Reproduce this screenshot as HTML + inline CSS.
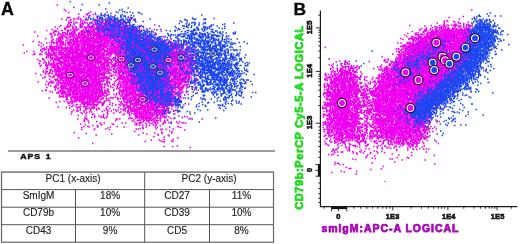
<!DOCTYPE html>
<html><head><meta charset="utf-8"><title>Figure</title><style>
html,body{margin:0;padding:0;background:#fff;width:520px;height:244px;overflow:hidden}
svg{position:absolute;left:0;top:0;display:block}
text{font-family:"Liberation Sans",sans-serif}
</style></head><body>
<svg width="520" height="244" viewBox="0 0 520 244">
<filter id="bl" x="0" y="0" width="1" height="1"><feGaussianBlur stdDeviation="0.6"/></filter><g transform="scale(.5)" fill="none" filter="url(#bl)"><path stroke="#f000f0" stroke-width="3.2" d="M113 10h3m11 9h3m0 3h3m47 2h3m30 0h3m-80 1h3m37 1h3m10 0h3m-36 2h3m14 0h3m-5 1h3m11 0h3m-14 1h3m28 1h3m-42 2h3m24 0h3m53 0h3m-96 1h3m-23 1h3m-1 0h3m36 0h3m13 0h3m29 0h3m31 0h3m-129 1h3m35 0h3m12 0h3m9 0h3m61 0h3m-119 1h3m4 0h3m3 0h3m32 0h3m16 0h3m-94 1h3m30 0h3m46 0h3m62 0h3m-132 1h3m5 0h3m19 0h3m24 0h3m17 0h3m0 0h3m0 0h3m6 0h3m7 0h3m-114 1h3m26 0h3m10 0h3m14 0h3m14 0h3m-70 1h3m20 0h3m-2 0h3m49 0h3m9 0h3m-2 0h3m22 0h3m10 0h3m-86 1h3m4 0h3m7 0h3m8 0h3m-1 0h3m2 0h3m13 0h3m19 0h3m-124 1h3m7 0h3m39 0h3m37 0h3m2 0h3m-76 1h3m5 0h3m30 0h3m6 0h3m19 0h3m2 0h3m0 0h3m-105 1h3m0 0h3m9 0h3m8 0h3m14 0h3m15 0h3m-2 0h3m-2 0h3m12 0h3m-1 0h3m1 0h3m3 0h3m9 0h3m6 0h3m1 0h3m-119 1h3m10 0h3m16 0h3m1 0h3m2 0h3m1 0h3m4 0h3m13 0h3m0 0h3m20 0h3m11 0h3m-102 1h3m14 0h3m7 0h3m8 0h3m2 0h3m4 0h3m1 0h3m3 0h3m1 0h3m1 0h3m14 0h3m-99 1h3m21 0h3m-2 0h3m2 0h3m10 0h3m12 0h3m16 0h3m-2 0h3m14 0h3m17 0h3m-114 1h3m23 0h3m17 0h3m1 0h3m0 0h3m3 0h3m6 0h3m10 0h3m14 0h3m-81 1h3m24 0h3m3 0h3m8 0h3m9 0h3m8 0h3m5 0h3m3 0h3m1 0h3m4 0h3m4 0h3m47 0h3m-191 1h3m11 0h3m25 0h3m32 0h3m2 0h3m15 0h3m7 0h3m11 0h3m7 0h3m6 0h3m15 0h3m-145 1h3m1 0h3m13 0h3m-1 0h3m11 0h3m-2 0h3m4 0h3m6 0h3m0 0h3m-1 0h3m6 0h3m-1 0h3m24 0h3m-1 0h3m17 0h3m-142 1h3m12 0h3m1 0h3m-2 0h3m8 0h3m22 0h3m-1 0h3m-2 0h3m-1 0h3m-1 0h3m14 0h3m-1 0h3m1 0h3m6 0h3m1 0h3m6 0h3m0 0h3m-2 0h3m4 0h3m-2 0h3m11 0h3m4 0h3m8 0h3m-164 1h3m23 0h3m6 0h3m4 0h3m9 0h3m2 0h3m2 0h3m5 0h3m0 0h3m-1 0h3m-2 0h3m7 0h3m1 0h3m3 0h3m1 0h3m-1 0h3m1 0h3m0 0h3m17 0h3m0 0h3m-1 0h3m-1 0h3m1 0h3m5 0h3m2 0h3m-135 1h3m16 0h3m6 0h3m4 0h3m1 0h3m5 0h3m11 0h3m6 0h3m2 0h3m1 0h3m3 0h3m-2 0h3m5 0h3m7 0h3m3 0h3m23 0h3m-143 1h3m14 0h3m29 0h3m4 0h3m3 0h3m0 0h3m2 0h3m0 0h3m4 0h3m-2 0h3m2 0h3m5 0h3m10 0h3m4 0h3m3 0h3m-2 0h3m3 0h3m4 0h3m7 0h3m11 0h3m-175 1h3m12 0h3m19 0h3m16 0h3m9 0h3m0 0h3m4 0h3m2 0h3m5 0h3m0 0h3m0 0h3m3 0h3m4 0h3m-1 0h3m0 0h3m21 0h3m2 0h3m4 0h3m0 0h3m-143 1h3m12 0h3m10 0h3m12 0h3m9 0h3m4 0h3m21 0h3m6 0h3m-1 0h3m17 0h3m7 0h3m5 0h3m11 0h3m-177 1h3m23 0h3m15 0h3m0 0h3m13 0h3m6 0h3m1 0h3m4 0h3m0 0h3m2 0h3m3 0h3m-2 0h3m-1 0h3m5 0h3m1 0h3m-1 0h3m3 0h3m1 0h3m20 0h3m11 0h3m40 0h3m-177 1h3m3 0h3m7 0h3m2 0h3m18 0h3m15 0h3m7 0h3m1 0h3m-2 0h3m1 0h3m5 0h3m5 0h3m0 0h3m2 0h3m0 0h3m2 0h3m-1 0h3m3 0h3m0 0h3m1 0h3m10 0h3m7 0h3m9 0h3m-205 1h3m15 0h3m9 0h3m-2 0h3m9 0h3m2 0h3m3 0h3m3 0h3m7 0h3m-1 0h3m3 0h3m13 0h3m-2 0h3m7 0h3m-2 0h3m0 0h3m-1 0h3m-1 0h3m4 0h3m4 0h3m3 0h3m5 0h3m5 0h3m34 0h3m-174 1h3m23 0h3m26 0h3m7 0h3m3 0h3m0 0h3m-2 0h3m0 0h3m7 0h3m5 0h3m1 0h3m4 0h3m-1 0h3m2 0h3m1 0h3m-1 0h3m15 0h3m-2 0h3m7 0h3m-151 1h3m0 0h3m21 0h3m6 0h3m0 0h3m14 0h3m-1 0h3m-1 0h3m4 0h3m4 0h3m2 0h3m7 0h3m2 0h3m2 0h3m9 0h3m0 0h3m9 0h3m-1 0h3m3 0h3m4 0h3m-1 0h3m-1 0h3m-2 0h3m0 0h3m1 0h3m0 0h3m3 0h3m0 0h3m5 0h3m5 0h3m29 0h3m-256 1h3m44 0h3m26 0h3m2 0h3m7 0h3m-1 0h3m2 0h3m3 0h3m3 0h3m3 0h3m4 0h3m-1 0h3m-2 0h3m5 0h3m0 0h3m11 0h3m0 0h3m-2 0h3m-2 0h3m10 0h3m2 0h3m-2 0h3m6 0h3m2 0h3m0 0h3m9 0h3m2 0h3m-2 0h3m13 0h3m-191 1h3m15 0h3m0 0h3m12 0h3m2 0h3m14 0h3m2 0h3m1 0h3m0 0h3m0 0h3m1 0h3m1 0h3m0 0h3m9 0h3m-1 0h3m9 0h3m-1 0h3m14 0h3m4 0h3m1 0h3m-2 0h3m-1 0h3m13 0h3m7 0h3m0 0h3m-175 1h3m20 0h3m1 0h3m2 0h3m15 0h3m-2 0h3m2 0h3m0 0h3m-1 0h3m6 0h3m6 0h3m0 0h3m0 0h3m2 0h3m0 0h3m5 0h3m-1 0h3m0 0h3m-1 0h3m4 0h3m1 0h3m0 0h3m-2 0h3m-1 0h3m1 0h3m16 0h3m2 0h3m0 0h3m24 0h3m17 0h3m-213 1h3m0 0h3m12 0h3m4 0h3m11 0h3m0 0h3m30 0h3m-2 0h3m3 0h3m10 0h3m3 0h3m12 0h3m0 0h3m1 0h3m1 0h3m7 0h3m1 0h3m8 0h3m13 0h3m9 0h3m17 0h3m-187 1h3m0 0h3m-2 0h3m2 0h3m13 0h3m1 0h3m-2 0h3m0 0h3m5 0h3m5 0h3m6 0h3m3 0h3m4 0h3m1 0h3m-2 0h3m-2 0h3m-1 0h3m0 0h3m-2 0h3m-2 0h3m-1 0h3m2 0h3m-1 0h3m2 0h3m1 0h3m-1 0h3m-2 0h3m0 0h3m11 0h3m-1 0h3m-2 0h3m2 0h3m3 0h3m7 0h3m-2 0h3m3 0h3m-1 0h3m14 0h3m0 0h3m18 0h3m-205 1h3m12 0h3m3 0h3m0 0h3m8 0h3m4 0h3m4 0h3m0 0h3m4 0h3m4 0h3m3 0h3m2 0h3m0 0h3m-2 0h3m-1 0h3m10 0h3m5 0h3m-1 0h3m3 0h3m5 0h3m-2 0h3m-1 0h3m1 0h3m6 0h3m0 0h3m3 0h3m-2 0h3m0 0h3m5 0h3m0 0h3m-1 0h3m2 0h3m-2 0h3m12 0h3m3 0h3m-200 1h3m4 0h3m3 0h3m4 0h3m-2 0h3m10 0h3m-1 0h3m2 0h3m6 0h3m8 0h3m-2 0h3m-1 0h3m5 0h3m1 0h3m-1 0h3m12 0h3m-2 0h3m0 0h3m6 0h3m14 0h3m-2 0h3m5 0h3m3 0h3m7 0h3m20 0h3m-153 1h3m-1 0h3m-1 0h3m17 0h3m6 0h3m-2 0h3m1 0h3m2 0h3m1 0h3m2 0h3m7 0h3m-2 0h3m1 0h3m4 0h3m3 0h3m1 0h3m-2 0h3m-1 0h3m0 0h3m3 0h3m1 0h3m3 0h3m5 0h3m-1 0h3m3 0h3m-1 0h3m11 0h3m-1 0h3m2 0h3m2 0h3m9 0h3m7 0h3m9 0h3m-235 1h3m51 0h3m9 0h3m1 0h3m19 0h3m11 0h3m3 0h3m3 0h3m-2 0h3m5 0h3m3 0h3m0 0h3m-1 0h3m-2 0h3m0 0h3m1 0h3m-1 0h3m-1 0h3m-2 0h3m-1 0h3m1 0h3m-1 0h3m0 0h3m2 0h3m-2 0h3m5 0h3m0 0h3m-1 0h3m3 0h3m14 0h3m-2 0h3m5 0h3m9 0h3m53 0h3m-255 1h3m18 0h3m18 0h3m0 0h3m2 0h3m-1 0h3m-2 0h3m0 0h3m2 0h3m2 0h3m-1 0h3m1 0h3m2 0h3m4 0h3m2 0h3m-1 0h3m2 0h3m2 0h3m-2 0h3m3 0h3m1 0h3m6 0h3m2 0h3m0 0h3m-1 0h3m7 0h3m0 0h3m2 0h3m-2 0h3m0 0h3m0 0h3m-1 0h3m64 0h3m-2 0h3m-215 1h3m0 0h3m-2 0h3m-2 0h3m-2 0h3m3 0h3m-1 0h3m3 0h3m26 0h3m26 0h3m0 0h3m3 0h3m0 0h3m0 0h3m-2 0h3m1 0h3m0 0h3m3 0h3m10 0h3m0 0h3m-1 0h3m4 0h3m-2 0h3m-1 0h3m7 0h3m5 0h3m5 0h3m-2 0h3m28 0h3m13 0h3m71 0h3m-287 1h3m21 0h3m4 0h3m1 0h3m-2 0h3m-1 0h3m5 0h3m-2 0h3m-2 0h3m3 0h3m-1 0h3m5 0h3m-2 0h3m0 0h3m-2 0h3m3 0h3m-2 0h3m1 0h3m0 0h3m0 0h3m7 0h3m3 0h3m1 0h3m-2 0h3m3 0h3m3 0h3m9 0h3m12 0h3m-1 0h3m2 0h3m0 0h3m3 0h3m8 0h3m-190 1h3m16 0h3m0 0h3m7 0h3m13 0h3m-2 0h3m1 0h3m-2 0h3m-2 0h3m-2 0h3m8 0h3m1 0h3m1 0h3m0 0h3m0 0h3m-2 0h3m4 0h3m1 0h3m4 0h3m8 0h3m3 0h3m0 0h3m-1 0h3m9 0h3m3 0h3m12 0h3m-2 0h3m6 0h3m2 0h3m6 0h3m-2 0h3m-1 0h3m3 0h3m21 0h3m-227 1h3m25 0h3m10 0h3m11 0h3m13 0h3m1 0h3m-2 0h3m6 0h3m0 0h3m1 0h3m1 0h3m2 0h3m-1 0h3m3 0h3m-2 0h3m2 0h3m0 0h3m-2 0h3m-2 0h3m15 0h3m3 0h3m9 0h3m2 0h3m-1 0h3m10 0h3m-1 0h3m-1 0h3m-1 0h3m0 0h3m2 0h3m2 0h3m-1 0h3m-1 0h3m2 0h3m-2 0h3m0 0h3m16 0h3m-208 1h3m0 0h3m-2 0h3m0 0h3m2 0h3m24 0h3m-1 0h3m10 0h3m10 0h3m3 0h3m0 0h3m1 0h3m2 0h3m4 0h3m1 0h3m-1 0h3m6 0h3m-2 0h3m3 0h3m2 0h3m-2 0h3m1 0h3m2 0h3m-1 0h3m13 0h3m-1 0h3m35 0h3m-2 0h3m38 0h3m-239 1h3m29 0h3m1 0h3m1 0h3m2 0h3m0 0h3m6 0h3m0 0h3m3 0h3m-2 0h3m-1 0h3m6 0h3m3 0h3m3 0h3m0 0h3m1 0h3m0 0h3m0 0h3m0 0h3m0 0h3m-2 0h3m12 0h3m1 0h3m-1 0h3m-2 0h3m9 0h3m-2 0h3m1 0h3m-2 0h3m6 0h3m-2 0h3m6 0h3m8 0h3m0 0h3m5 0h3m14 0h3m-197 1h3m-1 0h3m-2 0h3m8 0h3m2 0h3m0 0h3m-2 0h3m1 0h3m2 0h3m1 0h3m2 0h3m6 0h3m-1 0h3m3 0h3m9 0h3m0 0h3m5 0h3m-2 0h3m-1 0h3m-1 0h3m-1 0h3m1 0h3m-1 0h3m1 0h3m-1 0h3m-2 0h3m13 0h3m0 0h3m14 0h3m-2 0h3m-1 0h3m-2 0h3m4 0h3m1 0h3m3 0h3m-2 0h3m10 0h3m-2 0h3m18 0h3m38 0h3m-255 1h3m11 0h3m-2 0h3m19 0h3m12 0h3m-1 0h3m5 0h3m0 0h3m3 0h3m2 0h3m0 0h3m-1 0h3m1 0h3m2 0h3m5 0h3m4 0h3m1 0h3m0 0h3m-2 0h3m-1 0h3m5 0h3m0 0h3m-1 0h3m5 0h3m-1 0h3m1 0h3m7 0h3m2 0h3m4 0h3m-1 0h3m3 0h3m3 0h3m2 0h3m14 0h3m0 0h3m29 0h3m-229 1h3m-2 0h3m15 0h3m11 0h3m-2 0h3m2 0h3m8 0h3m0 0h3m3 0h3m-2 0h3m1 0h3m-1 0h3m0 0h3m1 0h3m-2 0h3m-1 0h3m4 0h3m3 0h3m-1 0h3m-2 0h3m1 0h3m5 0h3m14 0h3m2 0h3m-1 0h3m9 0h3m-2 0h3m0 0h3m3 0h3m-1 0h3m2 0h3m5 0h3m0 0h3m0 0h3m-2 0h3m-1 0h3m-1 0h3m-1 0h3m3 0h3m0 0h3m7 0h3m7 0h3m45 0h3m-304 1h3m36 0h3m11 0h3m1 0h3m23 0h3m0 0h3m0 0h3m-2 0h3m0 0h3m0 0h3m-1 0h3m3 0h3m17 0h3m4 0h3m-1 0h3m-2 0h3m7 0h3m0 0h3m-2 0h3m0 0h3m3 0h3m-2 0h3m-2 0h3m2 0h3m3 0h3m12 0h3m-1 0h3m1 0h3m0 0h3m8 0h3m-2 0h3m14 0h3m13 0h3m1 0h3m11 0h3m13 0h3m-264 1h3m35 0h3m2 0h3m2 0h3m6 0h3m0 0h3m1 0h3m-2 0h3m5 0h3m0 0h3m2 0h3m1 0h3m1 0h3m-1 0h3m0 0h3m-2 0h3m-2 0h3m1 0h3m-1 0h3m-2 0h3m-1 0h3m1 0h3m-2 0h3m1 0h3m-2 0h3m-2 0h3m4 0h3m-1 0h3m8 0h3m-2 0h3m3 0h3m-2 0h3m7 0h3m4 0h3m-2 0h3m-2 0h3m1 0h3m-2 0h3m0 0h3m22 0h3m-1 0h3m3 0h3m8 0h3m8 0h3m3 0h3m-1 0h3m9 0h3m9 0h3m3 0h3m12 0h3m-261 1h3m1 0h3m-1 0h3m-2 0h3m4 0h3m4 0h3m17 0h3m4 0h3m0 0h3m9 0h3m2 0h3m-2 0h3m-1 0h3m3 0h3m6 0h3m7 0h3m-1 0h3m3 0h3m1 0h3m0 0h3m3 0h3m8 0h3m1 0h3m10 0h3m2 0h3m2 0h3m-1 0h3m6 0h3m5 0h3m1 0h3m1 0h3m1 0h3m-2 0h3m1 0h3m-1 0h3m0 0h3m-2 0h3m-2 0h3m0 0h3m4 0h3m2 0h3m0 0h3m3 0h3m-1 0h3m12 0h3m-2 0h3m-260 1h3m8 0h3m13 0h3m8 0h3m-1 0h3m0 0h3m6 0h3m5 0h3m3 0h3m4 0h3m5 0h3m3 0h3m8 0h3m6 0h3m-2 0h3m-1 0h3m4 0h3m5 0h3m0 0h3m1 0h3m-1 0h3m0 0h3m2 0h3m-2 0h3m-1 0h3m1 0h3m4 0h3m7 0h3m1 0h3m1 0h3m-2 0h3m6 0h3m-1 0h3m-2 0h3m3 0h3m5 0h3m1 0h3m11 0h3m11 0h3m7 0h3m6 0h3m6 0h3m-2 0h3m2 0h3m16 0h3m-264 1h3m13 0h3m0 0h3m1 0h3m4 0h3m-2 0h3m-2 0h3m-1 0h3m2 0h3m1 0h3m0 0h3m9 0h3m5 0h3m8 0h3m-2 0h3m20 0h3m0 0h3m8 0h3m3 0h3m-1 0h3m3 0h3m-2 0h3m0 0h3m1 0h3m0 0h3m12 0h3m-1 0h3m6 0h3m3 0h3m1 0h3m4 0h3m7 0h3m5 0h3m5 0h3m4 0h3m-1 0h3m1 0h3m-219 1h3m-2 0h3m3 0h3m-1 0h3m12 0h3m0 0h3m-2 0h3m10 0h3m0 0h3m0 0h3m2 0h3m-1 0h3m1 0h3m0 0h3m-1 0h3m0 0h3m2 0h3m1 0h3m4 0h3m3 0h3m-1 0h3m-2 0h3m-1 0h3m1 0h3m-2 0h3m-2 0h3m-1 0h3m4 0h3m-1 0h3m-2 0h3m0 0h3m3 0h3m14 0h3m0 0h3m0 0h3m-1 0h3m1 0h3m20 0h3m-1 0h3m-1 0h3m0 0h3m2 0h3m5 0h3m10 0h3m2 0h3m16 0h3m0 0h3m18 0h3m-267 1h3m9 0h3m3 0h3m3 0h3m7 0h3m6 0h3m-1 0h3m-1 0h3m1 0h3m3 0h3m4 0h3m0 0h3m0 0h3m2 0h3m1 0h3m1 0h3m0 0h3m7 0h3m1 0h3m1 0h3m25 0h3m-1 0h3m6 0h3m0 0h3m8 0h3m3 0h3m-1 0h3m0 0h3m2 0h3m0 0h3m-2 0h3m1 0h3m7 0h3m11 0h3m5 0h3m27 0h3m6 0h3m5 0h3m18 0h3m-340 1h3m28 0h3m6 0h3m29 0h3m0 0h3m1 0h3m2 0h3m3 0h3m0 0h3m3 0h3m-1 0h3m-1 0h3m11 0h3m-1 0h3m3 0h3m0 0h3m-1 0h3m0 0h3m1 0h3m8 0h3m4 0h3m-2 0h3m-2 0h3m1 0h3m-2 0h3m-2 0h3m5 0h3m2 0h3m-1 0h3m7 0h3m1 0h3m-1 0h3m-2 0h3m0 0h3m1 0h3m0 0h3m0 0h3m1 0h3m0 0h3m3 0h3m-1 0h3m-1 0h3m0 0h3m1 0h3m2 0h3m-1 0h3m2 0h3m3 0h3m0 0h3m0 0h3m0 0h3m-1 0h3m0 0h3m0 0h3m7 0h3m7 0h3m7 0h3m5 0h3m2 0h3m0 0h3m10 0h3m-244 1h3m9 0h3m1 0h3m4 0h3m-1 0h3m6 0h3m1 0h3m1 0h3m1 0h3m7 0h3m0 0h3m2 0h3m0 0h3m0 0h3m-1 0h3m0 0h3m-1 0h3m3 0h3m-2 0h3m6 0h3m-1 0h3m-1 0h3m7 0h3m2 0h3m-1 0h3m-1 0h3m12 0h3m16 0h3m-2 0h3m2 0h3m-2 0h3m8 0h3m0 0h3m3 0h3m3 0h3m-2 0h3m7 0h3m0 0h3m5 0h3m8 0h3m-1 0h3m1 0h3m2 0h3m-261 1h3m11 0h3m23 0h3m14 0h3m8 0h3m10 0h3m0 0h3m1 0h3m0 0h3m3 0h3m-1 0h3m3 0h3m0 0h3m-2 0h3m-2 0h3m-2 0h3m7 0h3m5 0h3m0 0h3m1 0h3m0 0h3m10 0h3m-2 0h3m1 0h3m7 0h3m-2 0h3m11 0h3m0 0h3m2 0h3m-1 0h3m-2 0h3m-2 0h3m9 0h3m3 0h3m10 0h3m0 0h3m0 0h3m-1 0h3m1 0h3m1 0h3m0 0h3m12 0h3m2 0h3m-285 1h3m17 0h3m0 0h3m1 0h3m-2 0h3m3 0h3m3 0h3m16 0h3m-1 0h3m5 0h3m-1 0h3m4 0h3m1 0h3m-1 0h3m0 0h3m3 0h3m-2 0h3m-2 0h3m-1 0h3m11 0h3m-1 0h3m4 0h3m2 0h3m5 0h3m8 0h3m5 0h3m4 0h3m0 0h3m4 0h3m0 0h3m-1 0h3m2 0h3m-1 0h3m7 0h3m1 0h3m0 0h3m10 0h3m3 0h3m1 0h3m1 0h3m0 0h3m0 0h3m-1 0h3m2 0h3m9 0h3m8 0h3m13 0h3m4 0h3m-276 1h3m3 0h3m10 0h3m5 0h3m-1 0h3m-2 0h3m8 0h3m7 0h3m1 0h3m4 0h3m11 0h3m6 0h3m0 0h3m3 0h3m0 0h3m17 0h3m18 0h3m33 0h3m0 0h3m-1 0h3m-2 0h3m14 0h3m5 0h3m14 0h3m1 0h3m-1 0h3m6 0h3m2 0h3m10 0h3m0 0h3m8 0h3m-261 1h3m0 0h3m8 0h3m9 0h3m2 0h3m2 0h3m7 0h3m-1 0h3m-1 0h3m0 0h3m3 0h3m-1 0h3m-2 0h3m1 0h3m11 0h3m-1 0h3m1 0h3m1 0h3m1 0h3m0 0h3m8 0h3m-2 0h3m6 0h3m0 0h3m0 0h3m1 0h3m3 0h3m0 0h3m0 0h3m2 0h3m3 0h3m0 0h3m0 0h3m13 0h3m2 0h3m-1 0h3m7 0h3m19 0h3m-1 0h3m0 0h3m2 0h3m2 0h3m0 0h3m-2 0h3m4 0h3m7 0h3m4 0h3m16 0h3m11 0h3m-307 1h3m9 0h3m0 0h3m8 0h3m-2 0h3m-2 0h3m5 0h3m0 0h3m2 0h3m0 0h3m0 0h3m1 0h3m-1 0h3m4 0h3m2 0h3m15 0h3m-2 0h3m1 0h3m-1 0h3m4 0h3m4 0h3m0 0h3m-2 0h3m-1 0h3m1 0h3m-1 0h3m3 0h3m15 0h3m2 0h3m1 0h3m3 0h3m7 0h3m1 0h3m2 0h3m-1 0h3m5 0h3m1 0h3m3 0h3m-2 0h3m2 0h3m0 0h3m6 0h3m-2 0h3m23 0h3m7 0h3m1 0h3m-1 0h3m1 0h3m3 0h3m5 0h3m-282 1h3m19 0h3m-1 0h3m0 0h3m2 0h3m1 0h3m-2 0h3m2 0h3m-1 0h3m0 0h3m-1 0h3m3 0h3m0 0h3m8 0h3m5 0h3m-1 0h3m-1 0h3m-2 0h3m2 0h3m5 0h3m1 0h3m-1 0h3m4 0h3m3 0h3m2 0h3m8 0h3m2 0h3m0 0h3m0 0h3m0 0h3m2 0h3m5 0h3m-1 0h3m11 0h3m1 0h3m-1 0h3m0 0h3m0 0h3m-1 0h3m8 0h3m2 0h3m6 0h3m5 0h3m2 0h3m1 0h3m-1 0h3m3 0h3m9 0h3m-1 0h3m0 0h3m-2 0h3m7 0h3m4 0h3m22 0h3m-297 1h3m2 0h3m1 0h3m1 0h3m0 0h3m8 0h3m-2 0h3m8 0h3m10 0h3m3 0h3m0 0h3m-2 0h3m5 0h3m7 0h3m-1 0h3m1 0h3m0 0h3m-2 0h3m5 0h3m4 0h3m2 0h3m5 0h3m9 0h3m-2 0h3m1 0h3m21 0h3m-2 0h3m3 0h3m7 0h3m14 0h3m7 0h3m1 0h3m-2 0h3m6 0h3m4 0h3m3 0h3m-1 0h3m2 0h3m2 0h3m0 0h3m8 0h3m2 0h3m0 0h3m-1 0h3m0 0h3m5 0h3m9 0h3m9 0h3m-310 1h3m5 0h3m13 0h3m-1 0h3m1 0h3m2 0h3m4 0h3m0 0h3m2 0h3m3 0h3m3 0h3m4 0h3m-1 0h3m4 0h3m2 0h3m-1 0h3m3 0h3m2 0h3m0 0h3m4 0h3m-2 0h3m1 0h3m-1 0h3m-2 0h3m6 0h3m-2 0h3m0 0h3m14 0h3m2 0h3m-2 0h3m1 0h3m4 0h3m5 0h3m3 0h3m5 0h3m-1 0h3m4 0h3m2 0h3m5 0h3m0 0h3m6 0h3m0 0h3m7 0h3m-1 0h3m11 0h3m2 0h3m1 0h3m1 0h3m16 0h3m7 0h3m0 0h3m3 0h3m-299 1h3m2 0h3m6 0h3m10 0h3m5 0h3m4 0h3m3 0h3m0 0h3m4 0h3m7 0h3m2 0h3m0 0h3m0 0h3m0 0h3m3 0h3m2 0h3m0 0h3m0 0h3m-1 0h3m-2 0h3m-2 0h3m1 0h3m5 0h3m-1 0h3m-1 0h3m-2 0h3m2 0h3m-2 0h3m3 0h3m1 0h3m1 0h3m3 0h3m5 0h3m-2 0h3m0 0h3m1 0h3m0 0h3m0 0h3m13 0h3m0 0h3m-1 0h3m9 0h3m-2 0h3m-2 0h3m-1 0h3m0 0h3m8 0h3m2 0h3m1 0h3m7 0h3m3 0h3m2 0h3m-2 0h3m0 0h3m6 0h3m14 0h3m7 0h3m11 0h3m-308 1h3m18 0h3m0 0h3m5 0h3m2 0h3m1 0h3m5 0h3m-2 0h3m2 0h3m-1 0h3m2 0h3m0 0h3m-2 0h3m4 0h3m1 0h3m1 0h3m-2 0h3m3 0h3m0 0h3m-1 0h3m3 0h3m10 0h3m-2 0h3m-1 0h3m-1 0h3m3 0h3m-2 0h3m1 0h3m2 0h3m3 0h3m1 0h3m-1 0h3m1 0h3m7 0h3m9 0h3m-1 0h3m0 0h3m-1 0h3m5 0h3m3 0h3m-1 0h3m0 0h3m-1 0h3m-1 0h3m4 0h3m6 0h3m-2 0h3m8 0h3m2 0h3m0 0h3m5 0h3m1 0h3m12 0h3m11 0h3m9 0h3m0 0h3m6 0h3m-290 1h3m7 0h3m12 0h3m7 0h3m6 0h3m2 0h3m3 0h3m-2 0h3m10 0h3m0 0h3m-1 0h3m2 0h3m1 0h3m6 0h3m2 0h3m-2 0h3m4 0h3m6 0h3m-1 0h3m3 0h3m6 0h3m4 0h3m33 0h3m-1 0h3m17 0h3m0 0h3m9 0h3m-2 0h3m0 0h3m0 0h3m-1 0h3m0 0h3m0 0h3m3 0h3m-2 0h3m11 0h3m0 0h3m0 0h3m8 0h3m3 0h3m7 0h3m-326 1h3m11 0h3m27 0h3m4 0h3m0 0h3m10 0h3m5 0h3m5 0h3m-2 0h3m-1 0h3m2 0h3m1 0h3m-1 0h3m2 0h3m5 0h3m2 0h3m5 0h3m0 0h3m-1 0h3m1 0h3m1 0h3m-1 0h3m18 0h3m5 0h3m0 0h3m2 0h3m-2 0h3m0 0h3m-1 0h3m4 0h3m6 0h3m-1 0h3m9 0h3m1 0h3m3 0h3m-2 0h3m4 0h3m9 0h3m6 0h3m-2 0h3m6 0h3m1 0h3m4 0h3m16 0h3m2 0h3m-1 0h3m-2 0h3m0 0h3m4 0h3m4 0h3m6 0h3m5 0h3m-304 1h3m5 0h3m9 0h3m-1 0h3m7 0h3m3 0h3m9 0h3m-1 0h3m-1 0h3m6 0h3m-1 0h3m0 0h3m6 0h3m-1 0h3m6 0h3m-2 0h3m19 0h3m-2 0h3m0 0h3m-2 0h3m5 0h3m3 0h3m4 0h3m8 0h3m-1 0h3m-1 0h3m7 0h3m4 0h3m-2 0h3m8 0h3m1 0h3m-2 0h3m-2 0h3m1 0h3m0 0h3m5 0h3m0 0h3m7 0h3m-1 0h3m15 0h3m0 0h3m3 0h3m1 0h3m2 0h3m-2 0h3m-1 0h3m16 0h3m2 0h3m1 0h3m-1 0h3m3 0h3m9 0h3m-282 1h3m0 0h3m2 0h3m-1 0h3m3 0h3m-2 0h3m3 0h3m6 0h3m-2 0h3m0 0h3m0 0h3m-1 0h3m0 0h3m6 0h3m-1 0h3m4 0h3m1 0h3m1 0h3m-1 0h3m2 0h3m-1 0h3m0 0h3m-1 0h3m5 0h3m4 0h3m6 0h3m-2 0h3m4 0h3m0 0h3m-2 0h3m3 0h3m1 0h3m-1 0h3m7 0h3m-2 0h3m3 0h3m-1 0h3m-1 0h3m0 0h3m-1 0h3m7 0h3m5 0h3m10 0h3m7 0h3m15 0h3m1 0h3m-1 0h3m7 0h3m7 0h3m1 0h3m2 0h3m-1 0h3m7 0h3m6 0h3m2 0h3m-342 1h3m46 0h3m16 0h3m2 0h3m1 0h3m6 0h3m-1 0h3m-2 0h3m1 0h3m4 0h3m5 0h3m0 0h3m4 0h3m4 0h3m0 0h3m0 0h3m2 0h3m-1 0h3m2 0h3m2 0h3m4 0h3m-1 0h3m11 0h3m-2 0h3m-2 0h3m0 0h3m4 0h3m12 0h3m19 0h3m4 0h3m1 0h3m0 0h3m-2 0h3m1 0h3m-1 0h3m-1 0h3m0 0h3m4 0h3m-1 0h3m11 0h3m20 0h3m-2 0h3m0 0h3m-2 0h3m-1 0h3m-1 0h3m2 0h3m-288 1h3m18 0h3m6 0h3m-1 0h3m3 0h3m-2 0h3m-2 0h3m8 0h3m1 0h3m6 0h3m10 0h3m1 0h3m-2 0h3m0 0h3m0 0h3m0 0h3m3 0h3m4 0h3m-2 0h3m5 0h3m3 0h3m0 0h3m4 0h3m2 0h3m-1 0h3m5 0h3m-1 0h3m4 0h3m14 0h3m-1 0h3m1 0h3m1 0h3m-1 0h3m7 0h3m-2 0h3m0 0h3m10 0h3m-1 0h3m0 0h3m10 0h3m-1 0h3m6 0h3m0 0h3m4 0h3m8 0h3m0 0h3m1 0h3m1 0h3m4 0h3m4 0h3m2 0h3m5 0h3m-1 0h3m-291 1h3m10 0h3m13 0h3m14 0h3m1 0h3m5 0h3m-1 0h3m1 0h3m4 0h3m3 0h3m2 0h3m-2 0h3m-1 0h3m-1 0h3m7 0h3m2 0h3m4 0h3m0 0h3m-2 0h3m0 0h3m8 0h3m13 0h3m3 0h3m-1 0h3m-1 0h3m0 0h3m11 0h3m0 0h3m0 0h3m-1 0h3m3 0h3m3 0h3m5 0h3m7 0h3m1 0h3m2 0h3m2 0h3m0 0h3m-2 0h3m-1 0h3m1 0h3m3 0h3m-1 0h3m-2 0h3m0 0h3m-2 0h3m6 0h3m-2 0h3m0 0h3m4 0h3m1 0h3m-2 0h3m3 0h3m3 0h3m-2 0h3m1 0h3m1 0h3m0 0h3m-2 0h3m-312 1h3m-1 0h3m8 0h3m1 0h3m7 0h3m0 0h3m-2 0h3m1 0h3m-1 0h3m-1 0h3m0 0h3m2 0h3m2 0h3m0 0h3m1 0h3m-1 0h3m2 0h3m9 0h3m-1 0h3m4 0h3m-2 0h3m3 0h3m10 0h3m-1 0h3m1 0h3m3 0h3m9 0h3m0 0h3m14 0h3m0 0h3m-2 0h3m9 0h3m5 0h3m1 0h3m7 0h3m-1 0h3m7 0h3m4 0h3m6 0h3m3 0h3m4 0h3m1 0h3m-2 0h3m15 0h3m5 0h3m18 0h3m1 0h3m11 0h3m3 0h3m8 0h3m4 0h3m-292 1h3m6 0h3m4 0h3m5 0h3m4 0h3m0 0h3m-2 0h3m-2 0h3m-2 0h3m14 0h3m4 0h3m2 0h3m-1 0h3m4 0h3m8 0h3m1 0h3m7 0h3m-1 0h3m0 0h3m0 0h3m-2 0h3m-2 0h3m0 0h3m-1 0h3m15 0h3m1 0h3m-2 0h3m-2 0h3m-2 0h3m7 0h3m5 0h3m1 0h3m5 0h3m2 0h3m10 0h3m12 0h3m5 0h3m1 0h3m3 0h3m-1 0h3m2 0h3m8 0h3m0 0h3m8 0h3m-1 0h3m-1 0h3m-1 0h3m-2 0h3m6 0h3m-2 0h3m-278 1h3m-1 0h3m2 0h3m-2 0h3m5 0h3m7 0h3m0 0h3m2 0h3m1 0h3m0 0h3m-1 0h3m3 0h3m-2 0h3m-2 0h3m2 0h3m0 0h3m0 0h3m0 0h3m0 0h3m0 0h3m0 0h3m1 0h3m2 0h3m2 0h3m0 0h3m-2 0h3m2 0h3m0 0h3m-2 0h3m3 0h3m0 0h3m12 0h3m12 0h3m5 0h3m-1 0h3m2 0h3m0 0h3m4 0h3m1 0h3m0 0h3m-2 0h3m0 0h3m2 0h3m5 0h3m2 0h3m3 0h3m1 0h3m-2 0h3m4 0h3m-1 0h3m13 0h3m2 0h3m2 0h3m1 0h3m3 0h3m0 0h3m-1 0h3m4 0h3m18 0h3m4 0h3m3 0h3m0 0h3m-301 1h3m9 0h3m-1 0h3m9 0h3m3 0h3m-1 0h3m0 0h3m7 0h3m2 0h3m6 0h3m2 0h3m4 0h3m0 0h3m6 0h3m5 0h3m1 0h3m-2 0h3m6 0h3m13 0h3m8 0h3m6 0h3m7 0h3m6 0h3m8 0h3m8 0h3m8 0h3m1 0h3m-1 0h3m4 0h3m-2 0h3m4 0h3m3 0h3m-1 0h3m7 0h3m4 0h3m-1 0h3m6 0h3m0 0h3m0 0h3m3 0h3m1 0h3m-1 0h3m-1 0h3m1 0h3m-2 0h3m-1 0h3m6 0h3m-295 1h3m4 0h3m30 0h3m-2 0h3m-1 0h3m0 0h3m4 0h3m1 0h3m0 0h3m0 0h3m2 0h3m11 0h3m-1 0h3m5 0h3m-1 0h3m11 0h3m2 0h3m-2 0h3m21 0h3m1 0h3m6 0h3m4 0h3m-1 0h3m0 0h3m5 0h3m-1 0h3m4 0h3m0 0h3m-2 0h3m-1 0h3m-1 0h3m0 0h3m2 0h3m-1 0h3m14 0h3m0 0h3m2 0h3m5 0h3m-1 0h3m-1 0h3m6 0h3m2 0h3m-1 0h3m0 0h3m0 0h3m5 0h3m1 0h3m0 0h3m0 0h3m2 0h3m5 0h3m12 0h3m-286 1h3m-1 0h3m5 0h3m-2 0h3m-1 0h3m1 0h3m3 0h3m-1 0h3m2 0h3m8 0h3m7 0h3m0 0h3m6 0h3m-1 0h3m3 0h3m1 0h3m3 0h3m-1 0h3m-1 0h3m1 0h3m7 0h3m3 0h3m19 0h3m4 0h3m1 0h3m-1 0h3m0 0h3m0 0h3m5 0h3m4 0h3m3 0h3m13 0h3m0 0h3m-1 0h3m27 0h3m4 0h3m26 0h3m-2 0h3m0 0h3m-269 1h3m7 0h3m2 0h3m0 0h3m-2 0h3m2 0h3m0 0h3m5 0h3m2 0h3m0 0h3m2 0h3m2 0h3m-2 0h3m0 0h3m-1 0h3m0 0h3m0 0h3m0 0h3m-2 0h3m3 0h3m5 0h3m-1 0h3m13 0h3m0 0h3m2 0h3m10 0h3m-2 0h3m-1 0h3m9 0h3m0 0h3m11 0h3m0 0h3m6 0h3m2 0h3m0 0h3m1 0h3m4 0h3m7 0h3m2 0h3m0 0h3m-1 0h3m-1 0h3m1 0h3m-1 0h3m-1 0h3m3 0h3m-1 0h3m-1 0h3m3 0h3m1 0h3m-2 0h3m6 0h3m-2 0h3m1 0h3m2 0h3m14 0h3m2 0h3m-293 1h3m1 0h3m2 0h3m0 0h3m4 0h3m1 0h3m-1 0h3m-1 0h3m6 0h3m3 0h3m-1 0h3m0 0h3m-2 0h3m-1 0h3m3 0h3m-1 0h3m-2 0h3m3 0h3m1 0h3m-1 0h3m1 0h3m-2 0h3m5 0h3m3 0h3m-1 0h3m0 0h3m10 0h3m2 0h3m-2 0h3m27 0h3m-2 0h3m14 0h3m4 0h3m1 0h3m3 0h3m-2 0h3m5 0h3m3 0h3m17 0h3m5 0h3m-1 0h3m22 0h3m2 0h3m-1 0h3m3 0h3m4 0h3m0 0h3m6 0h3m2 0h3m0 0h3m8 0h3m13 0h3m-326 1h3m13 0h3m4 0h3m7 0h3m-2 0h3m0 0h3m4 0h3m0 0h3m6 0h3m0 0h3m7 0h3m-2 0h3m13 0h3m0 0h3m-1 0h3m1 0h3m3 0h3m3 0h3m-1 0h3m0 0h3m-1 0h3m0 0h3m12 0h3m7 0h3m6 0h3m-1 0h3m3 0h3m1 0h3m3 0h3m-2 0h3m6 0h3m5 0h3m1 0h3m0 0h3m5 0h3m5 0h3m4 0h3m-2 0h3m5 0h3m-1 0h3m4 0h3m-1 0h3m5 0h3m-2 0h3m6 0h3m14 0h3m15 0h3m0 0h3m-278 1h3m-2 0h3m2 0h3m-1 0h3m0 0h3m8 0h3m-1 0h3m3 0h3m1 0h3m6 0h3m0 0h3m1 0h3m-2 0h3m1 0h3m-2 0h3m1 0h3m2 0h3m-1 0h3m-2 0h3m-1 0h3m1 0h3m-2 0h3m3 0h3m1 0h3m0 0h3m6 0h3m0 0h3m3 0h3m-2 0h3m-2 0h3m7 0h3m1 0h3m9 0h3m3 0h3m1 0h3m-1 0h3m3 0h3m-1 0h3m-1 0h3m5 0h3m-2 0h3m3 0h3m-1 0h3m-2 0h3m3 0h3m-2 0h3m-1 0h3m2 0h3m5 0h3m3 0h3m-2 0h3m-2 0h3m-1 0h3m22 0h3m-1 0h3m-1 0h3m-2 0h3m-1 0h3m2 0h3m0 0h3m0 0h3m0 0h3m-2 0h3m-1 0h3m14 0h3m-2 0h3m0 0h3m-307 1h3m7 0h3m-2 0h3m20 0h3m-2 0h3m0 0h3m0 0h3m-1 0h3m10 0h3m8 0h3m-1 0h3m-1 0h3m1 0h3m13 0h3m6 0h3m-2 0h3m1 0h3m0 0h3m1 0h3m-2 0h3m-1 0h3m4 0h3m6 0h3m1 0h3m5 0h3m7 0h3m-2 0h3m2 0h3m3 0h3m0 0h3m2 0h3m0 0h3m7 0h3m-1 0h3m0 0h3m2 0h3m0 0h3m11 0h3m-1 0h3m9 0h3m0 0h3m2 0h3m1 0h3m5 0h3m1 0h3m-1 0h3m0 0h3m7 0h3m8 0h3m-1 0h3m8 0h3m-2 0h3m-2 0h3m1 0h3m8 0h3m11 0h3m-281 1h3m6 0h3m1 0h3m-2 0h3m1 0h3m2 0h3m8 0h3m1 0h3m1 0h3m-2 0h3m0 0h3m-1 0h3m4 0h3m2 0h3m-2 0h3m8 0h3m0 0h3m-2 0h3m2 0h3m7 0h3m0 0h3m-2 0h3m0 0h3m3 0h3m2 0h3m4 0h3m15 0h3m-1 0h3m3 0h3m6 0h3m0 0h3m0 0h3m10 0h3m5 0h3m2 0h3m9 0h3m-2 0h3m7 0h3m5 0h3m3 0h3m8 0h3m7 0h3m4 0h3m7 0h3m1 0h3m-295 1h3m10 0h3m2 0h3m1 0h3m-2 0h3m0 0h3m-1 0h3m-1 0h3m-1 0h3m4 0h3m0 0h3m-2 0h3m11 0h3m1 0h3m1 0h3m6 0h3m18 0h3m-2 0h3m-2 0h3m4 0h3m-1 0h3m-1 0h3m-1 0h3m30 0h3m3 0h3m1 0h3m0 0h3m-1 0h3m8 0h3m-2 0h3m3 0h3m5 0h3m4 0h3m-2 0h3m-1 0h3m-1 0h3m5 0h3m2 0h3m1 0h3m23 0h3m-1 0h3m-2 0h3m3 0h3m4 0h3m2 0h3m-1 0h3m0 0h3m-1 0h3m6 0h3m-288 1h3m35 0h3m9 0h3m3 0h3m1 0h3m-2 0h3m-2 0h3m0 0h3m-1 0h3m-1 0h3m-2 0h3m2 0h3m1 0h3m2 0h3m2 0h3m-2 0h3m3 0h3m-1 0h3m-2 0h3m0 0h3m3 0h3m11 0h3m-1 0h3m3 0h3m1 0h3m15 0h3m19 0h3m10 0h3m20 0h3m2 0h3m2 0h3m9 0h3m9 0h3m3 0h3m12 0h3m-2 0h3m-1 0h3m7 0h3m-1 0h3m-2 0h3m-2 0h3m5 0h3m3 0h3m-1 0h3m-1 0h3m1 0h3m-1 0h3m-308 1h3m14 0h3m7 0h3m10 0h3m-2 0h3m0 0h3m4 0h3m-1 0h3m-2 0h3m0 0h3m11 0h3m2 0h3m2 0h3m6 0h3m0 0h3m8 0h3m1 0h3m-2 0h3m3 0h3m-1 0h3m-1 0h3m13 0h3m4 0h3m7 0h3m1 0h3m3 0h3m-2 0h3m1 0h3m1 0h3m3 0h3m1 0h3m3 0h3m-1 0h3m0 0h3m-1 0h3m2 0h3m1 0h3m6 0h3m-2 0h3m-1 0h3m1 0h3m-1 0h3m0 0h3m9 0h3m7 0h3m0 0h3m4 0h3m6 0h3m2 0h3m1 0h3m0 0h3m3 0h3m0 0h3m2 0h3m-1 0h3m4 0h3m4 0h3m-300 1h3m26 0h3m9 0h3m14 0h3m16 0h3m1 0h3m0 0h3m2 0h3m5 0h3m2 0h3m5 0h3m-2 0h3m-2 0h3m3 0h3m-1 0h3m-1 0h3m-1 0h3m7 0h3m8 0h3m-2 0h3m6 0h3m12 0h3m-1 0h3m-2 0h3m-1 0h3m0 0h3m9 0h3m1 0h3m1 0h3m-1 0h3m0 0h3m0 0h3m8 0h3m1 0h3m6 0h3m1 0h3m17 0h3m2 0h3m-1 0h3m1 0h3m11 0h3m-1 0h3m0 0h3m0 0h3m1 0h3m2 0h3m4 0h3m-270 1h3m-1 0h3m5 0h3m-2 0h3m3 0h3m-1 0h3m3 0h3m4 0h3m0 0h3m0 0h3m-1 0h3m-1 0h3m0 0h3m0 0h3m3 0h3m0 0h3m-1 0h3m-1 0h3m-2 0h3m2 0h3m-2 0h3m10 0h3m2 0h3m0 0h3m0 0h3m10 0h3m3 0h3m0 0h3m7 0h3m-1 0h3m1 0h3m-1 0h3m6 0h3m0 0h3m5 0h3m5 0h3m1 0h3m-1 0h3m4 0h3m-2 0h3m2 0h3m14 0h3m3 0h3m4 0h3m-1 0h3m-2 0h3m-1 0h3m7 0h3m2 0h3m2 0h3m2 0h3m0 0h3m-1 0h3m7 0h3m-296 1h3m2 0h3m2 0h3m6 0h3m0 0h3m1 0h3m-2 0h3m0 0h3m-1 0h3m-1 0h3m-2 0h3m0 0h3m8 0h3m3 0h3m0 0h3m0 0h3m-1 0h3m-2 0h3m2 0h3m7 0h3m5 0h3m-1 0h3m0 0h3m9 0h3m1 0h3m-1 0h3m0 0h3m0 0h3m4 0h3m0 0h3m5 0h3m21 0h3m-2 0h3m0 0h3m1 0h3m16 0h3m7 0h3m4 0h3m23 0h3m1 0h3m12 0h3m6 0h3m12 0h3m3 0h3m5 0h3m11 0h3m5 0h3m-319 1h3m22 0h3m11 0h3m9 0h3m-2 0h3m2 0h3m0 0h3m3 0h3m12 0h3m-2 0h3m7 0h3m-1 0h3m7 0h3m-1 0h3m14 0h3m1 0h3m0 0h3m6 0h3m10 0h3m-1 0h3m-2 0h3m16 0h3m-1 0h3m0 0h3m2 0h3m1 0h3m3 0h3m0 0h3m-2 0h3m1 0h3m0 0h3m2 0h3m2 0h3m0 0h3m-2 0h3m3 0h3m7 0h3m2 0h3m3 0h3m-1 0h3m0 0h3m-2 0h3m-1 0h3m9 0h3m0 0h3m6 0h3m1 0h3m3 0h3m-1 0h3m7 0h3m4 0h3m-2 0h3m2 0h3m-315 1h3m10 0h3m3 0h3m-1 0h3m-1 0h3m9 0h3m2 0h3m-2 0h3m-1 0h3m2 0h3m1 0h3m4 0h3m-1 0h3m3 0h3m1 0h3m-2 0h3m-2 0h3m-1 0h3m-1 0h3m5 0h3m2 0h3m2 0h3m-1 0h3m-2 0h3m-2 0h3m-2 0h3m-2 0h3m0 0h3m-1 0h3m3 0h3m2 0h3m23 0h3m3 0h3m-2 0h3m9 0h3m-1 0h3m-2 0h3m8 0h3m1 0h3m-2 0h3m0 0h3m0 0h3m-1 0h3m8 0h3m4 0h3m5 0h3m6 0h3m-1 0h3m1 0h3m-2 0h3m8 0h3m4 0h3m-2 0h3m7 0h3m-1 0h3m4 0h3m-2 0h3m1 0h3m-2 0h3m3 0h3m-1 0h3m-1 0h3m5 0h3m4 0h3m-1 0h3m4 0h3m-284 1h3m11 0h3m5 0h3m-1 0h3m0 0h3m-1 0h3m2 0h3m4 0h3m7 0h3m-2 0h3m0 0h3m5 0h3m-2 0h3m21 0h3m3 0h3m2 0h3m4 0h3m0 0h3m7 0h3m8 0h3m11 0h3m3 0h3m8 0h3m-1 0h3m2 0h3m-2 0h3m1 0h3m1 0h3m0 0h3m5 0h3m6 0h3m-1 0h3m-1 0h3m0 0h3m3 0h3m0 0h3m0 0h3m13 0h3m-1 0h3m2 0h3m8 0h3m2 0h3m2 0h3m5 0h3m5 0h3m-295 1h3m2 0h3m1 0h3m-1 0h3m-1 0h3m2 0h3m-1 0h3m0 0h3m11 0h3m2 0h3m20 0h3m3 0h3m9 0h3m0 0h3m1 0h3m-2 0h3m0 0h3m-1 0h3m-1 0h3m-1 0h3m7 0h3m0 0h3m-1 0h3m-1 0h3m13 0h3m2 0h3m-2 0h3m4 0h3m1 0h3m0 0h3m9 0h3m2 0h3m-1 0h3m9 0h3m0 0h3m-2 0h3m0 0h3m-1 0h3m3 0h3m0 0h3m1 0h3m-1 0h3m9 0h3m7 0h3m-1 0h3m0 0h3m3 0h3m1 0h3m14 0h3m11 0h3m6 0h3m8 0h3m-308 1h3m7 0h3m-2 0h3m-2 0h3m9 0h3m-2 0h3m5 0h3m-2 0h3m3 0h3m5 0h3m0 0h3m2 0h3m-1 0h3m3 0h3m-1 0h3m2 0h3m3 0h3m1 0h3m5 0h3m-1 0h3m1 0h3m2 0h3m-1 0h3m0 0h3m1 0h3m18 0h3m2 0h3m14 0h3m4 0h3m14 0h3m2 0h3m2 0h3m-2 0h3m2 0h3m15 0h3m0 0h3m11 0h3m25 0h3m-1 0h3m4 0h3m7 0h3m10 0h3m0 0h3m4 0h3m-276 1h3m14 0h3m1 0h3m-1 0h3m-2 0h3m-2 0h3m2 0h3m5 0h3m-2 0h3m2 0h3m-2 0h3m-2 0h3m-2 0h3m1 0h3m1 0h3m1 0h3m-1 0h3m0 0h3m3 0h3m6 0h3m-2 0h3m8 0h3m2 0h3m3 0h3m1 0h3m-1 0h3m8 0h3m-1 0h3m1 0h3m5 0h3m5 0h3m0 0h3m-1 0h3m14 0h3m5 0h3m6 0h3m0 0h3m10 0h3m3 0h3m3 0h3m3 0h3m-1 0h3m0 0h3m-1 0h3m0 0h3m7 0h3m4 0h3m-2 0h3m0 0h3m4 0h3m-2 0h3m-1 0h3m-1 0h3m2 0h3m0 0h3m4 0h3m0 0h3m0 0h3m4 0h3m-314 1h3m9 0h3m14 0h3m-1 0h3m3 0h3m4 0h3m-1 0h3m5 0h3m3 0h3m2 0h3m9 0h3m-2 0h3m7 0h3m1 0h3m-1 0h3m2 0h3m-1 0h3m8 0h3m11 0h3m4 0h3m2 0h3m3 0h3m1 0h3m0 0h3m2 0h3m6 0h3m3 0h3m0 0h3m3 0h3m4 0h3m2 0h3m-1 0h3m7 0h3m1 0h3m4 0h3m10 0h3m1 0h3m-1 0h3m-2 0h3m6 0h3m1 0h3m0 0h3m-1 0h3m2 0h3m1 0h3m-2 0h3m19 0h3m10 0h3m10 0h3m1 0h3m8 0h3m-314 1h3m4 0h3m4 0h3m3 0h3m17 0h3m-2 0h3m-2 0h3m-1 0h3m-1 0h3m4 0h3m1 0h3m-1 0h3m-2 0h3m3 0h3m8 0h3m-1 0h3m4 0h3m5 0h3m2 0h3m-1 0h3m0 0h3m-2 0h3m0 0h3m-1 0h3m0 0h3m19 0h3m8 0h3m0 0h3m-1 0h3m12 0h3m-1 0h3m28 0h3m0 0h3m7 0h3m1 0h3m13 0h3m1 0h3m5 0h3m27 0h3m4 0h3m-2 0h3m1 0h3m20 0h3m-302 1h3m-2 0h3m6 0h3m8 0h3m1 0h3m2 0h3m4 0h3m1 0h3m-2 0h3m0 0h3m4 0h3m11 0h3m4 0h3m2 0h3m0 0h3m3 0h3m2 0h3m-1 0h3m3 0h3m9 0h3m2 0h3m3 0h3m16 0h3m0 0h3m-1 0h3m8 0h3m0 0h3m2 0h3m-1 0h3m5 0h3m-2 0h3m2 0h3m-2 0h3m1 0h3m11 0h3m-2 0h3m5 0h3m5 0h3m2 0h3m2 0h3m7 0h3m-1 0h3m4 0h3m-2 0h3m3 0h3m3 0h3m-2 0h3m6 0h3m11 0h3m-284 1h3m2 0h3m2 0h3m-2 0h3m0 0h3m3 0h3m2 0h3m0 0h3m6 0h3m6 0h3m-1 0h3m1 0h3m2 0h3m-1 0h3m1 0h3m2 0h3m2 0h3m12 0h3m5 0h3m1 0h3m0 0h3m22 0h3m-1 0h3m0 0h3m18 0h3m-2 0h3m1 0h3m3 0h3m3 0h3m-1 0h3m13 0h3m0 0h3m11 0h3m9 0h3m9 0h3m-2 0h3m3 0h3m0 0h3m-1 0h3m1 0h3m13 0h3m-2 0h3m1 0h3m-286 1h3m-1 0h3m13 0h3m3 0h3m0 0h3m-2 0h3m2 0h3m-2 0h3m1 0h3m1 0h3m4 0h3m3 0h3m0 0h3m-1 0h3m8 0h3m0 0h3m0 0h3m4 0h3m1 0h3m2 0h3m0 0h3m-2 0h3m0 0h3m15 0h3m1 0h3m9 0h3m4 0h3m2 0h3m7 0h3m-2 0h3m0 0h3m-1 0h3m-2 0h3m-1 0h3m10 0h3m0 0h3m-1 0h3m-1 0h3m6 0h3m-2 0h3m-1 0h3m2 0h3m1 0h3m1 0h3m7 0h3m0 0h3m0 0h3m-2 0h3m9 0h3m0 0h3m3 0h3m0 0h3m1 0h3m8 0h3m1 0h3m-1 0h3m-1 0h3m9 0h3m-2 0h3m13 0h3m-305 1h3m18 0h3m-2 0h3m1 0h3m-1 0h3m-1 0h3m2 0h3m0 0h3m4 0h3m1 0h3m-1 0h3m11 0h3m10 0h3m1 0h3m0 0h3m-2 0h3m-1 0h3m-2 0h3m-1 0h3m8 0h3m-1 0h3m0 0h3m-1 0h3m1 0h3m10 0h3m5 0h3m15 0h3m1 0h3m2 0h3m4 0h3m3 0h3m8 0h3m1 0h3m-1 0h3m8 0h3m-2 0h3m0 0h3m5 0h3m-1 0h3m3 0h3m-2 0h3m5 0h3m2 0h3m2 0h3m6 0h3m3 0h3m1 0h3m5 0h3m10 0h3m3 0h3m-283 1h3m-1 0h3m12 0h3m5 0h3m1 0h3m2 0h3m2 0h3m-2 0h3m2 0h3m0 0h3m-1 0h3m-1 0h3m0 0h3m1 0h3m1 0h3m-2 0h3m0 0h3m-2 0h3m4 0h3m5 0h3m2 0h3m0 0h3m1 0h3m2 0h3m4 0h3m6 0h3m9 0h3m9 0h3m-2 0h3m1 0h3m13 0h3m1 0h3m0 0h3m2 0h3m1 0h3m2 0h3m8 0h3m-2 0h3m6 0h3m0 0h3m16 0h3m1 0h3m-1 0h3m2 0h3m13 0h3m2 0h3m23 0h3m-283 1h3m2 0h3m-1 0h3m0 0h3m0 0h3m-2 0h3m6 0h3m-2 0h3m1 0h3m-2 0h3m1 0h3m6 0h3m12 0h3m6 0h3m2 0h3m2 0h3m16 0h3m-1 0h3m1 0h3m-2 0h3m0 0h3m0 0h3m1 0h3m4 0h3m10 0h3m3 0h3m0 0h3m9 0h3m26 0h3m1 0h3m0 0h3m4 0h3m-1 0h3m0 0h3m1 0h3m-1 0h3m-1 0h3m0 0h3m-2 0h3m4 0h3m0 0h3m2 0h3m4 0h3m4 0h3m-2 0h3m0 0h3m0 0h3m8 0h3m-2 0h3m3 0h3m13 0h3m-289 1h3m10 0h3m2 0h3m-1 0h3m-2 0h3m1 0h3m5 0h3m2 0h3m2 0h3m5 0h3m-1 0h3m1 0h3m1 0h3m-2 0h3m1 0h3m7 0h3m0 0h3m-2 0h3m0 0h3m-1 0h3m2 0h3m4 0h3m1 0h3m6 0h3m7 0h3m14 0h3m-1 0h3m9 0h3m8 0h3m3 0h3m17 0h3m4 0h3m0 0h3m11 0h3m3 0h3m-1 0h3m-1 0h3m-1 0h3m3 0h3m9 0h3m5 0h3m2 0h3m1 0h3m-1 0h3m2 0h3m4 0h3m2 0h3m0 0h3m9 0h3m-310 1h3m2 0h3m15 0h3m2 0h3m17 0h3m9 0h3m0 0h3m-1 0h3m1 0h3m4 0h3m7 0h3m0 0h3m5 0h3m1 0h3m3 0h3m2 0h3m-1 0h3m12 0h3m-2 0h3m18 0h3m9 0h3m1 0h3m3 0h3m1 0h3m4 0h3m-2 0h3m1 0h3m-2 0h3m-1 0h3m6 0h3m6 0h3m0 0h3m-2 0h3m1 0h3m-1 0h3m-2 0h3m13 0h3m7 0h3m4 0h3m-1 0h3m17 0h3m-2 0h3m4 0h3m2 0h3m-284 1h3m8 0h3m6 0h3m-2 0h3m-2 0h3m1 0h3m7 0h3m-1 0h3m4 0h3m3 0h3m0 0h3m3 0h3m3 0h3m2 0h3m0 0h3m2 0h3m-1 0h3m2 0h3m-1 0h3m-1 0h3m2 0h3m1 0h3m-2 0h3m1 0h3m12 0h3m10 0h3m11 0h3m0 0h3m-2 0h3m-1 0h3m2 0h3m1 0h3m3 0h3m-2 0h3m3 0h3m15 0h3m3 0h3m1 0h3m2 0h3m6 0h3m-1 0h3m3 0h3m-2 0h3m9 0h3m-2 0h3m2 0h3m3 0h3m0 0h3m-2 0h3m2 0h3m38 0h3m-303 1h3m4 0h3m8 0h3m3 0h3m0 0h3m-1 0h3m-2 0h3m2 0h3m2 0h3m2 0h3m1 0h3m3 0h3m3 0h3m1 0h3m5 0h3m9 0h3m4 0h3m0 0h3m0 0h3m7 0h3m1 0h3m-2 0h3m-1 0h3m16 0h3m0 0h3m-2 0h3m6 0h3m2 0h3m2 0h3m2 0h3m-1 0h3m4 0h3m0 0h3m0 0h3m10 0h3m-1 0h3m9 0h3m-1 0h3m1 0h3m7 0h3m-2 0h3m-1 0h3m9 0h3m0 0h3m14 0h3m-1 0h3m4 0h3m-1 0h3m4 0h3m-1 0h3m2 0h3m0 0h3m1 0h3m9 0h3m-308 1h3m22 0h3m11 0h3m0 0h3m0 0h3m-2 0h3m0 0h3m0 0h3m-2 0h3m1 0h3m0 0h3m2 0h3m0 0h3m0 0h3m2 0h3m5 0h3m6 0h3m-1 0h3m6 0h3m0 0h3m4 0h3m7 0h3m3 0h3m12 0h3m1 0h3m6 0h3m9 0h3m6 0h3m6 0h3m13 0h3m-1 0h3m-2 0h3m-1 0h3m4 0h3m10 0h3m-1 0h3m3 0h3m1 0h3m11 0h3m8 0h3m14 0h3m-1 0h3m3 0h3m2 0h3m1 0h3m-299 1h3m5 0h3m15 0h3m3 0h3m-1 0h3m-2 0h3m19 0h3m-1 0h3m5 0h3m0 0h3m0 0h3m-2 0h3m-1 0h3m-2 0h3m-2 0h3m0 0h3m0 0h3m-2 0h3m8 0h3m-2 0h3m-1 0h3m4 0h3m8 0h3m6 0h3m-1 0h3m8 0h3m6 0h3m6 0h3m-2 0h3m0 0h3m4 0h3m10 0h3m4 0h3m-1 0h3m-1 0h3m1 0h3m-2 0h3m-2 0h3m4 0h3m1 0h3m2 0h3m-2 0h3m1 0h3m7 0h3m0 0h3m6 0h3m-1 0h3m-2 0h3m-1 0h3m0 0h3m-2 0h3m0 0h3m0 0h3m5 0h3m1 0h3m-1 0h3m-2 0h3m-2 0h3m-2 0h3m-1 0h3m4 0h3m-305 1h3m24 0h3m2 0h3m-2 0h3m24 0h3m3 0h3m-2 0h3m2 0h3m-2 0h3m-1 0h3m2 0h3m-2 0h3m-2 0h3m17 0h3m0 0h3m1 0h3m-1 0h3m1 0h3m6 0h3m-1 0h3m3 0h3m1 0h3m4 0h3m-2 0h3m3 0h3m14 0h3m4 0h3m0 0h3m4 0h3m1 0h3m-1 0h3m11 0h3m6 0h3m22 0h3m-1 0h3m1 0h3m6 0h3m20 0h3m0 0h3m2 0h3m6 0h3m10 0h3m-289 1h3m2 0h3m12 0h3m-2 0h3m1 0h3m1 0h3m-1 0h3m4 0h3m8 0h3m-2 0h3m9 0h3m-1 0h3m2 0h3m-1 0h3m4 0h3m1 0h3m-2 0h3m-2 0h3m1 0h3m-1 0h3m1 0h3m1 0h3m0 0h3m1 0h3m-2 0h3m-2 0h3m0 0h3m1 0h3m1 0h3m24 0h3m14 0h3m1 0h3m0 0h3m0 0h3m7 0h3m10 0h3m0 0h3m0 0h3m-2 0h3m-2 0h3m-1 0h3m3 0h3m8 0h3m0 0h3m6 0h3m0 0h3m-2 0h3m10 0h3m10 0h3m0 0h3m0 0h3m4 0h3m0 0h3m1 0h3m4 0h3m25 0h3m-300 1h3m0 0h3m0 0h3m0 0h3m0 0h3m16 0h3m9 0h3m8 0h3m6 0h3m3 0h3m-1 0h3m1 0h3m12 0h3m0 0h3m-2 0h3m27 0h3m-2 0h3m5 0h3m3 0h3m2 0h3m5 0h3m-1 0h3m2 0h3m-1 0h3m2 0h3m2 0h3m3 0h3m6 0h3m1 0h3m2 0h3m0 0h3m1 0h3m0 0h3m1 0h3m1 0h3m2 0h3m-2 0h3m-1 0h3m4 0h3m1 0h3m0 0h3m-1 0h3m0 0h3m1 0h3m0 0h3m1 0h3m6 0h3m6 0h3m4 0h3m-311 1h3m26 0h3m0 0h3m-1 0h3m0 0h3m-2 0h3m0 0h3m0 0h3m-1 0h3m1 0h3m-1 0h3m0 0h3m-2 0h3m-2 0h3m-1 0h3m-2 0h3m-1 0h3m2 0h3m-1 0h3m0 0h3m-2 0h3m1 0h3m12 0h3m2 0h3m8 0h3m0 0h3m6 0h3m4 0h3m15 0h3m1 0h3m9 0h3m-2 0h3m13 0h3m6 0h3m4 0h3m-1 0h3m-1 0h3m-2 0h3m0 0h3m0 0h3m4 0h3m7 0h3m14 0h3m4 0h3m5 0h3m2 0h3m16 0h3m0 0h3m0 0h3m-1 0h3m7 0h3m-262 1h3m-1 0h3m-2 0h3m0 0h3m19 0h3m-1 0h3m2 0h3m9 0h3m-1 0h3m-2 0h3m3 0h3m-1 0h3m-1 0h3m-1 0h3m1 0h3m0 0h3m3 0h3m0 0h3m-1 0h3m4 0h3m-2 0h3m13 0h3m14 0h3m0 0h3m14 0h3m2 0h3m-1 0h3m-1 0h3m-1 0h3m12 0h3m-1 0h3m1 0h3m0 0h3m8 0h3m1 0h3m0 0h3m-1 0h3m-1 0h3m-1 0h3m0 0h3m-2 0h3m-1 0h3m-1 0h3m8 0h3m2 0h3m-2 0h3m2 0h3m7 0h3m18 0h3m9 0h3m-296 1h3m5 0h3m-1 0h3m4 0h3m13 0h3m-2 0h3m-2 0h3m-2 0h3m-2 0h3m1 0h3m-2 0h3m0 0h3m7 0h3m1 0h3m3 0h3m-2 0h3m0 0h3m1 0h3m1 0h3m4 0h3m1 0h3m0 0h3m-2 0h3m26 0h3m1 0h3m7 0h3m3 0h3m5 0h3m2 0h3m-1 0h3m-2 0h3m-2 0h3m3 0h3m3 0h3m-1 0h3m0 0h3m-1 0h3m-1 0h3m2 0h3m-2 0h3m3 0h3m5 0h3m-2 0h3m0 0h3m19 0h3m6 0h3m-2 0h3m12 0h3m-1 0h3m-1 0h3m2 0h3m12 0h3m-1 0h3m-277 1h3m13 0h3m-2 0h3m1 0h3m12 0h3m3 0h3m0 0h3m0 0h3m-1 0h3m3 0h3m0 0h3m4 0h3m4 0h3m1 0h3m0 0h3m12 0h3m-2 0h3m9 0h3m1 0h3m23 0h3m2 0h3m17 0h3m7 0h3m9 0h3m1 0h3m0 0h3m11 0h3m2 0h3m3 0h3m17 0h3m1 0h3m2 0h3m5 0h3m2 0h3m-1 0h3m5 0h3m-2 0h3m4 0h3m-290 1h3m13 0h3m-2 0h3m14 0h3m0 0h3m0 0h3m16 0h3m3 0h3m2 0h3m4 0h3m4 0h3m0 0h3m3 0h3m7 0h3m7 0h3m34 0h3m4 0h3m2 0h3m2 0h3m1 0h3m-1 0h3m-2 0h3m0 0h3m-2 0h3m5 0h3m0 0h3m-2 0h3m2 0h3m5 0h3m-1 0h3m4 0h3m2 0h3m-2 0h3m0 0h3m-2 0h3m1 0h3m-1 0h3m-2 0h3m0 0h3m3 0h3m-1 0h3m1 0h3m1 0h3m8 0h3m0 0h3m12 0h3m1 0h3m2 0h3m2 0h3m-295 1h3m12 0h3m11 0h3m2 0h3m0 0h3m0 0h3m2 0h3m-1 0h3m5 0h3m0 0h3m2 0h3m-1 0h3m0 0h3m2 0h3m4 0h3m-1 0h3m8 0h3m4 0h3m0 0h3m2 0h3m-2 0h3m6 0h3m0 0h3m0 0h3m0 0h3m18 0h3m0 0h3m1 0h3m-2 0h3m-1 0h3m-1 0h3m2 0h3m4 0h3m7 0h3m2 0h3m5 0h3m1 0h3m-2 0h3m6 0h3m-1 0h3m4 0h3m0 0h3m12 0h3m1 0h3m15 0h3m9 0h3m4 0h3m3 0h3m3 0h3m-296 1h3m33 0h3m-2 0h3m5 0h3m0 0h3m4 0h3m-1 0h3m3 0h3m6 0h3m0 0h3m2 0h3m11 0h3m-2 0h3m-1 0h3m1 0h3m0 0h3m5 0h3m0 0h3m-1 0h3m-1 0h3m6 0h3m12 0h3m9 0h3m5 0h3m1 0h3m10 0h3m-2 0h3m1 0h3m1 0h3m24 0h3m16 0h3m3 0h3m3 0h3m0 0h3m-1 0h3m8 0h3m-1 0h3m1 0h3m-1 0h3m-2 0h3m5 0h3m1 0h3m0 0h3m8 0h3m-271 1h3m7 0h3m-2 0h3m0 0h3m-2 0h3m-2 0h3m1 0h3m-2 0h3m-1 0h3m-2 0h3m0 0h3m0 0h3m5 0h3m1 0h3m2 0h3m0 0h3m12 0h3m2 0h3m3 0h3m4 0h3m-1 0h3m-1 0h3m0 0h3m0 0h3m0 0h3m4 0h3m15 0h3m14 0h3m0 0h3m7 0h3m1 0h3m8 0h3m3 0h3m1 0h3m0 0h3m0 0h3m-2 0h3m-1 0h3m-2 0h3m1 0h3m2 0h3m30 0h3m9 0h3m3 0h3m0 0h3m10 0h3m-281 1h3m7 0h3m11 0h3m6 0h3m7 0h3m0 0h3m0 0h3m0 0h3m2 0h3m2 0h3m2 0h3m0 0h3m-1 0h3m-2 0h3m-2 0h3m3 0h3m-2 0h3m-1 0h3m0 0h3m2 0h3m-2 0h3m-1 0h3m19 0h3m17 0h3m0 0h3m0 0h3m-1 0h3m0 0h3m4 0h3m2 0h3m-2 0h3m0 0h3m-1 0h3m2 0h3m6 0h3m2 0h3m1 0h3m2 0h3m12 0h3m-2 0h3m1 0h3m-1 0h3m0 0h3m5 0h3m6 0h3m0 0h3m-2 0h3m1 0h3m-2 0h3m-2 0h3m5 0h3m2 0h3m0 0h3m3 0h3m-2 0h3m1 0h3m0 0h3m2 0h3m7 0h3m-2 0h3m-1 0h3m-283 1h3m5 0h3m-1 0h3m8 0h3m-1 0h3m-2 0h3m-1 0h3m-1 0h3m3 0h3m1 0h3m1 0h3m-1 0h3m-1 0h3m1 0h3m1 0h3m-1 0h3m4 0h3m-2 0h3m5 0h3m1 0h3m0 0h3m0 0h3m-1 0h3m0 0h3m12 0h3m5 0h3m10 0h3m5 0h3m3 0h3m2 0h3m-1 0h3m7 0h3m2 0h3m0 0h3m1 0h3m0 0h3m10 0h3m4 0h3m1 0h3m2 0h3m0 0h3m12 0h3m-1 0h3m14 0h3m-2 0h3m5 0h3m3 0h3m0 0h3m1 0h3m23 0h3m-284 1h3m13 0h3m1 0h3m0 0h3m1 0h3m7 0h3m5 0h3m-2 0h3m0 0h3m-2 0h3m7 0h3m8 0h3m-1 0h3m2 0h3m3 0h3m5 0h3m5 0h3m15 0h3m15 0h3m6 0h3m-1 0h3m19 0h3m1 0h3m-2 0h3m3 0h3m0 0h3m2 0h3m-1 0h3m9 0h3m0 0h3m-1 0h3m1 0h3m2 0h3m3 0h3m11 0h3m1 0h3m2 0h3m6 0h3m7 0h3m-270 1h3m1 0h3m3 0h3m1 0h3m-2 0h3m3 0h3m5 0h3m1 0h3m4 0h3m11 0h3m-1 0h3m0 0h3m0 0h3m6 0h3m-1 0h3m9 0h3m3 0h3m3 0h3m22 0h3m12 0h3m0 0h3m1 0h3m6 0h3m2 0h3m0 0h3m2 0h3m0 0h3m2 0h3m9 0h3m8 0h3m1 0h3m1 0h3m7 0h3m0 0h3m1 0h3m0 0h3m3 0h3m1 0h3m7 0h3m2 0h3m-2 0h3m0 0h3m-1 0h3m7 0h3m-278 1h3m-2 0h3m12 0h3m5 0h3m-2 0h3m5 0h3m6 0h3m-2 0h3m1 0h3m-2 0h3m1 0h3m-2 0h3m-1 0h3m3 0h3m2 0h3m4 0h3m-2 0h3m-2 0h3m-1 0h3m-2 0h3m3 0h3m1 0h3m13 0h3m4 0h3m23 0h3m8 0h3m2 0h3m-1 0h3m2 0h3m2 0h3m3 0h3m3 0h3m0 0h3m-2 0h3m1 0h3m1 0h3m-1 0h3m1 0h3m4 0h3m-2 0h3m5 0h3m-2 0h3m4 0h3m-1 0h3m1 0h3m4 0h3m1 0h3m9 0h3m13 0h3m1 0h3m-2 0h3m1 0h3m-285 1h3m20 0h3m12 0h3m-2 0h3m1 0h3m0 0h3m17 0h3m-2 0h3m6 0h3m0 0h3m3 0h3m2 0h3m0 0h3m-1 0h3m2 0h3m1 0h3m-1 0h3m-2 0h3m-1 0h3m-1 0h3m23 0h3m5 0h3m5 0h3m-1 0h3m1 0h3m1 0h3m2 0h3m1 0h3m8 0h3m-1 0h3m3 0h3m10 0h3m2 0h3m1 0h3m-1 0h3m12 0h3m11 0h3m2 0h3m-2 0h3m8 0h3m12 0h3m1 0h3m-300 1h3m22 0h3m3 0h3m16 0h3m6 0h3m1 0h3m0 0h3m0 0h3m4 0h3m-1 0h3m-2 0h3m0 0h3m1 0h3m-2 0h3m1 0h3m6 0h3m-2 0h3m9 0h3m3 0h3m-1 0h3m15 0h3m0 0h3m21 0h3m-2 0h3m2 0h3m-1 0h3m9 0h3m-2 0h3m3 0h3m2 0h3m-1 0h3m1 0h3m0 0h3m0 0h3m8 0h3m5 0h3m4 0h3m13 0h3m-2 0h3m-2 0h3m4 0h3m-1 0h3m-2 0h3m3 0h3m0 0h3m5 0h3m0 0h3m-2 0h3m0 0h3m18 0h3m-290 1h3m3 0h3m14 0h3m5 0h3m-2 0h3m1 0h3m8 0h3m9 0h3m7 0h3m2 0h3m-2 0h3m7 0h3m-2 0h3m1 0h3m-1 0h3m4 0h3m13 0h3m28 0h3m8 0h3m-1 0h3m5 0h3m3 0h3m5 0h3m2 0h3m-1 0h3m5 0h3m1 0h3m-2 0h3m0 0h3m8 0h3m-2 0h3m6 0h3m8 0h3m8 0h3m5 0h3m1 0h3m2 0h3m-2 0h3m2 0h3m0 0h3m7 0h3m-1 0h3m-283 1h3m-1 0h3m5 0h3m-1 0h3m0 0h3m0 0h3m0 0h3m0 0h3m4 0h3m-1 0h3m0 0h3m1 0h3m-2 0h3m0 0h3m1 0h3m-2 0h3m4 0h3m-1 0h3m3 0h3m-1 0h3m-1 0h3m12 0h3m-2 0h3m0 0h3m-1 0h3m-1 0h3m3 0h3m25 0h3m14 0h3m5 0h3m-1 0h3m1 0h3m7 0h3m-1 0h3m2 0h3m-1 0h3m1 0h3m5 0h3m-2 0h3m6 0h3m0 0h3m-1 0h3m0 0h3m0 0h3m4 0h3m9 0h3m4 0h3m10 0h3m-2 0h3m-257 1h3m20 0h3m4 0h3m1 0h3m-1 0h3m0 0h3m5 0h3m-1 0h3m-1 0h3m8 0h3m3 0h3m4 0h3m-1 0h3m-2 0h3m1 0h3m0 0h3m-1 0h3m9 0h3m0 0h3m-2 0h3m16 0h3m18 0h3m7 0h3m12 0h3m3 0h3m6 0h3m5 0h3m-1 0h3m0 0h3m-1 0h3m1 0h3m0 0h3m8 0h3m2 0h3m-1 0h3m-1 0h3m0 0h3m7 0h3m2 0h3m9 0h3m4 0h3m28 0h3m-270 1h3m2 0h3m4 0h3m2 0h3m6 0h3m1 0h3m4 0h3m3 0h3m0 0h3m2 0h3m4 0h3m11 0h3m7 0h3m1 0h3m2 0h3m20 0h3m5 0h3m5 0h3m3 0h3m1 0h3m-2 0h3m7 0h3m-1 0h3m6 0h3m3 0h3m13 0h3m6 0h3m-2 0h3m3 0h3m1 0h3m2 0h3m3 0h3m1 0h3m-2 0h3m4 0h3m2 0h3m-2 0h3m3 0h3m12 0h3m-289 1h3m34 0h3m-1 0h3m6 0h3m-1 0h3m0 0h3m-2 0h3m4 0h3m-1 0h3m-2 0h3m0 0h3m1 0h3m-1 0h3m-2 0h3m2 0h3m5 0h3m1 0h3m0 0h3m0 0h3m1 0h3m2 0h3m-1 0h3m-1 0h3m0 0h3m3 0h3m12 0h3m7 0h3m21 0h3m7 0h3m0 0h3m3 0h3m1 0h3m2 0h3m-2 0h3m8 0h3m2 0h3m14 0h3m0 0h3m0 0h3m4 0h3m8 0h3m4 0h3m4 0h3m9 0h3m0 0h3m-2 0h3m-282 1h3m14 0h3m0 0h3m4 0h3m8 0h3m4 0h3m6 0h3m15 0h3m0 0h3m3 0h3m4 0h3m-2 0h3m1 0h3m17 0h3m2 0h3m-2 0h3m10 0h3m4 0h3m-1 0h3m8 0h3m7 0h3m0 0h3m23 0h3m12 0h3m-1 0h3m-1 0h3m-2 0h3m5 0h3m-1 0h3m10 0h3m-1 0h3m3 0h3m-1 0h3m1 0h3m1 0h3m9 0h3m5 0h3m-2 0h3m-262 1h3m9 0h3m0 0h3m5 0h3m1 0h3m0 0h3m-2 0h3m3 0h3m2 0h3m3 0h3m10 0h3m0 0h3m3 0h3m-2 0h3m1 0h3m3 0h3m0 0h3m1 0h3m0 0h3m24 0h3m22 0h3m8 0h3m-1 0h3m-2 0h3m4 0h3m1 0h3m9 0h3m0 0h3m3 0h3m-2 0h3m-2 0h3m3 0h3m-2 0h3m2 0h3m3 0h3m6 0h3m15 0h3m0 0h3m4 0h3m-1 0h3m4 0h3m-267 1h3m24 0h3m12 0h3m10 0h3m3 0h3m-2 0h3m-1 0h3m-1 0h3m1 0h3m8 0h3m16 0h3m17 0h3m10 0h3m4 0h3m2 0h3m2 0h3m0 0h3m8 0h3m5 0h3m14 0h3m3 0h3m0 0h3m2 0h3m3 0h3m-2 0h3m6 0h3m-2 0h3m-1 0h3m-2 0h3m-2 0h3m3 0h3m3 0h3m1 0h3m6 0h3m2 0h3m15 0h3m-252 1h3m-1 0h3m-1 0h3m0 0h3m-1 0h3m12 0h3m-1 0h3m3 0h3m0 0h3m3 0h3m-2 0h3m0 0h3m-2 0h3m-1 0h3m-1 0h3m-1 0h3m-2 0h3m1 0h3m0 0h3m-2 0h3m0 0h3m1 0h3m1 0h3m3 0h3m11 0h3m26 0h3m3 0h3m6 0h3m-1 0h3m2 0h3m1 0h3m0 0h3m1 0h3m0 0h3m0 0h3m9 0h3m2 0h3m3 0h3m4 0h3m8 0h3m2 0h3m1 0h3m0 0h3m3 0h3m9 0h3m25 0h3m-278 1h3m-1 0h3m0 0h3m5 0h3m-2 0h3m0 0h3m-2 0h3m-2 0h3m11 0h3m1 0h3m4 0h3m4 0h3m-2 0h3m2 0h3m2 0h3m0 0h3m4 0h3m0 0h3m4 0h3m6 0h3m-2 0h3m0 0h3m3 0h3m9 0h3m24 0h3m5 0h3m3 0h3m3 0h3m-1 0h3m5 0h3m-1 0h3m0 0h3m-2 0h3m-2 0h3m10 0h3m0 0h3m-1 0h3m6 0h3m1 0h3m8 0h3m-2 0h3m8 0h3m-2 0h3m1 0h3m1 0h3m0 0h3m3 0h3m2 0h3m-1 0h3m0 0h3m4 0h3m8 0h3m-295 1h3m29 0h3m11 0h3m1 0h3m0 0h3m0 0h3m0 0h3m0 0h3m5 0h3m1 0h3m4 0h3m-1 0h3m-2 0h3m10 0h3m-2 0h3m3 0h3m5 0h3m1 0h3m13 0h3m6 0h3m2 0h3m-1 0h3m2 0h3m2 0h3m-1 0h3m2 0h3m-1 0h3m0 0h3m0 0h3m1 0h3m0 0h3m-1 0h3m17 0h3m2 0h3m4 0h3m-1 0h3m5 0h3m-1 0h3m2 0h3m-2 0h3m-1 0h3m2 0h3m4 0h3m9 0h3m1 0h3m1 0h3m-245 1h3m3 0h3m0 0h3m-1 0h3m-1 0h3m2 0h3m2 0h3m10 0h3m0 0h3m9 0h3m0 0h3m3 0h3m4 0h3m-1 0h3m3 0h3m-2 0h3m1 0h3m5 0h3m42 0h3m-2 0h3m0 0h3m0 0h3m20 0h3m3 0h3m0 0h3m-2 0h3m21 0h3m5 0h3m6 0h3m0 0h3m1 0h3m1 0h3m-234 1h3m8 0h3m2 0h3m2 0h3m-1 0h3m8 0h3m8 0h3m-1 0h3m3 0h3m9 0h3m0 0h3m3 0h3m5 0h3m2 0h3m2 0h3m27 0h3m1 0h3m19 0h3m0 0h3m3 0h3m23 0h3m2 0h3m3 0h3m0 0h3m0 0h3m11 0h3m-1 0h3m1 0h3m1 0h3m-2 0h3m10 0h3m4 0h3m3 0h3m0 0h3m5 0h3m8 0h3m-272 1h3m4 0h3m-1 0h3m3 0h3m-1 0h3m-2 0h3m1 0h3m2 0h3m5 0h3m1 0h3m-2 0h3m1 0h3m2 0h3m6 0h3m3 0h3m-1 0h3m-1 0h3m1 0h3m0 0h3m-2 0h3m2 0h3m16 0h3m46 0h3m-2 0h3m1 0h3m3 0h3m1 0h3m-1 0h3m-1 0h3m2 0h3m1 0h3m1 0h3m3 0h3m5 0h3m4 0h3m2 0h3m3 0h3m3 0h3m5 0h3m-1 0h3m11 0h3m-236 1h3m8 0h3m0 0h3m-2 0h3m-1 0h3m2 0h3m-1 0h3m-1 0h3m-2 0h3m4 0h3m0 0h3m0 0h3m0 0h3m0 0h3m2 0h3m-1 0h3m3 0h3m-2 0h3m1 0h3m0 0h3m-1 0h3m-1 0h3m1 0h3m0 0h3m10 0h3m8 0h3m16 0h3m1 0h3m-1 0h3m4 0h3m-2 0h3m-2 0h3m0 0h3m2 0h3m5 0h3m6 0h3m2 0h3m-2 0h3m-1 0h3m0 0h3m1 0h3m-1 0h3m1 0h3m-2 0h3m4 0h3m7 0h3m0 0h3m-1 0h3m7 0h3m7 0h3m-2 0h3m7 0h3m-272 1h3m15 0h3m8 0h3m14 0h3m-1 0h3m8 0h3m0 0h3m10 0h3m3 0h3m10 0h3m0 0h3m-2 0h3m0 0h3m1 0h3m-1 0h3m7 0h3m26 0h3m-1 0h3m5 0h3m4 0h3m-2 0h3m9 0h3m1 0h3m3 0h3m0 0h3m9 0h3m5 0h3m-1 0h3m6 0h3m6 0h3m0 0h3m1 0h3m6 0h3m3 0h3m5 0h3m9 0h3m30 0h3m-308 1h3m30 0h3m13 0h3m3 0h3m-2 0h3m0 0h3m5 0h3m6 0h3m0 0h3m1 0h3m2 0h3m11 0h3m-1 0h3m5 0h3m-2 0h3m6 0h3m11 0h3m13 0h3m4 0h3m12 0h3m0 0h3m7 0h3m1 0h3m-1 0h3m-1 0h3m-1 0h3m-1 0h3m7 0h3m-1 0h3m1 0h3m3 0h3m10 0h3m31 0h3m-278 1h3m31 0h3m-2 0h3m3 0h3m0 0h3m5 0h3m-1 0h3m2 0h3m0 0h3m4 0h3m1 0h3m-1 0h3m-2 0h3m1 0h3m-2 0h3m1 0h3m-2 0h3m2 0h3m0 0h3m-1 0h3m0 0h3m-2 0h3m-2 0h3m-2 0h3m13 0h3m4 0h3m28 0h3m-2 0h3m1 0h3m4 0h3m-1 0h3m1 0h3m9 0h3m1 0h3m1 0h3m1 0h3m7 0h3m2 0h3m-1 0h3m6 0h3m3 0h3m4 0h3m10 0h3m7 0h3m-1 0h3m7 0h3m-259 1h3m14 0h3m4 0h3m-1 0h3m-1 0h3m4 0h3m3 0h3m4 0h3m1 0h3m-2 0h3m4 0h3m12 0h3m9 0h3m2 0h3m3 0h3m0 0h3m0 0h3m8 0h3m-1 0h3m27 0h3m0 0h3m6 0h3m0 0h3m11 0h3m5 0h3m-1 0h3m-1 0h3m0 0h3m7 0h3m8 0h3m7 0h3m14 0h3m-1 0h3m1 0h3m9 0h3m1 0h3m11 0h3m-274 1h3m14 0h3m6 0h3m1 0h3m11 0h3m5 0h3m13 0h3m1 0h3m2 0h3m-1 0h3m-1 0h3m2 0h3m-2 0h3m0 0h3m2 0h3m9 0h3m24 0h3m2 0h3m18 0h3m-1 0h3m-1 0h3m-1 0h3m8 0h3m-2 0h3m13 0h3m0 0h3m1 0h3m16 0h3m4 0h3m-2 0h3m-1 0h3m-2 0h3m0 0h3m-2 0h3m8 0h3m-2 0h3m11 0h3m-253 1h3m7 0h3m-1 0h3m6 0h3m6 0h3m3 0h3m0 0h3m4 0h3m1 0h3m1 0h3m0 0h3m9 0h3m5 0h3m7 0h3m-1 0h3m1 0h3m7 0h3m18 0h3m3 0h3m-1 0h3m3 0h3m3 0h3m2 0h3m-1 0h3m11 0h3m6 0h3m-1 0h3m1 0h3m0 0h3m4 0h3m4 0h3m4 0h3m0 0h3m0 0h3m1 0h3m2 0h3m-2 0h3m2 0h3m2 0h3m0 0h3m13 0h3m5 0h3m-262 1h3m7 0h3m0 0h3m2 0h3m5 0h3m-2 0h3m5 0h3m-1 0h3m1 0h3m1 0h3m-1 0h3m1 0h3m1 0h3m-1 0h3m2 0h3m-1 0h3m0 0h3m3 0h3m-1 0h3m3 0h3m0 0h3m-1 0h3m3 0h3m2 0h3m33 0h3m13 0h3m13 0h3m2 0h3m-1 0h3m-1 0h3m-2 0h3m-1 0h3m0 0h3m-2 0h3m4 0h3m3 0h3m-2 0h3m7 0h3m3 0h3m1 0h3m1 0h3m-1 0h3m-2 0h3m4 0h3m14 0h3m-245 1h3m6 0h3m-1 0h3m5 0h3m1 0h3m5 0h3m7 0h3m-1 0h3m4 0h3m-1 0h3m-1 0h3m1 0h3m6 0h3m1 0h3m0 0h3m2 0h3m-2 0h3m-1 0h3m1 0h3m1 0h3m1 0h3m-1 0h3m17 0h3m2 0h3m19 0h3m5 0h3m-1 0h3m5 0h3m0 0h3m-2 0h3m3 0h3m1 0h3m2 0h3m4 0h3m-1 0h3m1 0h3m1 0h3m4 0h3m2 0h3m23 0h3m1 0h3m-229 1h3m5 0h3m-2 0h3m3 0h3m-1 0h3m1 0h3m-2 0h3m1 0h3m2 0h3m-1 0h3m-2 0h3m-1 0h3m5 0h3m4 0h3m-2 0h3m3 0h3m12 0h3m0 0h3m34 0h3m3 0h3m0 0h3m3 0h3m2 0h3m0 0h3m-2 0h3m31 0h3m-1 0h3m1 0h3m-2 0h3m3 0h3m2 0h3m7 0h3m6 0h3m-218 1h3m6 0h3m0 0h3m-1 0h3m-1 0h3m-1 0h3m2 0h3m0 0h3m-1 0h3m1 0h3m-1 0h3m9 0h3m-1 0h3m-1 0h3m1 0h3m4 0h3m4 0h3m-2 0h3m22 0h3m7 0h3m9 0h3m11 0h3m0 0h3m3 0h3m-2 0h3m7 0h3m0 0h3m7 0h3m2 0h3m-1 0h3m0 0h3m0 0h3m9 0h3m4 0h3m2 0h3m4 0h3m0 0h3m2 0h3m1 0h3m0 0h3m-1 0h3m-1 0h3m24 0h3m-244 1h3m-2 0h3m8 0h3m4 0h3m7 0h3m-2 0h3m2 0h3m3 0h3m2 0h3m2 0h3m8 0h3m-2 0h3m-1 0h3m1 0h3m-1 0h3m5 0h3m15 0h3m10 0h3m8 0h3m-1 0h3m-1 0h3m0 0h3m0 0h3m2 0h3m0 0h3m2 0h3m1 0h3m7 0h3m-1 0h3m1 0h3m4 0h3m2 0h3m-2 0h3m2 0h3m17 0h3m16 0h3m-240 1h3m4 0h3m11 0h3m11 0h3m4 0h3m2 0h3m0 0h3m5 0h3m-1 0h3m-1 0h3m0 0h3m0 0h3m1 0h3m-2 0h3m3 0h3m4 0h3m37 0h3m3 0h3m-1 0h3m15 0h3m-2 0h3m7 0h3m8 0h3m-2 0h3m6 0h3m-1 0h3m3 0h3m0 0h3m2 0h3m2 0h3m2 0h3m0 0h3m-1 0h3m0 0h3m1 0h3m12 0h3m-227 1h3m-1 0h3m1 0h3m3 0h3m5 0h3m4 0h3m1 0h3m-1 0h3m0 0h3m0 0h3m0 0h3m1 0h3m5 0h3m7 0h3m3 0h3m4 0h3m0 0h3m26 0h3m-1 0h3m-1 0h3m1 0h3m16 0h3m-1 0h3m1 0h3m-1 0h3m-1 0h3m-1 0h3m0 0h3m-2 0h3m-2 0h3m-2 0h3m2 0h3m5 0h3m2 0h3m12 0h3m0 0h3m5 0h3m3 0h3m4 0h3m15 0h3m-241 1h3m4 0h3m0 0h3m-2 0h3m9 0h3m1 0h3m-1 0h3m-1 0h3m-2 0h3m7 0h3m4 0h3m2 0h3m1 0h3m-1 0h3m4 0h3m-2 0h3m0 0h3m3 0h3m-1 0h3m48 0h3m0 0h3m8 0h3m-2 0h3m0 0h3m14 0h3m4 0h3m-2 0h3m6 0h3m-1 0h3m0 0h3m22 0h3m13 0h3m3 0h3m-241 1h3m-2 0h3m3 0h3m5 0h3m10 0h3m2 0h3m-2 0h3m2 0h3m0 0h3m4 0h3m8 0h3m-1 0h3m4 0h3m2 0h3m0 0h3m-2 0h3m30 0h3m14 0h3m-2 0h3m11 0h3m-1 0h3m-1 0h3m-2 0h3m13 0h3m2 0h3m-2 0h3m-2 0h3m4 0h3m1 0h3m-2 0h3m8 0h3m-1 0h3m3 0h3m1 0h3m-1 0h3m-1 0h3m0 0h3m4 0h3m-1 0h3m-1 0h3m-214 1h3m-2 0h3m6 0h3m0 0h3m-2 0h3m1 0h3m10 0h3m-1 0h3m0 0h3m-2 0h3m2 0h3m7 0h3m4 0h3m1 0h3m-1 0h3m5 0h3m12 0h3m11 0h3m9 0h3m1 0h3m0 0h3m3 0h3m0 0h3m5 0h3m-2 0h3m24 0h3m3 0h3m-1 0h3m-2 0h3m3 0h3m1 0h3m0 0h3m1 0h3m-1 0h3m1 0h3m-1 0h3m2 0h3m7 0h3m11 0h3m-266 1h3m32 0h3m5 0h3m2 0h3m5 0h3m4 0h3m-1 0h3m6 0h3m-2 0h3m0 0h3m-2 0h3m0 0h3m-2 0h3m3 0h3m1 0h3m18 0h3m8 0h3m0 0h3m16 0h3m-1 0h3m2 0h3m3 0h3m-1 0h3m1 0h3m1 0h3m1 0h3m4 0h3m4 0h3m0 0h3m1 0h3m-2 0h3m13 0h3m2 0h3m-2 0h3m1 0h3m1 0h3m-1 0h3m7 0h3m27 0h3m-236 1h3m16 0h3m3 0h3m-2 0h3m5 0h3m-1 0h3m2 0h3m7 0h3m10 0h3m6 0h3m8 0h3m16 0h3m1 0h3m10 0h3m14 0h3m3 0h3m0 0h3m7 0h3m15 0h3m13 0h3m7 0h3m0 0h3m2 0h3m2 0h3m7 0h3m-211 1h3m-2 0h3m2 0h3m-1 0h3m1 0h3m-2 0h3m3 0h3m4 0h3m-2 0h3m1 0h3m0 0h3m-2 0h3m1 0h3m-2 0h3m-1 0h3m1 0h3m4 0h3m-1 0h3m44 0h3m0 0h3m19 0h3m6 0h3m-1 0h3m3 0h3m3 0h3m-2 0h3m0 0h3m-1 0h3m1 0h3m8 0h3m-2 0h3m5 0h3m3 0h3m2 0h3m-1 0h3m0 0h3m11 0h3m-229 1h3m0 0h3m4 0h3m8 0h3m3 0h3m2 0h3m14 0h3m1 0h3m4 0h3m1 0h3m14 0h3m19 0h3m8 0h3m0 0h3m4 0h3m1 0h3m2 0h3m-2 0h3m1 0h3m10 0h3m0 0h3m0 0h3m-1 0h3m0 0h3m-1 0h3m0 0h3m0 0h3m5 0h3m-1 0h3m-2 0h3m13 0h3m-2 0h3m0 0h3m-2 0h3m-2 0h3m6 0h3m1 0h3m-1 0h3m1 0h3m-205 1h3m0 0h3m-2 0h3m6 0h3m0 0h3m-2 0h3m3 0h3m-2 0h3m-2 0h3m-1 0h3m-1 0h3m5 0h3m-2 0h3m62 0h3m-1 0h3m3 0h3m1 0h3m3 0h3m1 0h3m-1 0h3m2 0h3m-2 0h3m2 0h3m-1 0h3m11 0h3m3 0h3m2 0h3m13 0h3m0 0h3m-1 0h3m0 0h3m0 0h3m-204 1h3m5 0h3m4 0h3m1 0h3m-2 0h3m1 0h3m10 0h3m2 0h3m6 0h3m19 0h3m0 0h3m44 0h3m7 0h3m1 0h3m-1 0h3m6 0h3m7 0h3m-2 0h3m1 0h3m0 0h3m12 0h3m0 0h3m-2 0h3m-2 0h3m1 0h3m2 0h3m-2 0h3m13 0h3m-216 1h3m1 0h3m-2 0h3m-2 0h3m1 0h3m-2 0h3m23 0h3m4 0h3m11 0h3m5 0h3m0 0h3m33 0h3m4 0h3m3 0h3m4 0h3m1 0h3m4 0h3m-1 0h3m-1 0h3m3 0h3m2 0h3m3 0h3m-1 0h3m0 0h3m1 0h3m5 0h3m-1 0h3m1 0h3m-1 0h3m2 0h3m-213 1h3m6 0h3m3 0h3m16 0h3m2 0h3m-1 0h3m0 0h3m1 0h3m3 0h3m-2 0h3m2 0h3m-1 0h3m0 0h3m0 0h3m0 0h3m-2 0h3m-1 0h3m2 0h3m37 0h3m21 0h3m5 0h3m1 0h3m12 0h3m3 0h3m-1 0h3m4 0h3m2 0h3m14 0h3m0 0h3m2 0h3m-1 0h3m0 0h3m0 0h3m0 0h3m0 0h3m-211 1h3m2 0h3m1 0h3m12 0h3m-1 0h3m-1 0h3m-2 0h3m4 0h3m0 0h3m6 0h3m8 0h3m-1 0h3m38 0h3m5 0h3m-1 0h3m2 0h3m17 0h3m8 0h3m6 0h3m1 0h3m7 0h3m-1 0h3m1 0h3m1 0h3m-2 0h3m0 0h3m23 0h3m-242 1h3m22 0h3m4 0h3m19 0h3m3 0h3m-2 0h3m0 0h3m2 0h3m1 0h3m6 0h3m0 0h3m8 0h3m9 0h3m18 0h3m9 0h3m-1 0h3m1 0h3m1 0h3m5 0h3m2 0h3m-1 0h3m2 0h3m4 0h3m2 0h3m1 0h3m-1 0h3m0 0h3m3 0h3m6 0h3m1 0h3m8 0h3m-199 1h3m2 0h3m23 0h3m-2 0h3m12 0h3m-2 0h3m8 0h3m3 0h3m-2 0h3m-1 0h3m59 0h3m3 0h3m8 0h3m7 0h3m8 0h3m4 0h3m6 0h3m3 0h3m-1 0h3m-1 0h3m2 0h3m2 0h3m8 0h3m-220 1h3m24 0h3m1 0h3m2 0h3m-2 0h3m0 0h3m2 0h3m1 0h3m19 0h3m15 0h3m32 0h3m6 0h3m0 0h3m0 0h3m13 0h3m-2 0h3m5 0h3m0 0h3m4 0h3m3 0h3m1 0h3m14 0h3m0 0h3m-199 1h3m23 0h3m4 0h3m-2 0h3m5 0h3m16 0h3m34 0h3m0 0h3m5 0h3m5 0h3m-2 0h3m-2 0h3m0 0h3m0 0h3m5 0h3m1 0h3m-2 0h3m6 0h3m0 0h3m-1 0h3m0 0h3m-1 0h3m1 0h3m-2 0h3m-1 0h3m1 0h3m4 0h3m-1 0h3m0 0h3m1 0h3m-1 0h3m-2 0h3m-1 0h3m7 0h3m0 0h3m28 0h3m-226 1h3m3 0h3m3 0h3m10 0h3m3 0h3m0 0h3m0 0h3m0 0h3m-2 0h3m21 0h3m16 0h3m6 0h3m12 0h3m1 0h3m4 0h3m2 0h3m-1 0h3m-1 0h3m19 0h3m-1 0h3m8 0h3m1 0h3m3 0h3m7 0h3m7 0h3m-198 1h3m13 0h3m3 0h3m-1 0h3m3 0h3m19 0h3m-1 0h3m22 0h3m14 0h3m20 0h3m0 0h3m-2 0h3m6 0h3m2 0h3m10 0h3m4 0h3m14 0h3m1 0h3m1 0h3m3 0h3m-1 0h3m13 0h3m6 0h3m-232 1h3m6 0h3m31 0h3m7 0h3m10 0h3m17 0h3m13 0h3m3 0h3m11 0h3m4 0h3m1 0h3m1 0h3m3 0h3m0 0h3m-2 0h3m0 0h3m4 0h3m-2 0h3m2 0h3m0 0h3m-1 0h3m6 0h3m-2 0h3m4 0h3m0 0h3m-1 0h3m5 0h3m-1 0h3m3 0h3m9 0h3m-185 1h3m10 0h3m3 0h3m50 0h3m-2 0h3m6 0h3m10 0h3m9 0h3m6 0h3m0 0h3m13 0h3m1 0h3m0 0h3m5 0h3m3 0h3m-190 1h3m-2 0h3m14 0h3m4 0h3m0 0h3m41 0h3m39 0h3m7 0h3m11 0h3m0 0h3m4 0h3m4 0h3m-1 0h3m0 0h3m22 0h3m1 0h3m-219 1h3m33 0h3m3 0h3m6 0h3m1 0h3m10 0h3m1 0h3m57 0h3m3 0h3m-1 0h3m1 0h3m23 0h3m-1 0h3m7 0h3m4 0h3m2 0h3m-1 0h3m0 0h3m10 0h3m2 0h3m-2 0h3m14 0h3m-222 1h3m20 0h3m13 0h3m4 0h3m2 0h3m0 0h3m48 0h3m12 0h3m5 0h3m9 0h3m1 0h3m1 0h3m6 0h3m-2 0h3m0 0h3m0 0h3m2 0h3m2 0h3m3 0h3m-1 0h3m0 0h3m0 0h3m-1 0h3m0 0h3m-189 1h3m31 0h3m13 0h3m5 0h3m12 0h3m43 0h3m-1 0h3m-2 0h3m1 0h3m-2 0h3m6 0h3m1 0h3m-1 0h3m-1 0h3m3 0h3m6 0h3m1 0h3m29 0h3m-177 1h3m12 0h3m5 0h3m1 0h3m3 0h3m23 0h3m28 0h3m3 0h3m4 0h3m3 0h3m5 0h3m2 0h3m-1 0h3m3 0h3m11 0h3m5 0h3m13 0h3m4 0h3m-184 1h3m14 0h3m6 0h3m-1 0h3m13 0h3m40 0h3m17 0h3m15 0h3m1 0h3m0 0h3m6 0h3m-1 0h3m2 0h3m1 0h3m0 0h3m2 0h3m10 0h3m-1 0h3m11 0h3m-175 1h3m38 0h3m12 0h3m16 0h3m1 0h3m9 0h3m-2 0h3m2 0h3m1 0h3m-1 0h3m0 0h3m2 0h3m4 0h3m-2 0h3m1 0h3m0 0h3m3 0h3m5 0h3m10 0h3m-2 0h3m-181 1h3m10 0h3m9 0h3m18 0h3m19 0h3m13 0h3m2 0h3m8 0h3m7 0h3m5 0h3m1 0h3m15 0h3m5 0h3m1 0h3m0 0h3m0 0h3m0 0h3m1 0h3m-1 0h3m-2 0h3m1 0h3m0 0h3m0 0h3m-1 0h3m22 0h3m-188 1h3m10 0h3m25 0h3m35 0h3m7 0h3m5 0h3m2 0h3m6 0h3m6 0h3m-2 0h3m1 0h3m1 0h3m5 0h3m-1 0h3m22 0h3m0 0h3m13 0h3m-200 1h3m0 0h3m63 0h3m30 0h3m3 0h3m7 0h3m-1 0h3m-2 0h3m7 0h3m-2 0h3m-1 0h3m1 0h3m6 0h3m8 0h3m3 0h3m-1 0h3m3 0h3m2 0h3m-1 0h3m11 0h3m-205 1h3m57 0h3m8 0h3m15 0h3m14 0h3m3 0h3m5 0h3m0 0h3m0 0h3m5 0h3m15 0h3m10 0h3m-1 0h3m-2 0h3m0 0h3m5 0h3m1 0h3m-187 1h3m22 0h3m8 0h3m1 0h3m55 0h3m36 0h3m4 0h3m0 0h3m0 0h3m4 0h3m-2 0h3m16 0h3m-2 0h3m16 0h3m-181 1h3m8 0h3m63 0h3m13 0h3m1 0h3m8 0h3m0 0h3m0 0h3m1 0h3m0 0h3m6 0h3m4 0h3m6 0h3m5 0h3m0 0h3m-108 1h3m10 0h3m44 0h3m1 0h3m1 0h3m2 0h3m4 0h3m1 0h3m3 0h3m1 0h3m1 0h3m-1 0h3m5 0h3m0 0h3m-1 0h3m0 0h3m0 0h3m2 0h3m-177 1h3m89 0h3m4 0h3m7 0h3m-1 0h3m2 0h3m1 0h3m0 0h3m1 0h3m8 0h3m1 0h3m3 0h3m-173 1h3m26 0h3m13 0h3m25 0h3m30 0h3m16 0h3m0 0h3m-2 0h3m0 0h3m2 0h3m11 0h3m2 0h3m-2 0h3m2 0h3m6 0h3m2 0h3m26 0h3m-1 0h3m-168 1h3m20 0h3m36 0h3m10 0h3m19 0h3m-2 0h3m2 0h3m0 0h3m2 0h3m2 0h3m21 0h3m1 0h3m-59 1h3m3 0h3m5 0h3m23 0h3m1 0h3m-163 1h3m111 0h3m7 0h3m-1 0h3m2 0h3m2 0h3m7 0h3m-1 0h3m0 0h3m2 0h3m-1 0h3m-1 0h3m2 0h3m2 0h3m-157 1h3m14 0h3m5 0h3m6 0h3m5 0h3m42 0h3m21 0h3m0 0h3m7 0h3m58 0h3m-159 1h3m69 0h3m4 0h3m0 0h3m3 0h3m-1 0h3m2 0h3m5 0h3m19 0h3m0 0h3m37 0h3m-183 1h3m86 0h3m4 0h3m5 0h3m-1 0h3m-1 0h3m12 0h3m5 0h3m2 0h3m9 0h3m34 0h3m-208 1h3m11 0h3m16 0h3m1 0h3m4 0h3m57 0h3m-1 0h3m3 0h3m0 0h3m9 0h3m0 0h3m1 0h3m6 0h3m6 0h3m7 0h3m-125 1h3m48 0h3m1 0h3m5 0h3m0 0h3m1 0h3m1 0h3m6 0h3m1 0h3m11 0h3m-1 0h3m0 0h3m11 0h3m-162 1h3m0 0h3m86 0h3m5 0h3m14 0h3m-1 0h3m1 0h3m-2 0h3m5 0h3m14 0h3m19 0h3m3 0h3m31 0h3m-229 1h3m74 0h3m-1 0h3m2 0h3m42 0h3m0 0h3m9 0h3m-1 0h3m3 0h3m-2 0h3m10 0h3m60 0h3m17 0h3m-234 1h3m111 0h3m3 0h3m-1 0h3m7 0h3m-2 0h3m-141 1h3m96 0h3m7 0h3m-1 0h3m-1 0h3m11 0h3m2 0h3m-2 0h3m7 0h3m20 0h3m-161 1h3m52 0h3m40 0h3m-2 0h3m3 0h3m3 0h3m-2 0h3m1 0h3m3 0h3m2 0h3m9 0h3m-1 0h3m9 0h3m-68 1h3m28 0h3m-2 0h3m9 0h3m-2 0h3m1 0h3m5 0h3m5 0h3m-164 1h3m22 0h3m90 0h3m18 0h3m-1 0h3m1 0h3m26 1h3m8 0h3m3 0h3m-185 1h3m98 0h3m0 0h3m-1 0h3m12 0h3m9 0h3m14 0h3m0 0h3m4 0h3m24 0h3m-167 1h3m5 0h3m33 0h3m4 0h3m37 0h3m4 0h3m4 0h3m2 0h3m2 0h3m24 0h3m22 0h3m1 0h3m-102 1h3m-2 0h3m15 0h3m8 0h3m6 0h3m42 0h3m-198 1h3m37 0h3m20 0h3m52 0h3m43 0h3m-2 0h3m-159 1h3m54 0h3m40 0h3m5 0h3m30 0h3m-111 1h3m67 0h3m3 0h3m3 0h3m5 0h3m10 0h3m-124 1h3m7 0h3m101 0h3m10 0h3m-121 1h3m123 0h3m-156 1h3m5 0h3m56 0h3m118 0h3m-180 1h3m14 0h3m22 0h3m25 0h3m34 0h3m4 0h3m15 0h3m26 0h3m15 0h3m-197 1h3m148 0h3m44 0h3m-149 1h3m67 0h3m-8 1h3m-94 1h3m19 0h3m58 0h3m1 0h3m33 0h3m9 0h3m19 0h3m-186 1h3m22 0h3m27 0h3m100 0h3m8 0h3m34 1h3m-33 2h3m-73 1h3m72 0h3m-24 1h3m-178 1h3m135 1h3m20 0h3m31 0h3m-174 1h3m149 0h3m-104 1h3m67 0h3m19 1h3m-126 1h3m82 0h3m36 0h3m17 0h3m-1 2h3m-34 1h3m18 1h3m-174 2h3m195 0h3m-30 3h3m15 0h3m-47 1h3m13 0h3m0 2h3m19 0h3m-56 1h3m32 0h3m17 0h3m-20 1h3m-146 3h3m166 5h3m-29 1h3m14 0h3m32 2h3"/><path stroke="#1c46f0" stroke-width="3.2" d="M139 3h3m75 3h3m-57 3h3m31 1h3m-54 5h3m106 1h3m-48 2h3m30 1h3m-86 1h3m75 0h3m3 3h3m-16 1h3m14 0h3m8 0h3m-27 1h3m15 0h3m19 0h3m-14 1h3m11 0h3m-80 1h3m16 0h3m-14 1h3m70 0h3m-95 1h3m50 0h3m-46 1h3m5 0h3m4 0h3m184 0h3m-227 1h3m21 0h3m8 0h3m13 0h3m8 0h3m18 0h3m-69 1h3m22 0h3m23 0h3m-1 0h3m15 0h3m-61 1h3m5 0h3m-43 1h3m14 0h3m2 0h3m22 0h3m1 0h3m10 0h3m12 0h3m-58 1h3m0 0h3m9 0h3m0 0h3m7 0h3m11 0h3m5 0h3m-55 1h3m15 0h3m15 0h3m24 0h3m-1 0h3m118 0h3m-207 1h3m27 0h3m6 0h3m-1 0h3m4 0h3m-1 0h3m194 0h3m-255 1h3m7 0h3m12 0h3m30 0h3m9 0h3m6 0h3m4 0h3m35 0h3m83 0h3m2 0h3m16 0h3m-232 1h3m20 0h3m4 0h3m1 0h3m2 0h3m3 0h3m12 0h3m7 0h3m5 0h3m5 0h3m99 0h3m17 0h3m15 0h3m1 0h3m-244 1h3m15 0h3m-2 0h3m0 0h3m10 0h3m7 0h3m3 0h3m4 0h3m-1 0h3m3 0h3m4 0h3m24 0h3m98 0h3m-180 1h3m0 0h3m23 0h3m1 0h3m0 0h3m4 0h3m-2 0h3m5 0h3m7 0h3m10 0h3m102 0h3m-166 1h3m-2 0h3m6 0h3m12 0h3m1 0h3m4 0h3m-2 0h3m9 0h3m97 0h3m-164 1h3m3 0h3m5 0h3m2 0h3m4 0h3m7 0h3m-1 0h3m10 0h3m5 0h3m25 0h3m-94 1h3m13 0h3m1 0h3m11 0h3m-1 0h3m37 0h3m89 0h3m-185 1h3m33 0h3m7 0h3m1 0h3m4 0h3m3 0h3m-1 0h3m0 0h3m-1 0h3m0 0h3m0 0h3m114 0h3m9 0h3m-1 0h3m19 0h3m-221 1h3m0 0h3m5 0h3m12 0h3m-1 0h3m10 0h3m23 0h3m121 0h3m4 0h3m5 0h3m7 0h3m56 0h3m-259 1h3m3 0h3m9 0h3m3 0h3m3 0h3m1 0h3m4 0h3m103 0h3m29 0h3m17 0h3m-218 1h3m2 0h3m22 0h3m0 0h3m3 0h3m-1 0h3m4 0h3m0 0h3m123 0h3m3 0h3m25 0h3m40 0h3m-304 1h3m25 0h3m33 0h3m-2 0h3m4 0h3m-2 0h3m-1 0h3m1 0h3m8 0h3m18 0h3m6 0h3m107 0h3m8 0h3m53 0h3m-247 1h3m5 0h3m6 0h3m11 0h3m-2 0h3m1 0h3m0 0h3m2 0h3m3 0h3m5 0h3m3 0h3m109 0h3m9 0h3m5 0h3m-2 0h3m21 0h3m1 0h3m-232 1h3m11 0h3m-1 0h3m7 0h3m-2 0h3m6 0h3m-2 0h3m-1 0h3m10 0h3m14 0h3m-84 1h3m24 0h3m5 0h3m2 0h3m-1 0h3m0 0h3m18 0h3m0 0h3m6 0h3m-2 0h3m-1 0h3m10 0h3m36 0h3m44 0h3m0 0h3m2 0h3m-2 0h3m6 0h3m48 0h3m-234 1h3m14 0h3m-1 0h3m-1 0h3m1 0h3m5 0h3m-1 0h3m8 0h3m1 0h3m-1 0h3m17 0h3m2 0h3m1 0h3m-1 0h3m61 0h3m54 0h3m10 0h3m-1 0h3m24 0h3m-292 1h3m43 0h3m13 0h3m7 0h3m-2 0h3m1 0h3m-2 0h3m-1 0h3m-2 0h3m5 0h3m-2 0h3m12 0h3m1 0h3m100 0h3m19 0h3m11 0h3m0 0h3m4 0h3m-225 1h3m-2 0h3m13 0h3m-2 0h3m2 0h3m1 0h3m-2 0h3m7 0h3m-1 0h3m3 0h3m5 0h3m7 0h3m3 0h3m0 0h3m6 0h3m95 0h3m3 0h3m9 0h3m10 0h3m4 0h3m-224 1h3m33 0h3m0 0h3m4 0h3m2 0h3m-2 0h3m-2 0h3m3 0h3m8 0h3m6 0h3m77 0h3m38 0h3m42 0h3m-246 1h3m7 0h3m29 0h3m9 0h3m-1 0h3m1 0h3m41 0h3m55 0h3m7 0h3m26 0h3m9 0h3m7 0h3m23 0h3m2 0h3m-242 1h3m2 0h3m1 0h3m6 0h3m-1 0h3m3 0h3m-2 0h3m13 0h3m2 0h3m-2 0h3m1 0h3m7 0h3m-2 0h3m16 0h3m92 0h3m12 0h3m3 0h3m-2 0h3m1 0h3m-220 1h3m8 0h3m10 0h3m0 0h3m14 0h3m5 0h3m0 0h3m1 0h3m2 0h3m1 0h3m0 0h3m1 0h3m46 0h3m35 0h3m42 0h3m15 0h3m0 0h3m-215 1h3m-1 0h3m0 0h3m2 0h3m2 0h3m3 0h3m1 0h3m-1 0h3m1 0h3m-2 0h3m4 0h3m5 0h3m6 0h3m1 0h3m37 0h3m39 0h3m29 0h3m0 0h3m1 0h3m0 0h3m-205 1h3m2 0h3m12 0h3m30 0h3m1 0h3m6 0h3m-1 0h3m0 0h3m9 0h3m6 0h3m42 0h3m14 0h3m22 0h3m0 0h3m7 0h3m-1 0h3m17 0h3m-239 1h3m28 0h3m3 0h3m13 0h3m12 0h3m-2 0h3m20 0h3m0 0h3m0 0h3m2 0h3m4 0h3m3 0h3m1 0h3m7 0h3m34 0h3m7 0h3m30 0h3m0 0h3m17 0h3m-2 0h3m21 0h3m-1 0h3m-260 1h3m18 0h3m8 0h3m3 0h3m3 0h3m7 0h3m-2 0h3m-1 0h3m3 0h3m6 0h3m-1 0h3m-1 0h3m-1 0h3m1 0h3m2 0h3m-1 0h3m2 0h3m2 0h3m3 0h3m14 0h3m62 0h3m4 0h3m8 0h3m0 0h3m37 0h3m-219 1h3m3 0h3m2 0h3m2 0h3m-2 0h3m11 0h3m2 0h3m3 0h3m9 0h3m4 0h3m18 0h3m3 0h3m3 0h3m1 0h3m74 0h3m-2 0h3m35 0h3m0 0h3m12 0h3m2 0h3m22 0h3m-257 1h3m14 0h3m12 0h3m0 0h3m-2 0h3m-2 0h3m-1 0h3m0 0h3m7 0h3m-1 0h3m-1 0h3m3 0h3m-1 0h3m91 0h3m-2 0h3m6 0h3m4 0h3m5 0h3m12 0h3m11 0h3m4 0h3m-211 1h3m-2 0h3m1 0h3m-2 0h3m-2 0h3m0 0h3m0 0h3m11 0h3m-1 0h3m-1 0h3m-2 0h3m-2 0h3m2 0h3m18 0h3m-2 0h3m4 0h3m89 0h3m26 0h3m21 0h3m10 0h3m11 0h3m-246 1h3m22 0h3m3 0h3m6 0h3m6 0h3m16 0h3m5 0h3m33 0h3m31 0h3m13 0h3m6 0h3m3 0h3m0 0h3m3 0h3m29 0h3m26 0h3m-247 1h3m3 0h3m-2 0h3m4 0h3m8 0h3m1 0h3m1 0h3m4 0h3m-1 0h3m2 0h3m-1 0h3m4 0h3m0 0h3m-2 0h3m14 0h3m56 0h3m1 0h3m2 0h3m7 0h3m-1 0h3m2 0h3m-2 0h3m0 0h3m8 0h3m-2 0h3m-2 0h3m-2 0h3m10 0h3m45 0h3m-262 1h3m0 0h3m0 0h3m21 0h3m5 0h3m-1 0h3m-1 0h3m-2 0h3m-1 0h3m1 0h3m2 0h3m1 0h3m12 0h3m-2 0h3m18 0h3m3 0h3m0 0h3m21 0h3m3 0h3m11 0h3m0 0h3m15 0h3m5 0h3m4 0h3m4 0h3m8 0h3m3 0h3m9 0h3m13 0h3m-225 1h3m4 0h3m6 0h3m3 0h3m3 0h3m2 0h3m1 0h3m-1 0h3m-1 0h3m6 0h3m1 0h3m2 0h3m5 0h3m7 0h3m44 0h3m1 0h3m32 0h3m0 0h3m8 0h3m6 0h3m-2 0h3m-1 0h3m9 0h3m-1 0h3m1 0h3m-214 1h3m0 0h3m0 0h3m0 0h3m2 0h3m2 0h3m1 0h3m18 0h3m0 0h3m-2 0h3m0 0h3m-2 0h3m0 0h3m-2 0h3m-1 0h3m1 0h3m0 0h3m2 0h3m5 0h3m7 0h3m28 0h3m1 0h3m14 0h3m8 0h3m2 0h3m6 0h3m11 0h3m4 0h3m9 0h3m12 0h3m-2 0h3m-2 0h3m0 0h3m7 0h3m-249 1h3m18 0h3m11 0h3m2 0h3m-2 0h3m2 0h3m-1 0h3m0 0h3m4 0h3m0 0h3m12 0h3m0 0h3m-1 0h3m3 0h3m1 0h3m-1 0h3m0 0h3m3 0h3m49 0h3m9 0h3m8 0h3m-1 0h3m-1 0h3m12 0h3m11 0h3m13 0h3m7 0h3m-2 0h3m-1 0h3m11 0h3m1 0h3m-228 1h3m15 0h3m9 0h3m6 0h3m5 0h3m5 0h3m4 0h3m1 0h3m22 0h3m14 0h3m19 0h3m3 0h3m8 0h3m16 0h3m0 0h3m2 0h3m5 0h3m0 0h3m2 0h3m8 0h3m-1 0h3m-198 1h3m4 0h3m3 0h3m1 0h3m-2 0h3m5 0h3m-1 0h3m3 0h3m-2 0h3m0 0h3m-1 0h3m-2 0h3m11 0h3m7 0h3m-1 0h3m7 0h3m-1 0h3m-2 0h3m42 0h3m15 0h3m3 0h3m7 0h3m0 0h3m8 0h3m7 0h3m18 0h3m5 0h3m-230 1h3m0 0h3m2 0h3m-1 0h3m6 0h3m2 0h3m-1 0h3m-2 0h3m0 0h3m0 0h3m-2 0h3m-2 0h3m2 0h3m3 0h3m-2 0h3m7 0h3m0 0h3m-2 0h3m4 0h3m4 0h3m0 0h3m-1 0h3m26 0h3m14 0h3m21 0h3m1 0h3m2 0h3m-2 0h3m14 0h3m-1 0h3m-1 0h3m9 0h3m1 0h3m-202 1h3m22 0h3m5 0h3m13 0h3m0 0h3m1 0h3m0 0h3m-1 0h3m7 0h3m3 0h3m6 0h3m3 0h3m36 0h3m14 0h3m7 0h3m-2 0h3m-2 0h3m14 0h3m8 0h3m3 0h3m5 0h3m-1 0h3m-209 1h3m21 0h3m7 0h3m4 0h3m-2 0h3m-2 0h3m2 0h3m-2 0h3m2 0h3m-1 0h3m12 0h3m2 0h3m10 0h3m2 0h3m1 0h3m-2 0h3m18 0h3m12 0h3m15 0h3m-2 0h3m1 0h3m2 0h3m1 0h3m2 0h3m6 0h3m6 0h3m1 0h3m6 0h3m17 0h3m7 0h3m-210 1h3m0 0h3m1 0h3m-2 0h3m1 0h3m-2 0h3m0 0h3m1 0h3m-2 0h3m0 0h3m5 0h3m5 0h3m-2 0h3m4 0h3m-1 0h3m0 0h3m-2 0h3m4 0h3m1 0h3m2 0h3m4 0h3m52 0h3m-1 0h3m-1 0h3m2 0h3m0 0h3m1 0h3m24 0h3m4 0h3m5 0h3m4 0h3m10 0h3m14 0h3m-248 1h3m8 0h3m9 0h3m-2 0h3m-2 0h3m3 0h3m-2 0h3m0 0h3m5 0h3m0 0h3m0 0h3m10 0h3m-1 0h3m0 0h3m-1 0h3m11 0h3m-1 0h3m-1 0h3m1 0h3m12 0h3m57 0h3m6 0h3m3 0h3m14 0h3m2 0h3m1 0h3m6 0h3m1 0h3m-1 0h3m8 0h3m-220 1h3m4 0h3m7 0h3m1 0h3m6 0h3m0 0h3m4 0h3m4 0h3m-1 0h3m2 0h3m-2 0h3m1 0h3m10 0h3m9 0h3m1 0h3m23 0h3m5 0h3m12 0h3m-2 0h3m7 0h3m0 0h3m0 0h3m3 0h3m2 0h3m6 0h3m22 0h3m-211 1h3m-1 0h3m9 0h3m-2 0h3m5 0h3m-1 0h3m-1 0h3m-2 0h3m1 0h3m0 0h3m-1 0h3m0 0h3m-1 0h3m1 0h3m-1 0h3m-1 0h3m0 0h3m1 0h3m6 0h3m9 0h3m-1 0h3m4 0h3m21 0h3m6 0h3m10 0h3m5 0h3m2 0h3m9 0h3m0 0h3m6 0h3m19 0h3m3 0h3m-1 0h3m-208 1h3m21 0h3m-2 0h3m-1 0h3m3 0h3m-2 0h3m-2 0h3m-2 0h3m-1 0h3m5 0h3m-1 0h3m0 0h3m1 0h3m-2 0h3m0 0h3m-2 0h3m1 0h3m7 0h3m-1 0h3m5 0h3m3 0h3m1 0h3m-1 0h3m1 0h3m13 0h3m0 0h3m-2 0h3m8 0h3m7 0h3m2 0h3m4 0h3m14 0h3m0 0h3m2 0h3m-1 0h3m-1 0h3m-2 0h3m0 0h3m6 0h3m1 0h3m9 0h3m8 0h3m-220 1h3m-2 0h3m1 0h3m1 0h3m7 0h3m-2 0h3m0 0h3m-1 0h3m-2 0h3m1 0h3m2 0h3m-1 0h3m4 0h3m1 0h3m2 0h3m-1 0h3m6 0h3m1 0h3m-1 0h3m-2 0h3m11 0h3m6 0h3m23 0h3m8 0h3m-1 0h3m-1 0h3m3 0h3m2 0h3m6 0h3m3 0h3m7 0h3m5 0h3m3 0h3m1 0h3m10 0h3m7 0h3m7 0h3m-226 1h3m6 0h3m1 0h3m-2 0h3m1 0h3m-2 0h3m1 0h3m1 0h3m8 0h3m7 0h3m1 0h3m-2 0h3m10 0h3m0 0h3m-1 0h3m-1 0h3m-2 0h3m1 0h3m4 0h3m-1 0h3m0 0h3m0 0h3m8 0h3m28 0h3m15 0h3m10 0h3m4 0h3m2 0h3m-2 0h3m33 0h3m3 0h3m29 0h3m-253 1h3m6 0h3m4 0h3m-1 0h3m1 0h3m0 0h3m2 0h3m-1 0h3m-1 0h3m0 0h3m-1 0h3m-2 0h3m8 0h3m0 0h3m-1 0h3m1 0h3m-2 0h3m1 0h3m0 0h3m4 0h3m-2 0h3m-2 0h3m1 0h3m-1 0h3m3 0h3m7 0h3m12 0h3m18 0h3m-1 0h3m1 0h3m4 0h3m-1 0h3m2 0h3m22 0h3m3 0h3m11 0h3m0 0h3m19 0h3m12 0h3m-233 1h3m0 0h3m6 0h3m10 0h3m-1 0h3m-1 0h3m1 0h3m1 0h3m-1 0h3m-1 0h3m-1 0h3m1 0h3m2 0h3m2 0h3m-2 0h3m-1 0h3m4 0h3m-2 0h3m2 0h3m0 0h3m-2 0h3m34 0h3m2 0h3m3 0h3m0 0h3m5 0h3m4 0h3m-1 0h3m-1 0h3m-2 0h3m-1 0h3m5 0h3m3 0h3m-2 0h3m0 0h3m4 0h3m2 0h3m0 0h3m3 0h3m-2 0h3m0 0h3m6 0h3m-2 0h3m-206 1h3m-1 0h3m1 0h3m0 0h3m0 0h3m3 0h3m-1 0h3m-1 0h3m-1 0h3m7 0h3m-2 0h3m0 0h3m-2 0h3m8 0h3m0 0h3m-2 0h3m0 0h3m3 0h3m-1 0h3m-1 0h3m-1 0h3m-2 0h3m2 0h3m-1 0h3m0 0h3m0 0h3m2 0h3m2 0h3m-1 0h3m3 0h3m-2 0h3m25 0h3m11 0h3m6 0h3m6 0h3m1 0h3m-1 0h3m12 0h3m3 0h3m13 0h3m4 0h3m3 0h3m-1 0h3m-1 0h3m21 0h3m-249 1h3m1 0h3m3 0h3m2 0h3m-1 0h3m-2 0h3m-2 0h3m0 0h3m1 0h3m-2 0h3m-2 0h3m-2 0h3m6 0h3m-1 0h3m0 0h3m-1 0h3m0 0h3m-2 0h3m3 0h3m2 0h3m2 0h3m-1 0h3m1 0h3m-2 0h3m-2 0h3m9 0h3m11 0h3m-2 0h3m6 0h3m2 0h3m2 0h3m18 0h3m1 0h3m4 0h3m-2 0h3m3 0h3m0 0h3m29 0h3m-196 1h3m-2 0h3m0 0h3m2 0h3m1 0h3m-2 0h3m0 0h3m-2 0h3m0 0h3m1 0h3m1 0h3m0 0h3m3 0h3m0 0h3m-1 0h3m-1 0h3m-2 0h3m2 0h3m-2 0h3m-2 0h3m0 0h3m-2 0h3m-2 0h3m1 0h3m5 0h3m1 0h3m0 0h3m1 0h3m-2 0h3m0 0h3m5 0h3m9 0h3m1 0h3m3 0h3m5 0h3m7 0h3m0 0h3m9 0h3m2 0h3m6 0h3m2 0h3m3 0h3m13 0h3m-2 0h3m21 0h3m-1 0h3m-243 1h3m15 0h3m0 0h3m3 0h3m8 0h3m-2 0h3m2 0h3m0 0h3m-2 0h3m3 0h3m-1 0h3m-2 0h3m-2 0h3m0 0h3m1 0h3m10 0h3m0 0h3m1 0h3m1 0h3m-2 0h3m0 0h3m1 0h3m1 0h3m-2 0h3m0 0h3m-1 0h3m6 0h3m8 0h3m7 0h3m0 0h3m20 0h3m6 0h3m17 0h3m11 0h3m1 0h3m8 0h3m0 0h3m-2 0h3m-252 1h3m46 0h3m-1 0h3m-1 0h3m-1 0h3m-2 0h3m0 0h3m5 0h3m7 0h3m-2 0h3m-1 0h3m-1 0h3m-2 0h3m1 0h3m1 0h3m4 0h3m-2 0h3m-2 0h3m-1 0h3m-1 0h3m0 0h3m2 0h3m1 0h3m2 0h3m0 0h3m5 0h3m0 0h3m27 0h3m-1 0h3m10 0h3m2 0h3m0 0h3m9 0h3m5 0h3m-2 0h3m7 0h3m11 0h3m5 0h3m10 0h3m-2 0h3m-213 1h3m5 0h3m0 0h3m-2 0h3m-1 0h3m1 0h3m-2 0h3m-2 0h3m1 0h3m1 0h3m-1 0h3m0 0h3m1 0h3m1 0h3m-1 0h3m2 0h3m0 0h3m-1 0h3m3 0h3m0 0h3m3 0h3m0 0h3m5 0h3m0 0h3m1 0h3m2 0h3m14 0h3m2 0h3m24 0h3m0 0h3m5 0h3m14 0h3m2 0h3m-1 0h3m2 0h3m-2 0h3m1 0h3m-1 0h3m3 0h3m7 0h3m-1 0h3m1 0h3m-212 1h3m3 0h3m0 0h3m1 0h3m3 0h3m1 0h3m0 0h3m-2 0h3m2 0h3m-2 0h3m1 0h3m-2 0h3m4 0h3m2 0h3m-1 0h3m-1 0h3m-2 0h3m1 0h3m0 0h3m-2 0h3m0 0h3m0 0h3m0 0h3m0 0h3m-1 0h3m-2 0h3m4 0h3m-2 0h3m-2 0h3m-1 0h3m1 0h3m3 0h3m-1 0h3m-1 0h3m0 0h3m0 0h3m1 0h3m15 0h3m-2 0h3m-1 0h3m9 0h3m6 0h3m-1 0h3m2 0h3m2 0h3m2 0h3m8 0h3m-1 0h3m8 0h3m1 0h3m-2 0h3m12 0h3m16 0h3m-217 1h3m0 0h3m0 0h3m1 0h3m0 0h3m1 0h3m0 0h3m0 0h3m-1 0h3m1 0h3m1 0h3m1 0h3m6 0h3m0 0h3m-1 0h3m-1 0h3m5 0h3m19 0h3m11 0h3m20 0h3m0 0h3m7 0h3m1 0h3m-1 0h3m-1 0h3m2 0h3m-1 0h3m15 0h3m-195 1h3m7 0h3m0 0h3m-1 0h3m-2 0h3m-2 0h3m1 0h3m1 0h3m-2 0h3m-2 0h3m-1 0h3m5 0h3m-2 0h3m-2 0h3m-2 0h3m0 0h3m7 0h3m-1 0h3m-2 0h3m-1 0h3m3 0h3m-2 0h3m6 0h3m-1 0h3m5 0h3m0 0h3m1 0h3m0 0h3m-1 0h3m-2 0h3m16 0h3m14 0h3m7 0h3m20 0h3m0 0h3m6 0h3m-1 0h3m1 0h3m22 0h3m7 0h3m2 0h3m-224 1h3m0 0h3m2 0h3m0 0h3m1 0h3m4 0h3m3 0h3m0 0h3m1 0h3m-1 0h3m-2 0h3m-2 0h3m-1 0h3m-2 0h3m-2 0h3m-1 0h3m3 0h3m1 0h3m-1 0h3m1 0h3m1 0h3m-2 0h3m-2 0h3m-2 0h3m-1 0h3m0 0h3m-1 0h3m1 0h3m7 0h3m-2 0h3m8 0h3m3 0h3m4 0h3m6 0h3m9 0h3m1 0h3m17 0h3m1 0h3m0 0h3m7 0h3m3 0h3m-1 0h3m2 0h3m5 0h3m-1 0h3m0 0h3m-206 1h3m1 0h3m6 0h3m0 0h3m-2 0h3m0 0h3m-2 0h3m-2 0h3m0 0h3m1 0h3m0 0h3m-2 0h3m0 0h3m0 0h3m-2 0h3m0 0h3m1 0h3m-2 0h3m-2 0h3m6 0h3m-1 0h3m-2 0h3m1 0h3m3 0h3m-1 0h3m-2 0h3m-1 0h3m-1 0h3m1 0h3m-2 0h3m1 0h3m-2 0h3m4 0h3m5 0h3m15 0h3m7 0h3m-1 0h3m26 0h3m14 0h3m-1 0h3m0 0h3m1 0h3m9 0h3m-194 1h3m2 0h3m-2 0h3m-1 0h3m2 0h3m1 0h3m-1 0h3m-1 0h3m3 0h3m-1 0h3m6 0h3m-2 0h3m-1 0h3m0 0h3m-2 0h3m-2 0h3m-2 0h3m9 0h3m0 0h3m-1 0h3m-1 0h3m13 0h3m-1 0h3m-1 0h3m-1 0h3m4 0h3m37 0h3m15 0h3m-2 0h3m-2 0h3m0 0h3m4 0h3m-2 0h3m-1 0h3m3 0h3m0 0h3m3 0h3m-2 0h3m2 0h3m12 0h3m-199 1h3m6 0h3m1 0h3m-2 0h3m-2 0h3m3 0h3m-2 0h3m4 0h3m-1 0h3m2 0h3m0 0h3m-1 0h3m-2 0h3m-2 0h3m-1 0h3m-2 0h3m-1 0h3m-2 0h3m1 0h3m5 0h3m1 0h3m-2 0h3m-2 0h3m1 0h3m-1 0h3m8 0h3m7 0h3m14 0h3m-2 0h3m1 0h3m4 0h3m-1 0h3m3 0h3m3 0h3m5 0h3m4 0h3m-1 0h3m5 0h3m6 0h3m4 0h3m1 0h3m-1 0h3m6 0h3m-1 0h3m9 0h3m-230 1h3m3 0h3m8 0h3m-2 0h3m0 0h3m0 0h3m-2 0h3m-1 0h3m2 0h3m-2 0h3m0 0h3m-2 0h3m-2 0h3m0 0h3m0 0h3m-2 0h3m0 0h3m3 0h3m0 0h3m3 0h3m2 0h3m-2 0h3m3 0h3m-2 0h3m8 0h3m0 0h3m29 0h3m9 0h3m18 0h3m-2 0h3m4 0h3m1 0h3m0 0h3m-2 0h3m6 0h3m0 0h3m13 0h3m-1 0h3m1 0h3m14 0h3m5 0h3m0 0h3m5 0h3m-232 1h3m-2 0h3m-1 0h3m3 0h3m2 0h3m-1 0h3m2 0h3m2 0h3m6 0h3m-2 0h3m6 0h3m2 0h3m-1 0h3m2 0h3m2 0h3m-2 0h3m1 0h3m0 0h3m-2 0h3m-1 0h3m4 0h3m-1 0h3m0 0h3m-2 0h3m1 0h3m28 0h3m9 0h3m3 0h3m18 0h3m-2 0h3m0 0h3m1 0h3m-2 0h3m-1 0h3m6 0h3m0 0h3m11 0h3m5 0h3m9 0h3m3 0h3m-238 1h3m24 0h3m0 0h3m-2 0h3m-2 0h3m-1 0h3m2 0h3m0 0h3m3 0h3m-1 0h3m-2 0h3m-1 0h3m-1 0h3m-1 0h3m-1 0h3m-2 0h3m2 0h3m-1 0h3m1 0h3m1 0h3m0 0h3m-2 0h3m-1 0h3m-1 0h3m1 0h3m4 0h3m3 0h3m-2 0h3m35 0h3m5 0h3m4 0h3m1 0h3m8 0h3m18 0h3m-1 0h3m-2 0h3m6 0h3m0 0h3m3 0h3m-213 1h3m13 0h3m1 0h3m-2 0h3m-2 0h3m0 0h3m3 0h3m2 0h3m0 0h3m-2 0h3m2 0h3m0 0h3m-2 0h3m11 0h3m3 0h3m-1 0h3m-1 0h3m-1 0h3m1 0h3m-2 0h3m2 0h3m-1 0h3m23 0h3m2 0h3m5 0h3m11 0h3m1 0h3m0 0h3m-1 0h3m31 0h3m6 0h3m-2 0h3m14 0h3m-197 1h3m-2 0h3m-2 0h3m9 0h3m9 0h3m6 0h3m-1 0h3m3 0h3m-2 0h3m1 0h3m-2 0h3m0 0h3m-1 0h3m1 0h3m-1 0h3m-2 0h3m-1 0h3m-1 0h3m-1 0h3m-1 0h3m1 0h3m-2 0h3m4 0h3m21 0h3m-2 0h3m6 0h3m5 0h3m-2 0h3m17 0h3m1 0h3m0 0h3m12 0h3m3 0h3m4 0h3m13 0h3m2 0h3m-225 1h3m12 0h3m0 0h3m10 0h3m-2 0h3m2 0h3m4 0h3m3 0h3m-1 0h3m-2 0h3m-2 0h3m2 0h3m-1 0h3m1 0h3m-2 0h3m0 0h3m0 0h3m3 0h3m-2 0h3m4 0h3m0 0h3m-2 0h3m3 0h3m0 0h3m-2 0h3m-2 0h3m8 0h3m20 0h3m1 0h3m5 0h3m2 0h3m5 0h3m-2 0h3m1 0h3m2 0h3m6 0h3m6 0h3m1 0h3m10 0h3m6 0h3m4 0h3m-2 0h3m-219 1h3m8 0h3m5 0h3m2 0h3m0 0h3m-2 0h3m-2 0h3m2 0h3m-2 0h3m-2 0h3m-1 0h3m-2 0h3m0 0h3m4 0h3m-2 0h3m-1 0h3m1 0h3m-2 0h3m2 0h3m0 0h3m0 0h3m-1 0h3m6 0h3m4 0h3m1 0h3m1 0h3m5 0h3m1 0h3m41 0h3m9 0h3m3 0h3m-2 0h3m-2 0h3m18 0h3m5 0h3m-2 0h3m8 0h3m2 0h3m20 0h3m-232 1h3m-2 0h3m6 0h3m3 0h3m10 0h3m-2 0h3m-1 0h3m1 0h3m5 0h3m0 0h3m-2 0h3m-2 0h3m-1 0h3m-1 0h3m6 0h3m-2 0h3m-1 0h3m1 0h3m6 0h3m7 0h3m1 0h3m7 0h3m2 0h3m13 0h3m17 0h3m0 0h3m4 0h3m-1 0h3m7 0h3m0 0h3m9 0h3m3 0h3m4 0h3m17 0h3m8 0h3m-224 1h3m8 0h3m5 0h3m-2 0h3m3 0h3m1 0h3m2 0h3m0 0h3m-2 0h3m-2 0h3m-2 0h3m5 0h3m-1 0h3m-2 0h3m2 0h3m-2 0h3m5 0h3m-1 0h3m0 0h3m-2 0h3m-2 0h3m-2 0h3m3 0h3m22 0h3m9 0h3m-2 0h3m1 0h3m16 0h3m19 0h3m2 0h3m3 0h3m0 0h3m-1 0h3m12 0h3m12 0h3m-206 1h3m0 0h3m-1 0h3m-1 0h3m-2 0h3m3 0h3m-2 0h3m-1 0h3m-1 0h3m1 0h3m-1 0h3m1 0h3m0 0h3m1 0h3m0 0h3m-2 0h3m-1 0h3m2 0h3m2 0h3m0 0h3m0 0h3m-2 0h3m-2 0h3m-1 0h3m-2 0h3m-2 0h3m5 0h3m3 0h3m-2 0h3m16 0h3m8 0h3m8 0h3m4 0h3m17 0h3m2 0h3m-1 0h3m-2 0h3m16 0h3m-2 0h3m-2 0h3m0 0h3m9 0h3m7 0h3m4 0h3m7 0h3m-222 1h3m3 0h3m-2 0h3m0 0h3m-2 0h3m6 0h3m-1 0h3m4 0h3m-1 0h3m-1 0h3m-1 0h3m6 0h3m6 0h3m2 0h3m-2 0h3m0 0h3m3 0h3m-1 0h3m4 0h3m41 0h3m-1 0h3m-1 0h3m-1 0h3m0 0h3m2 0h3m-1 0h3m-2 0h3m7 0h3m20 0h3m5 0h3m0 0h3m0 0h3m3 0h3m4 0h3m15 0h3m14 0h3m-246 1h3m7 0h3m0 0h3m2 0h3m0 0h3m0 0h3m4 0h3m0 0h3m-2 0h3m0 0h3m-1 0h3m0 0h3m1 0h3m-2 0h3m-2 0h3m-2 0h3m4 0h3m-1 0h3m3 0h3m6 0h3m-1 0h3m0 0h3m2 0h3m0 0h3m27 0h3m14 0h3m1 0h3m7 0h3m2 0h3m3 0h3m10 0h3m5 0h3m4 0h3m-2 0h3m10 0h3m-1 0h3m-2 0h3m8 0h3m6 0h3m-222 1h3m0 0h3m3 0h3m-1 0h3m3 0h3m0 0h3m-2 0h3m-2 0h3m-1 0h3m-2 0h3m6 0h3m1 0h3m3 0h3m4 0h3m2 0h3m-2 0h3m-2 0h3m2 0h3m-2 0h3m1 0h3m5 0h3m7 0h3m31 0h3m26 0h3m-2 0h3m5 0h3m10 0h3m10 0h3m2 0h3m16 0h3m13 0h3m-232 1h3m3 0h3m3 0h3m0 0h3m9 0h3m-1 0h3m4 0h3m-1 0h3m2 0h3m-2 0h3m1 0h3m-2 0h3m3 0h3m-2 0h3m-1 0h3m0 0h3m4 0h3m-1 0h3m-1 0h3m2 0h3m1 0h3m15 0h3m-1 0h3m7 0h3m5 0h3m21 0h3m-1 0h3m3 0h3m-1 0h3m5 0h3m8 0h3m1 0h3m23 0h3m11 0h3m0 0h3m-211 1h3m10 0h3m-2 0h3m-2 0h3m2 0h3m-1 0h3m-2 0h3m2 0h3m2 0h3m3 0h3m0 0h3m3 0h3m1 0h3m-1 0h3m-1 0h3m1 0h3m0 0h3m0 0h3m-1 0h3m2 0h3m4 0h3m0 0h3m13 0h3m14 0h3m20 0h3m-1 0h3m1 0h3m4 0h3m3 0h3m-1 0h3m0 0h3m-2 0h3m11 0h3m11 0h3m-2 0h3m6 0h3m3 0h3m-223 1h3m2 0h3m-1 0h3m-2 0h3m2 0h3m-2 0h3m-2 0h3m1 0h3m-1 0h3m0 0h3m2 0h3m-1 0h3m6 0h3m-2 0h3m-2 0h3m-2 0h3m3 0h3m-1 0h3m0 0h3m-2 0h3m-2 0h3m1 0h3m1 0h3m-1 0h3m-2 0h3m-1 0h3m1 0h3m2 0h3m-2 0h3m31 0h3m9 0h3m8 0h3m0 0h3m9 0h3m4 0h3m2 0h3m1 0h3m-1 0h3m-2 0h3m3 0h3m6 0h3m3 0h3m-2 0h3m-2 0h3m21 0h3m4 0h3m15 0h3m-233 1h3m2 0h3m-2 0h3m-1 0h3m1 0h3m3 0h3m2 0h3m0 0h3m0 0h3m3 0h3m-2 0h3m-1 0h3m7 0h3m1 0h3m3 0h3m1 0h3m4 0h3m4 0h3m-2 0h3m4 0h3m32 0h3m-2 0h3m1 0h3m6 0h3m4 0h3m-2 0h3m-1 0h3m28 0h3m-1 0h3m7 0h3m2 0h3m7 0h3m4 0h3m-1 0h3m-241 1h3m21 0h3m11 0h3m0 0h3m-1 0h3m0 0h3m-2 0h3m2 0h3m4 0h3m-1 0h3m-2 0h3m-1 0h3m3 0h3m1 0h3m3 0h3m0 0h3m4 0h3m-2 0h3m-2 0h3m1 0h3m0 0h3m23 0h3m26 0h3m3 0h3m0 0h3m1 0h3m4 0h3m13 0h3m9 0h3m-2 0h3m18 0h3m1 0h3m17 0h3m0 0h3m-233 1h3m3 0h3m-1 0h3m0 0h3m3 0h3m1 0h3m1 0h3m-1 0h3m-1 0h3m-1 0h3m2 0h3m3 0h3m7 0h3m-1 0h3m7 0h3m-1 0h3m5 0h3m1 0h3m-2 0h3m0 0h3m2 0h3m0 0h3m51 0h3m5 0h3m-1 0h3m-1 0h3m-2 0h3m0 0h3m1 0h3m4 0h3m2 0h3m0 0h3m0 0h3m-2 0h3m10 0h3m1 0h3m10 0h3m-218 1h3m2 0h3m2 0h3m-1 0h3m-1 0h3m-1 0h3m-2 0h3m-1 0h3m-1 0h3m-2 0h3m-1 0h3m2 0h3m-1 0h3m2 0h3m-1 0h3m5 0h3m-2 0h3m2 0h3m-1 0h3m4 0h3m0 0h3m0 0h3m1 0h3m3 0h3m34 0h3m13 0h3m15 0h3m6 0h3m-2 0h3m9 0h3m16 0h3m5 0h3m-1 0h3m10 0h3m8 0h3m3 0h3m-227 1h3m1 0h3m7 0h3m8 0h3m2 0h3m3 0h3m1 0h3m1 0h3m1 0h3m3 0h3m4 0h3m-1 0h3m-1 0h3m-1 0h3m3 0h3m36 0h3m3 0h3m5 0h3m-2 0h3m-1 0h3m8 0h3m0 0h3m8 0h3m0 0h3m-1 0h3m9 0h3m4 0h3m9 0h3m2 0h3m-2 0h3m14 0h3m0 0h3m8 0h3m-223 1h3m3 0h3m1 0h3m1 0h3m-1 0h3m0 0h3m0 0h3m3 0h3m6 0h3m-1 0h3m-1 0h3m0 0h3m-1 0h3m2 0h3m1 0h3m0 0h3m25 0h3m10 0h3m7 0h3m1 0h3m9 0h3m0 0h3m0 0h3m18 0h3m8 0h3m10 0h3m-1 0h3m5 0h3m6 0h3m6 0h3m13 0h3m-237 1h3m5 0h3m-1 0h3m2 0h3m0 0h3m5 0h3m0 0h3m8 0h3m1 0h3m-1 0h3m-2 0h3m0 0h3m-1 0h3m4 0h3m1 0h3m9 0h3m5 0h3m-1 0h3m21 0h3m5 0h3m7 0h3m6 0h3m-2 0h3m-2 0h3m-2 0h3m-1 0h3m6 0h3m0 0h3m0 0h3m5 0h3m0 0h3m0 0h3m1 0h3m1 0h3m6 0h3m5 0h3m13 0h3m-211 1h3m0 0h3m5 0h3m-1 0h3m-2 0h3m-1 0h3m1 0h3m-1 0h3m3 0h3m0 0h3m1 0h3m-2 0h3m-2 0h3m0 0h3m-1 0h3m-1 0h3m-2 0h3m2 0h3m-2 0h3m1 0h3m-2 0h3m4 0h3m-1 0h3m-1 0h3m2 0h3m8 0h3m23 0h3m8 0h3m17 0h3m3 0h3m2 0h3m1 0h3m1 0h3m7 0h3m1 0h3m-2 0h3m3 0h3m4 0h3m0 0h3m10 0h3m1 0h3m17 0h3m-220 1h3m7 0h3m-2 0h3m3 0h3m0 0h3m1 0h3m0 0h3m0 0h3m1 0h3m-1 0h3m4 0h3m3 0h3m2 0h3m2 0h3m-1 0h3m0 0h3m-1 0h3m0 0h3m39 0h3m29 0h3m8 0h3m0 0h3m-2 0h3m-1 0h3m-2 0h3m7 0h3m-1 0h3m1 0h3m8 0h3m6 0h3m2 0h3m19 0h3m-231 1h3m-2 0h3m5 0h3m-1 0h3m0 0h3m4 0h3m-1 0h3m0 0h3m5 0h3m1 0h3m3 0h3m1 0h3m-2 0h3m6 0h3m8 0h3m6 0h3m19 0h3m5 0h3m14 0h3m-2 0h3m3 0h3m4 0h3m3 0h3m6 0h3m10 0h3m4 0h3m11 0h3m-2 0h3m0 0h3m22 0h3m17 0h3m-235 1h3m-1 0h3m0 0h3m2 0h3m-2 0h3m-2 0h3m1 0h3m2 0h3m1 0h3m0 0h3m-1 0h3m0 0h3m2 0h3m-1 0h3m3 0h3m-2 0h3m-1 0h3m-2 0h3m-2 0h3m1 0h3m-1 0h3m1 0h3m5 0h3m57 0h3m-2 0h3m3 0h3m12 0h3m3 0h3m-2 0h3m2 0h3m-1 0h3m-2 0h3m0 0h3m3 0h3m-2 0h3m14 0h3m-1 0h3m13 0h3m22 0h3m-240 1h3m-1 0h3m5 0h3m-1 0h3m3 0h3m-1 0h3m0 0h3m-1 0h3m-2 0h3m2 0h3m0 0h3m-1 0h3m0 0h3m-1 0h3m1 0h3m-1 0h3m-1 0h3m-1 0h3m-1 0h3m-2 0h3m-2 0h3m7 0h3m8 0h3m-1 0h3m31 0h3m3 0h3m1 0h3m4 0h3m1 0h3m4 0h3m1 0h3m-1 0h3m0 0h3m3 0h3m7 0h3m2 0h3m2 0h3m2 0h3m2 0h3m-1 0h3m0 0h3m17 0h3m2 0h3m11 0h3m-242 1h3m5 0h3m7 0h3m-1 0h3m6 0h3m-1 0h3m-2 0h3m-1 0h3m2 0h3m-2 0h3m7 0h3m0 0h3m3 0h3m7 0h3m10 0h3m0 0h3m40 0h3m16 0h3m3 0h3m-1 0h3m0 0h3m3 0h3m11 0h3m2 0h3m-1 0h3m-1 0h3m2 0h3m8 0h3m-2 0h3m0 0h3m-1 0h3m0 0h3m-203 1h3m-1 0h3m-1 0h3m1 0h3m-2 0h3m-2 0h3m-2 0h3m8 0h3m0 0h3m2 0h3m-1 0h3m-1 0h3m4 0h3m1 0h3m1 0h3m1 0h3m-1 0h3m-2 0h3m-2 0h3m-1 0h3m-1 0h3m3 0h3m23 0h3m4 0h3m14 0h3m-2 0h3m11 0h3m8 0h3m-1 0h3m4 0h3m2 0h3m3 0h3m1 0h3m6 0h3m5 0h3m0 0h3m3 0h3m-2 0h3m3 0h3m1 0h3m4 0h3m18 0h3m-246 1h3m0 0h3m-1 0h3m0 0h3m3 0h3m5 0h3m-2 0h3m0 0h3m-2 0h3m-1 0h3m6 0h3m-1 0h3m-2 0h3m1 0h3m-2 0h3m1 0h3m1 0h3m-2 0h3m5 0h3m-2 0h3m2 0h3m3 0h3m3 0h3m4 0h3m1 0h3m12 0h3m24 0h3m12 0h3m4 0h3m2 0h3m0 0h3m4 0h3m0 0h3m14 0h3m5 0h3m4 0h3m-2 0h3m7 0h3m-1 0h3m-212 1h3m12 0h3m-2 0h3m2 0h3m4 0h3m1 0h3m0 0h3m-1 0h3m-1 0h3m-1 0h3m3 0h3m-1 0h3m-2 0h3m3 0h3m2 0h3m-1 0h3m-2 0h3m-2 0h3m49 0h3m2 0h3m5 0h3m8 0h3m7 0h3m7 0h3m-2 0h3m2 0h3m3 0h3m3 0h3m2 0h3m-2 0h3m8 0h3m12 0h3m4 0h3m-2 0h3m6 0h3m2 0h3m-239 1h3m1 0h3m-1 0h3m-1 0h3m5 0h3m-2 0h3m0 0h3m-1 0h3m-2 0h3m1 0h3m-2 0h3m0 0h3m7 0h3m0 0h3m3 0h3m0 0h3m0 0h3m4 0h3m6 0h3m7 0h3m30 0h3m14 0h3m5 0h3m-1 0h3m-1 0h3m-1 0h3m2 0h3m2 0h3m0 0h3m-1 0h3m3 0h3m-1 0h3m6 0h3m2 0h3m6 0h3m0 0h3m6 0h3m3 0h3m20 0h3m-241 1h3m11 0h3m1 0h3m0 0h3m2 0h3m-2 0h3m0 0h3m1 0h3m0 0h3m-1 0h3m-1 0h3m5 0h3m-1 0h3m-1 0h3m-1 0h3m-1 0h3m0 0h3m-1 0h3m-2 0h3m1 0h3m4 0h3m30 0h3m20 0h3m9 0h3m3 0h3m-1 0h3m-1 0h3m-1 0h3m-2 0h3m12 0h3m2 0h3m22 0h3m-1 0h3m2 0h3m-203 1h3m-2 0h3m4 0h3m1 0h3m-1 0h3m5 0h3m-1 0h3m2 0h3m1 0h3m-2 0h3m0 0h3m-2 0h3m-1 0h3m1 0h3m0 0h3m-2 0h3m1 0h3m0 0h3m2 0h3m4 0h3m2 0h3m3 0h3m49 0h3m15 0h3m1 0h3m-2 0h3m-1 0h3m3 0h3m15 0h3m-2 0h3m-1 0h3m1 0h3m7 0h3m10 0h3m-208 1h3m1 0h3m-2 0h3m0 0h3m4 0h3m8 0h3m2 0h3m4 0h3m-1 0h3m0 0h3m-1 0h3m-2 0h3m-1 0h3m2 0h3m40 0h3m17 0h3m7 0h3m0 0h3m11 0h3m-2 0h3m-1 0h3m2 0h3m-1 0h3m-1 0h3m5 0h3m0 0h3m3 0h3m-2 0h3m2 0h3m0 0h3m1 0h3m3 0h3m2 0h3m9 0h3m-214 1h3m-2 0h3m4 0h3m3 0h3m-1 0h3m0 0h3m-1 0h3m3 0h3m-1 0h3m-2 0h3m-2 0h3m-2 0h3m3 0h3m2 0h3m-2 0h3m-1 0h3m3 0h3m-2 0h3m4 0h3m-1 0h3m39 0h3m6 0h3m8 0h3m1 0h3m18 0h3m9 0h3m0 0h3m2 0h3m2 0h3m-2 0h3m3 0h3m10 0h3m3 0h3m23 0h3m-242 1h3m10 0h3m2 0h3m4 0h3m0 0h3m0 0h3m1 0h3m-2 0h3m0 0h3m-1 0h3m1 0h3m-2 0h3m-1 0h3m-1 0h3m-1 0h3m1 0h3m-1 0h3m3 0h3m3 0h3m-2 0h3m-1 0h3m-1 0h3m1 0h3m-2 0h3m30 0h3m18 0h3m7 0h3m2 0h3m4 0h3m15 0h3m3 0h3m1 0h3m2 0h3m-2 0h3m0 0h3m-2 0h3m2 0h3m-1 0h3m-2 0h3m0 0h3m0 0h3m1 0h3m7 0h3m0 0h3m0 0h3m-214 1h3m0 0h3m0 0h3m-1 0h3m5 0h3m1 0h3m-1 0h3m11 0h3m-1 0h3m0 0h3m2 0h3m2 0h3m0 0h3m38 0h3m1 0h3m15 0h3m2 0h3m0 0h3m3 0h3m2 0h3m3 0h3m-2 0h3m4 0h3m-2 0h3m-2 0h3m2 0h3m1 0h3m1 0h3m13 0h3m15 0h3m-204 1h3m1 0h3m-1 0h3m4 0h3m-2 0h3m-1 0h3m1 0h3m0 0h3m-1 0h3m-2 0h3m-1 0h3m-1 0h3m1 0h3m3 0h3m2 0h3m0 0h3m3 0h3m3 0h3m0 0h3m63 0h3m5 0h3m1 0h3m5 0h3m-2 0h3m4 0h3m11 0h3m0 0h3m1 0h3m11 0h3m-1 0h3m32 0h3m-265 1h3m26 0h3m-2 0h3m-2 0h3m-2 0h3m1 0h3m3 0h3m1 0h3m-2 0h3m-2 0h3m7 0h3m-2 0h3m2 0h3m-2 0h3m-1 0h3m0 0h3m1 0h3m-2 0h3m0 0h3m1 0h3m-2 0h3m-2 0h3m2 0h3m5 0h3m54 0h3m17 0h3m7 0h3m-1 0h3m-1 0h3m-1 0h3m-1 0h3m6 0h3m-1 0h3m0 0h3m-1 0h3m2 0h3m-1 0h3m-2 0h3m-2 0h3m0 0h3m-1 0h3m-1 0h3m17 0h3m11 0h3m-234 1h3m3 0h3m0 0h3m-1 0h3m-2 0h3m7 0h3m-1 0h3m-2 0h3m1 0h3m8 0h3m-2 0h3m0 0h3m-2 0h3m4 0h3m0 0h3m1 0h3m-2 0h3m2 0h3m7 0h3m0 0h3m34 0h3m9 0h3m6 0h3m8 0h3m0 0h3m0 0h3m-1 0h3m-1 0h3m16 0h3m0 0h3m12 0h3m9 0h3m6 0h3m-208 1h3m17 0h3m0 0h3m-1 0h3m-1 0h3m2 0h3m2 0h3m2 0h3m-2 0h3m3 0h3m1 0h3m-2 0h3m22 0h3m15 0h3m20 0h3m4 0h3m3 0h3m16 0h3m0 0h3m4 0h3m11 0h3m7 0h3m5 0h3m1 0h3m0 0h3m4 0h3m-2 0h3m3 0h3m6 0h3m-236 1h3m-1 0h3m0 0h3m3 0h3m0 0h3m5 0h3m-2 0h3m0 0h3m-1 0h3m-2 0h3m-1 0h3m-1 0h3m-1 0h3m-2 0h3m0 0h3m0 0h3m0 0h3m2 0h3m-2 0h3m6 0h3m4 0h3m0 0h3m43 0h3m5 0h3m-1 0h3m20 0h3m5 0h3m0 0h3m-1 0h3m19 0h3m0 0h3m4 0h3m6 0h3m1 0h3m9 0h3m14 0h3m-227 1h3m-2 0h3m-1 0h3m-2 0h3m-1 0h3m1 0h3m1 0h3m11 0h3m2 0h3m-2 0h3m-1 0h3m-2 0h3m-2 0h3m1 0h3m-2 0h3m0 0h3m-2 0h3m-2 0h3m1 0h3m-2 0h3m0 0h3m-2 0h3m65 0h3m2 0h3m0 0h3m1 0h3m5 0h3m3 0h3m0 0h3m-2 0h3m-2 0h3m-1 0h3m7 0h3m0 0h3m-2 0h3m0 0h3m-1 0h3m2 0h3m0 0h3m-1 0h3m-194 1h3m2 0h3m0 0h3m1 0h3m-2 0h3m0 0h3m-1 0h3m0 0h3m-1 0h3m-2 0h3m-2 0h3m0 0h3m4 0h3m10 0h3m2 0h3m0 0h3m-1 0h3m3 0h3m0 0h3m3 0h3m29 0h3m24 0h3m12 0h3m0 0h3m3 0h3m10 0h3m0 0h3m6 0h3m4 0h3m-1 0h3m-1 0h3m2 0h3m-2 0h3m1 0h3m-226 1h3m19 0h3m1 0h3m1 0h3m3 0h3m-2 0h3m-1 0h3m-2 0h3m1 0h3m-2 0h3m7 0h3m-1 0h3m0 0h3m3 0h3m3 0h3m0 0h3m9 0h3m1 0h3m3 0h3m8 0h3m17 0h3m3 0h3m4 0h3m8 0h3m0 0h3m2 0h3m1 0h3m-2 0h3m5 0h3m-2 0h3m-2 0h3m4 0h3m6 0h3m1 0h3m12 0h3m2 0h3m11 0h3m10 0h3m-200 1h3m3 0h3m2 0h3m4 0h3m6 0h3m-2 0h3m0 0h3m-1 0h3m5 0h3m34 0h3m28 0h3m2 0h3m1 0h3m2 0h3m8 0h3m6 0h3m-2 0h3m6 0h3m4 0h3m14 0h3m1 0h3m4 0h3m2 0h3m-226 1h3m13 0h3m0 0h3m-2 0h3m-2 0h3m-1 0h3m1 0h3m0 0h3m-1 0h3m-2 0h3m0 0h3m-2 0h3m-1 0h3m-1 0h3m-1 0h3m-2 0h3m0 0h3m0 0h3m-1 0h3m-2 0h3m-1 0h3m4 0h3m2 0h3m3 0h3m33 0h3m5 0h3m2 0h3m37 0h3m-1 0h3m2 0h3m24 0h3m-1 0h3m0 0h3m-1 0h3m14 0h3m-211 1h3m1 0h3m0 0h3m0 0h3m3 0h3m-2 0h3m1 0h3m-1 0h3m1 0h3m0 0h3m-1 0h3m1 0h3m4 0h3m2 0h3m-1 0h3m-2 0h3m44 0h3m10 0h3m2 0h3m5 0h3m22 0h3m3 0h3m0 0h3m0 0h3m-2 0h3m-1 0h3m-1 0h3m1 0h3m14 0h3m9 0h3m2 0h3m12 0h3m13 0h3m-251 1h3m12 0h3m0 0h3m5 0h3m-2 0h3m2 0h3m13 0h3m4 0h3m0 0h3m-2 0h3m1 0h3m0 0h3m0 0h3m-2 0h3m1 0h3m-1 0h3m52 0h3m7 0h3m0 0h3m4 0h3m5 0h3m-1 0h3m1 0h3m-1 0h3m1 0h3m2 0h3m6 0h3m2 0h3m-1 0h3m1 0h3m1 0h3m4 0h3m-205 1h3m5 0h3m14 0h3m-2 0h3m-2 0h3m-1 0h3m2 0h3m1 0h3m2 0h3m0 0h3m0 0h3m-2 0h3m1 0h3m65 0h3m3 0h3m0 0h3m17 0h3m3 0h3m0 0h3m0 0h3m-1 0h3m0 0h3m0 0h3m9 0h3m-2 0h3m7 0h3m-1 0h3m1 0h3m7 0h3m-1 0h3m-219 1h3m7 0h3m0 0h3m0 0h3m0 0h3m0 0h3m8 0h3m-2 0h3m2 0h3m0 0h3m5 0h3m1 0h3m1 0h3m6 0h3m0 0h3m23 0h3m71 0h3m-1 0h3m-2 0h3m22 0h3m2 0h3m-1 0h3m8 0h3m1 0h3m-208 1h3m0 0h3m0 0h3m3 0h3m2 0h3m0 0h3m-2 0h3m6 0h3m0 0h3m-1 0h3m-1 0h3m0 0h3m-1 0h3m4 0h3m-2 0h3m-1 0h3m3 0h3m51 0h3m8 0h3m0 0h3m5 0h3m2 0h3m14 0h3m19 0h3m21 0h3m-213 1h3m11 0h3m-1 0h3m-1 0h3m-2 0h3m-2 0h3m0 0h3m0 0h3m3 0h3m1 0h3m-2 0h3m2 0h3m-1 0h3m-2 0h3m0 0h3m1 0h3m-2 0h3m0 0h3m2 0h3m7 0h3m8 0h3m47 0h3m2 0h3m17 0h3m-2 0h3m1 0h3m0 0h3m0 0h3m-2 0h3m-1 0h3m-2 0h3m-2 0h3m-2 0h3m1 0h3m5 0h3m13 0h3m1 0h3m1 0h3m-213 1h3m4 0h3m0 0h3m-2 0h3m-2 0h3m2 0h3m1 0h3m3 0h3m-2 0h3m3 0h3m0 0h3m-1 0h3m-1 0h3m-2 0h3m-1 0h3m1 0h3m-1 0h3m12 0h3m35 0h3m25 0h3m0 0h3m2 0h3m0 0h3m-2 0h3m8 0h3m-1 0h3m6 0h3m11 0h3m3 0h3m-179 1h3m6 0h3m1 0h3m-2 0h3m4 0h3m0 0h3m-2 0h3m1 0h3m-2 0h3m-2 0h3m9 0h3m-2 0h3m-1 0h3m2 0h3m7 0h3m74 0h3m-2 0h3m8 0h3m8 0h3m0 0h3m3 0h3m-1 0h3m16 0h3m-203 1h3m7 0h3m0 0h3m0 0h3m-1 0h3m1 0h3m0 0h3m4 0h3m1 0h3m-1 0h3m-2 0h3m-1 0h3m2 0h3m0 0h3m3 0h3m-2 0h3m7 0h3m1 0h3m48 0h3m-1 0h3m-2 0h3m6 0h3m9 0h3m10 0h3m-2 0h3m-1 0h3m10 0h3m18 0h3m0 0h3m4 0h3m-204 1h3m0 0h3m3 0h3m0 0h3m2 0h3m0 0h3m2 0h3m-1 0h3m-1 0h3m-1 0h3m-2 0h3m1 0h3m-1 0h3m-1 0h3m2 0h3m0 0h3m-2 0h3m-1 0h3m7 0h3m41 0h3m31 0h3m2 0h3m8 0h3m3 0h3m-2 0h3m4 0h3m0 0h3m9 0h3m5 0h3m1 0h3m12 0h3m-221 1h3m5 0h3m4 0h3m7 0h3m1 0h3m-2 0h3m2 0h3m-1 0h3m0 0h3m-1 0h3m0 0h3m1 0h3m-1 0h3m-1 0h3m11 0h3m30 0h3m45 0h3m1 0h3m-1 0h3m1 0h3m0 0h3m0 0h3m-1 0h3m1 0h3m5 0h3m3 0h3m-2 0h3m-1 0h3m-1 0h3m8 0h3m3 0h3m13 0h3m-211 1h3m0 0h3m-2 0h3m2 0h3m-2 0h3m0 0h3m5 0h3m0 0h3m0 0h3m-2 0h3m-1 0h3m1 0h3m-2 0h3m2 0h3m1 0h3m57 0h3m4 0h3m2 0h3m6 0h3m-2 0h3m5 0h3m5 0h3m4 0h3m1 0h3m-2 0h3m-2 0h3m0 0h3m-2 0h3m-2 0h3m3 0h3m0 0h3m10 0h3m16 0h3m3 0h3m4 0h3m0 0h3m-220 1h3m3 0h3m0 0h3m1 0h3m0 0h3m-1 0h3m-2 0h3m-2 0h3m0 0h3m2 0h3m-1 0h3m0 0h3m0 0h3m-2 0h3m0 0h3m-2 0h3m-1 0h3m-2 0h3m1 0h3m0 0h3m-2 0h3m4 0h3m46 0h3m19 0h3m17 0h3m4 0h3m0 0h3m-2 0h3m-1 0h3m6 0h3m-1 0h3m-2 0h3m10 0h3m-208 1h3m11 0h3m12 0h3m-1 0h3m3 0h3m-2 0h3m0 0h3m-1 0h3m1 0h3m3 0h3m7 0h3m13 0h3m43 0h3m0 0h3m-2 0h3m14 0h3m26 0h3m10 0h3m-1 0h3m10 0h3m20 0h3m-219 1h3m8 0h3m1 0h3m0 0h3m1 0h3m6 0h3m-1 0h3m3 0h3m1 0h3m-1 0h3m0 0h3m2 0h3m1 0h3m-2 0h3m48 0h3m7 0h3m10 0h3m4 0h3m0 0h3m4 0h3m-2 0h3m16 0h3m3 0h3m3 0h3m13 0h3m2 0h3m24 0h3m-236 1h3m2 0h3m-1 0h3m0 0h3m1 0h3m3 0h3m4 0h3m-2 0h3m2 0h3m-1 0h3m6 0h3m3 0h3m0 0h3m5 0h3m4 0h3m34 0h3m0 0h3m1 0h3m-2 0h3m-2 0h3m4 0h3m6 0h3m-2 0h3m10 0h3m5 0h3m4 0h3m-1 0h3m-1 0h3m10 0h3m-2 0h3m3 0h3m-1 0h3m35 0h3m-222 1h3m0 0h3m-1 0h3m0 0h3m-1 0h3m9 0h3m2 0h3m1 0h3m0 0h3m0 0h3m-1 0h3m-1 0h3m1 0h3m-1 0h3m-2 0h3m5 0h3m-1 0h3m-1 0h3m48 0h3m10 0h3m6 0h3m6 0h3m1 0h3m-1 0h3m4 0h3m8 0h3m7 0h3m2 0h3m3 0h3m-2 0h3m5 0h3m8 0h3m0 0h3m-222 1h3m-1 0h3m20 0h3m-1 0h3m-1 0h3m-1 0h3m-1 0h3m0 0h3m-2 0h3m-2 0h3m1 0h3m3 0h3m-1 0h3m-1 0h3m2 0h3m1 0h3m0 0h3m0 0h3m51 0h3m0 0h3m4 0h3m19 0h3m21 0h3m-176 1h3m1 0h3m0 0h3m4 0h3m-1 0h3m3 0h3m1 0h3m1 0h3m-1 0h3m-2 0h3m-2 0h3m8 0h3m1 0h3m0 0h3m0 0h3m7 0h3m46 0h3m13 0h3m13 0h3m7 0h3m9 0h3m10 0h3m0 0h3m-1 0h3m7 0h3m6 0h3m9 0h3m1 0h3m0 0h3m-216 1h3m3 0h3m5 0h3m5 0h3m2 0h3m-2 0h3m-1 0h3m4 0h3m2 0h3m2 0h3m-1 0h3m1 0h3m0 0h3m12 0h3m49 0h3m17 0h3m-2 0h3m0 0h3m3 0h3m0 0h3m9 0h3m18 0h3m0 0h3m7 0h3m-204 1h3m0 0h3m7 0h3m-1 0h3m-1 0h3m-2 0h3m-1 0h3m1 0h3m2 0h3m-1 0h3m-2 0h3m0 0h3m-2 0h3m21 0h3m56 0h3m5 0h3m4 0h3m-2 0h3m1 0h3m-1 0h3m12 0h3m2 0h3m-1 0h3m1 0h3m-1 0h3m10 0h3m40 0h3m-226 1h3m-1 0h3m0 0h3m7 0h3m-1 0h3m-1 0h3m-1 0h3m1 0h3m-2 0h3m-2 0h3m6 0h3m-2 0h3m-2 0h3m0 0h3m12 0h3m49 0h3m4 0h3m9 0h3m4 0h3m-2 0h3m9 0h3m-2 0h3m6 0h3m1 0h3m-1 0h3m0 0h3m4 0h3m2 0h3m19 0h3m-212 1h3m7 0h3m-1 0h3m1 0h3m5 0h3m-2 0h3m-1 0h3m1 0h3m19 0h3m-1 0h3m-1 0h3m4 0h3m61 0h3m30 0h3m12 0h3m1 0h3m1 0h3m3 0h3m11 0h3m3 0h3m-201 1h3m1 0h3m-1 0h3m1 0h3m4 0h3m3 0h3m0 0h3m-2 0h3m-1 0h3m-2 0h3m-1 0h3m-1 0h3m-1 0h3m0 0h3m3 0h3m2 0h3m-2 0h3m5 0h3m33 0h3m21 0h3m-1 0h3m28 0h3m15 0h3m7 0h3m2 0h3m0 0h3m-1 0h3m-192 1h3m1 0h3m-2 0h3m-1 0h3m-1 0h3m-1 0h3m1 0h3m-2 0h3m0 0h3m-1 0h3m-2 0h3m-1 0h3m0 0h3m-1 0h3m7 0h3m79 0h3m17 0h3m8 0h3m4 0h3m5 0h3m29 0h3m-204 1h3m5 0h3m4 0h3m-2 0h3m0 0h3m-2 0h3m0 0h3m3 0h3m-2 0h3m2 0h3m0 0h3m-2 0h3m1 0h3m-2 0h3m1 0h3m18 0h3m22 0h3m4 0h3m4 0h3m8 0h3m-2 0h3m24 0h3m29 0h3m3 0h3m11 0h3m0 0h3m-206 1h3m-2 0h3m-1 0h3m-2 0h3m2 0h3m-1 0h3m6 0h3m2 0h3m-2 0h3m4 0h3m-2 0h3m15 0h3m5 0h3m45 0h3m-2 0h3m-2 0h3m-2 0h3m32 0h3m8 0h3m1 0h3m-1 0h3m4 0h3m3 0h3m-182 1h3m5 0h3m7 0h3m0 0h3m-2 0h3m1 0h3m-2 0h3m0 0h3m0 0h3m20 0h3m1 0h3m3 0h3m0 0h3m40 0h3m6 0h3m8 0h3m6 0h3m5 0h3m4 0h3m12 0h3m20 0h3m4 0h3m7 0h3m-218 1h3m4 0h3m4 0h3m-2 0h3m0 0h3m1 0h3m2 0h3m1 0h3m0 0h3m3 0h3m0 0h3m-1 0h3m3 0h3m7 0h3m0 0h3m48 0h3m10 0h3m4 0h3m-1 0h3m-2 0h3m9 0h3m8 0h3m-1 0h3m10 0h3m9 0h3m23 0h3m-206 1h3m4 0h3m-1 0h3m-2 0h3m8 0h3m1 0h3m-2 0h3m10 0h3m8 0h3m5 0h3m54 0h3m-2 0h3m-1 0h3m3 0h3m5 0h3m3 0h3m0 0h3m3 0h3m5 0h3m0 0h3m-1 0h3m4 0h3m4 0h3m-2 0h3m15 0h3m-192 1h3m-1 0h3m4 0h3m1 0h3m-2 0h3m1 0h3m-1 0h3m1 0h3m-1 0h3m-2 0h3m0 0h3m2 0h3m17 0h3m36 0h3m5 0h3m18 0h3m24 0h3m15 0h3m4 0h3m15 0h3m-213 1h3m6 0h3m14 0h3m3 0h3m-1 0h3m12 0h3m-2 0h3m-1 0h3m-1 0h3m14 0h3m64 0h3m0 0h3m-1 0h3m2 0h3m5 0h3m4 0h3m6 0h3m0 0h3m5 0h3m-1 0h3m4 0h3m0 0h3m-1 0h3m-193 1h3m2 0h3m0 0h3m-1 0h3m16 0h3m-1 0h3m1 0h3m2 0h3m6 0h3m0 0h3m70 0h3m21 0h3m3 0h3m8 0h3m12 0h3m-187 1h3m13 0h3m0 0h3m-1 0h3m-2 0h3m-2 0h3m-1 0h3m-2 0h3m-2 0h3m0 0h3m-2 0h3m1 0h3m0 0h3m-2 0h3m0 0h3m1 0h3m12 0h3m4 0h3m25 0h3m32 0h3m-2 0h3m-2 0h3m2 0h3m39 0h3m18 0h3m-1 0h3m-208 1h3m13 0h3m3 0h3m2 0h3m-2 0h3m0 0h3m0 0h3m-1 0h3m0 0h3m-1 0h3m2 0h3m-2 0h3m-2 0h3m9 0h3m6 0h3m56 0h3m20 0h3m3 0h3m5 0h3m5 0h3m3 0h3m1 0h3m11 0h3m-180 1h3m7 0h3m-2 0h3m-2 0h3m0 0h3m1 0h3m9 0h3m10 0h3m44 0h3m16 0h3m0 0h3m49 0h3m-2 0h3m13 0h3m4 0h3m-202 1h3m-2 0h3m6 0h3m5 0h3m-2 0h3m3 0h3m-2 0h3m0 0h3m4 0h3m-2 0h3m29 0h3m66 0h3m3 0h3m-1 0h3m13 0h3m-2 0h3m8 0h3m11 0h3m6 0h3m20 0h3m3 0h3m-228 1h3m2 0h3m-2 0h3m13 0h3m-2 0h3m9 0h3m0 0h3m-1 0h3m-1 0h3m2 0h3m-1 0h3m17 0h3m36 0h3m27 0h3m1 0h3m17 0h3m-1 0h3m4 0h3m13 0h3m-174 1h3m-1 0h3m-2 0h3m-2 0h3m7 0h3m0 0h3m-1 0h3m0 0h3m1 0h3m6 0h3m1 0h3m8 0h3m2 0h3m31 0h3m34 0h3m15 0h3m-169 1h3m6 0h3m11 0h3m5 0h3m-1 0h3m-2 0h3m-1 0h3m5 0h3m-1 0h3m1 0h3m0 0h3m-1 0h3m5 0h3m5 0h3m80 0h3m-2 0h3m3 0h3m-1 0h3m17 0h3m7 0h3m7 0h3m-194 1h3m-1 0h3m0 0h3m-2 0h3m1 0h3m9 0h3m4 0h3m0 0h3m4 0h3m1 0h3m-2 0h3m0 0h3m-2 0h3m-2 0h3m15 0h3m64 0h3m4 0h3m17 0h3m21 0h3m-182 1h3m3 0h3m7 0h3m-1 0h3m0 0h3m0 0h3m-2 0h3m0 0h3m30 0h3m7 0h3m34 0h3m17 0h3m4 0h3m7 0h3m16 0h3m-167 1h3m-1 0h3m-1 0h3m0 0h3m-1 0h3m5 0h3m-2 0h3m16 0h3m2 0h3m-1 0h3m41 0h3m20 0h3m46 0h3m-2 0h3m9 0h3m-2 0h3m4 0h3m-182 1h3m6 0h3m-1 0h3m-2 0h3m7 0h3m1 0h3m-1 0h3m7 0h3m-1 0h3m4 0h3m57 0h3m32 0h3m37 0h3m-191 1h3m7 0h3m12 0h3m-2 0h3m7 0h3m7 0h3m107 0h3m-155 1h3m8 0h3m-1 0h3m-2 0h3m5 0h3m3 0h3m-1 0h3m3 0h3m4 0h3m5 0h3m-2 0h3m5 0h3m22 0h3m43 0h3m26 0h3m3 0h3m35 0h3m-208 1h3m8 0h3m3 0h3m1 0h3m-2 0h3m-2 0h3m1 0h3m-1 0h3m-2 0h3m4 0h3m6 0h3m4 0h3m84 0h3m9 0h3m2 0h3m7 0h3m19 0h3m-195 1h3m8 0h3m-1 0h3m6 0h3m-2 0h3m6 0h3m2 0h3m2 0h3m-2 0h3m-1 0h3m-2 0h3m3 0h3m21 0h3m3 0h3m22 0h3m47 0h3m3 0h3m-165 1h3m3 0h3m4 0h3m3 0h3m0 0h3m0 0h3m1 0h3m11 0h3m7 0h3m0 0h3m2 0h3m17 0h3m27 0h3m25 0h3m10 0h3m-164 1h3m1 0h3m1 0h3m2 0h3m8 0h3m7 0h3m1 0h3m1 0h3m2 0h3m4 0h3m-2 0h3m12 0h3m46 0h3m1 0h3m10 0h3m-122 1h3m1 0h3m5 0h3m0 0h3m-1 0h3m15 0h3m-1 0h3m10 0h3m26 0h3m19 0h3m45 0h3m-148 1h3m0 0h3m11 0h3m9 0h3m11 0h3m-1 0h3m0 0h3m52 0h3m34 0h3m-1 0h3m-2 0h3m12 0h3m-175 1h3m14 0h3m-2 0h3m-1 0h3m-1 0h3m8 0h3m1 0h3m-1 0h3m4 0h3m1 0h3m-2 0h3m2 0h3m7 0h3m-62 1h3m10 0h3m5 0h3m2 0h3m3 0h3m7 0h3m14 0h3m0 0h3m69 0h3m3 0h3m20 0h3m6 0h3m-214 1h3m46 0h3m14 0h3m4 0h3m10 0h3m0 0h3m0 0h3m1 0h3m93 0h3m22 0h3m-165 1h3m-2 0h3m0 0h3m6 0h3m7 0h3m12 0h3m3 0h3m41 0h3m-96 1h3m6 0h3m10 0h3m-1 0h3m11 0h3m5 0h3m1 0h3m-2 0h3m52 0h3m8 0h3m19 0h3m-152 1h3m19 0h3m-2 0h3m6 0h3m79 0h3m55 0h3m1 0h3m-186 1h3m15 0h3m6 0h3m16 0h3m7 0h3m17 0h3m25 0h3m55 0h3m3 0h3m-145 1h3m2 0h3m0 0h3m-1 0h3m22 0h3m93 0h3m28 0h3m-150 1h3m16 0h3m1 0h3m44 0h3m37 0h3m-138 1h3m7 0h3m14 0h3m1 0h3m3 0h3m1 0h3m6 0h3m30 0h3m40 0h3m0 0h3m22 0h3m-114 1h3m54 0h3m28 0h3m-126 1h3m5 0h3m2 0h3m-1 0h3m20 0h3m86 0h3m-51 1h3m11 0h3m35 0h3m-91 1h3m1 0h3m24 0h3m-81 1h3m121 0h3m-104 1h3m15 0h3m6 0h3m73 1h3m8 0h3m-118 1h3m56 1h3m-82 1h3m11 0h3m3 0h3m76 0h3m-103 1h3m37 0h3m42 0h3m44 0h3m-122 1h3m16 0h3m7 0h3m-1 0h3m-32 1h3m26 0h3m12 0h3m-68 1h3m24 0h3m16 0h3m21 0h3m-43 1h3m-15 1h3m8 0h3m48 0h3m-73 2h3m8 0h3m47 0h3m-59 1h3m37 6h3m-18 1h3m79 0h3m-56 2h3m17 6h3m-60 2h3"/><path stroke="#f000f0" stroke-width="3.2" d="M258 38h3m-36 5h3m-12 1h3m6 0h3m-16 1h3m27 0h3m0 1h3m-40 1h3m16 0h3m4 1h3m-23 1h3m32 0h3m-19 1h3m-28 2h3m-13 1h3m13 0h3m9 2h3m23 0h3m-23 1h3m8 0h3m-2 1h3m-55 2h3m45 0h3m6 0h3m17 1h3m-4 1h3m-40 1h3m-17 1h3m47 0h3m-55 1h3m-2 1h3m8 0h3m3 0h3m8 1h3m-24 1h3m39 0h3m-15 1h3m-2 0h3m-14 1h3m1 2h3m-23 1h3m9 0h3m32 0h3m-10 1h3m-56 2h3m35 0h3m-38 1h3m11 1h3m43 0h3m-54 1h3m12 0h3m34 0h3m15 0h3m-51 1h3m42 1h3m-73 1h3m17 0h3m-29 1h3m46 0h3m51 0h3m-113 1h3m31 0h3m54 0h3m-15 1h3m-30 1h3m17 0h3m-55 1h3m8 0h3m21 0h3m59 0h3m24 0h3m-108 1h3m121 2h3m-127 1h3m20 0h3m20 0h3m35 0h3m-66 2h3m-2 0h3m-64 1h3m4 0h3m43 0h3m-1 0h3m35 0h3m-98 1h3m7 0h3m13 0h3m37 0h3m18 0h3m55 0h3m17 0h3m-130 1h3m42 0h3m6 0h3m-70 1h3m43 0h3m65 0h3m-130 1h3m61 1h3m14 0h3m-65 1h3m16 0h3m14 0h3m20 0h3m-66 1h3m67 0h3m-59 1h3m110 0h3m-118 1h3m29 0h3m5 0h3m65 0h3m-116 1h3m-25 1h3m14 0h3m43 0h3m26 1h3m-72 1h3m43 0h3m3 0h3m25 0h3m22 0h3m2 0h3m-25 1h3m3 0h3m19 0h3m8 0h3m-101 1h3m30 1h3m38 0h3m-64 1h3m53 0h3m15 1h3m19 0h3m-138 1h3m-2 0h3m73 0h3m-66 1h3m30 0h3m74 1h3m-82 1h3m28 0h3m28 0h3m1 0h3m29 0h3m-129 1h3m-53 1h3m78 0h3m46 0h3m-53 1h3m-55 1h3m10 0h3m38 0h3m6 2h3m10 0h3m-83 1h3m8 0h3m-1 0h3m65 0h3m2 0h3m8 0h3m-39 1h3m6 0h3m67 0h3m-132 1h3m25 0h3m6 0h3m-58 1h3m154 0h3m-59 1h3m-78 1h3m39 0h3m3 0h3m64 0h3m-139 1h3m9 0h3m30 0h3m66 0h3m0 0h3m22 0h3m-109 1h3m43 0h3m-72 1h3m69 0h3m-84 1h3m64 0h3m6 0h3m4 0h3m36 0h3m-114 1h3m2 0h3m23 0h3m15 0h3m27 0h3m22 0h3m1 0h3m-96 1h3m41 0h3m-35 1h3m5 0h3m29 0h3m54 0h3m-136 2h3m9 0h3m40 0h3m20 0h3m28 1h3m1 0h3m12 0h3m-111 1h3m15 0h3m40 0h3m16 0h3m23 0h3m-24 1h3m18 0h3m-86 1h3m22 0h3m-65 1h3m21 0h3m8 0h3m52 0h3m3 0h3m1 0h3m-119 1h3m9 0h3m56 0h3m-26 1h3m7 0h3m-54 1h3m0 0h3m63 0h3m28 0h3m-16 1h3m-67 1h3m-4 1h3m19 1h3m34 0h3m73 0h3m-107 1h3m7 0h3m41 0h3m7 0h3m-52 1h3m62 0h3m-40 1h3m26 0h3m-120 1h3m-2 1h3m-14 2h3m23 0h3m-25 1h3m12 0h3m16 0h3m55 0h3m32 0h3m-128 1h3m77 0h3m5 0h3m-61 1h3m14 0h3m30 0h3m-1 0h3m-1 0h3m-22 1h3m41 0h3m-109 1h3m19 0h3m80 0h3m39 1h3m-138 1h3m84 0h3m-76 1h3m15 0h3m8 0h3m13 0h3m12 0h3m-66 1h3m16 0h3m36 0h3m11 0h3m6 0h3m-116 1h3m77 0h3m27 0h3m-91 1h3m65 1h3m-82 1h3m24 0h3m-37 1h3m7 0h3m-1 0h3m11 0h3m10 0h3m28 0h3m-72 1h3m18 0h3m0 0h3m74 0h3m-91 1h3m-1 0h3m34 0h3m70 0h3m-129 1h3m50 0h3m21 0h3m12 0h3m-91 1h3m-7 2h3m41 0h3m-32 1h3m36 0h3m-38 1h3m9 0h3m56 0h3m5 0h3m6 0h3m-105 1h3m6 1h3m51 1h3m6 0h3m15 0h3m49 0h3m-144 1h3m14 0h3m8 0h3m66 0h3m-31 1h3m10 0h3m-30 1h3m-36 1h3m38 0h3m4 0h3m28 0h3m-96 1h3m-1 0h3m42 0h3m-42 1h3m49 0h3m0 0h3m-48 1h3m53 0h3m30 0h3m-115 1h3m26 0h3m30 0h3m36 0h3m-70 1h3m22 2h3m42 0h3m-39 1h3m24 0h3m-2 1h3m-72 1h3m22 0h3m-24 1h3m34 0h3m21 0h3m-80 2h3m14 0h3m-17 1h3m88 0h3m-89 1h3m47 0h3m-40 1h3m-35 2h3m2 0h3m44 0h3m-25 1h3m32 0h3m-73 2h3m11 1h3m18 0h3m26 3h3m-65 1h3m69 0h3m-72 1h3m62 0h3m-49 1h3m31 0h3m35 0h3m-54 1h3m0 0h3m43 0h3m-80 1h3m-2 0h3m-15 1h3m50 0h3m-16 1h3m2 0h3m-1 1h3m-58 1h3m83 0h3m-69 1h3m0 1h3m14 0h3m21 0h3m5 0h3m-29 1h3m22 0h3m4 0h3m9 0h3m-22 2h3m-38 1h3m11 1h3m9 2h3m-21 2h3m15 0h3m10 0h3m-51 2h3m21 0h3m-13 1h3m42 0h3m-66 1h3m2 0h3m22 0h3m11 1h3m-31 1h3m2 0h3m0 0h3m11 1h3m-54 1h3m24 0h3m4 1h3m41 2h3m-69 4h3m14 13h3"/><path stroke="#f000f0" stroke-width="3.2" d="M925 33h3m-31 2h3m17 3h3m-33 4h3m16 1h3m-22 2h3m-17 1h3m11 0h3m26 0h3m0 1h3m4 0h3m-19 1h3m-27 1h3m18 0h3m16 0h3m3 0h3m0 0h3m-45 1h3m6 0h3m6 0h3m-96 1h3m57 0h3m6 0h3m18 0h3m1 0h3m24 0h3m-2 0h3m-95 1h3m55 0h3m7 0h3m1 0h3m26 0h3m-82 1h3m8 0h3m7 0h3m15 0h3m7 0h3m10 0h3m4 0h3m-74 1h3m14 0h3m21 0h3m-39 1h3m1 0h3m9 0h3m3 0h3m28 0h3m-78 1h3m18 0h3m5 0h3m11 0h3m33 0h3m3 0h3m-58 1h3m1 0h3m1 0h3m12 0h3m12 0h3m12 0h3m1 0h3m-81 1h3m6 0h3m6 0h3m-1 0h3m-2 0h3m10 0h3m0 0h3m6 0h3m2 0h3m-2 0h3m4 0h3m9 0h3m-1 0h3m9 0h3m-2 0h3m13 0h3m-127 1h3m10 0h3m17 0h3m24 0h3m3 0h3m2 0h3m9 0h3m0 0h3m1 0h3m1 0h3m-1 0h3m6 0h3m-107 1h3m6 0h3m8 0h3m2 0h3m16 0h3m4 0h3m20 0h3m7 0h3m16 0h3m-93 1h3m17 0h3m12 0h3m4 0h3m2 0h3m-1 0h3m-2 0h3m8 0h3m1 0h3m0 0h3m9 0h3m-2 0h3m-2 0h3m8 0h3m10 0h3m-99 1h3m5 0h3m6 0h3m2 0h3m9 0h3m-2 0h3m6 0h3m2 0h3m2 0h3m3 0h3m2 0h3m-1 0h3m4 0h3m-116 1h3m23 0h3m10 0h3m-1 0h3m-1 0h3m2 0h3m7 0h3m9 0h3m4 0h3m3 0h3m-1 0h3m3 0h3m1 0h3m2 0h3m2 0h3m4 0h3m-1 0h3m-1 0h3m1 0h3m-91 1h3m11 0h3m1 0h3m28 0h3m6 0h3m12 0h3m2 0h3m11 0h3m-115 1h3m7 0h3m11 0h3m12 0h3m2 0h3m-2 0h3m1 0h3m-2 0h3m8 0h3m0 0h3m-2 0h3m3 0h3m4 0h3m-1 0h3m0 0h3m-1 0h3m-1 0h3m1 0h3m1 0h3m5 0h3m-1 0h3m4 0h3m0 0h3m-122 1h3m22 0h3m0 0h3m4 0h3m-2 0h3m10 0h3m9 0h3m3 0h3m-1 0h3m8 0h3m24 0h3m9 0h3m-124 1h3m21 0h3m5 0h3m7 0h3m-1 0h3m9 0h3m22 0h3m0 0h3m-1 0h3m0 0h3m-1 0h3m-2 0h3m1 0h3m-1 0h3m-1 0h3m-1 0h3m5 0h3m-1 0h3m3 0h3m3 0h3m-126 1h3m7 0h3m16 0h3m20 0h3m2 0h3m0 0h3m-1 0h3m-2 0h3m2 0h3m3 0h3m4 0h3m19 0h3m-1 0h3m-2 0h3m-1 0h3m-106 1h3m4 0h3m15 0h3m-1 0h3m-1 0h3m1 0h3m9 0h3m-2 0h3m4 0h3m-1 0h3m2 0h3m3 0h3m-1 0h3m1 0h3m4 0h3m0 0h3m4 0h3m1 0h3m-1 0h3m-2 0h3m6 0h3m-2 0h3m-1 0h3m14 0h3m-155 1h3m23 0h3m0 0h3m12 0h3m-2 0h3m-1 0h3m3 0h3m-2 0h3m1 0h3m3 0h3m3 0h3m8 0h3m-1 0h3m0 0h3m0 0h3m0 0h3m2 0h3m1 0h3m0 0h3m-2 0h3m5 0h3m-1 0h3m10 0h3m12 0h3m17 0h3m-120 1h3m-2 0h3m14 0h3m24 0h3m-1 0h3m9 0h3m5 0h3m2 0h3m10 0h3m-1 0h3m-106 1h3m14 0h3m0 0h3m-2 0h3m0 0h3m8 0h3m6 0h3m-1 0h3m-2 0h3m0 0h3m4 0h3m4 0h3m1 0h3m-2 0h3m1 0h3m9 0h3m8 0h3m0 0h3m3 0h3m3 0h3m14 0h3m-147 1h3m24 0h3m6 0h3m5 0h3m-2 0h3m6 0h3m-2 0h3m2 0h3m-2 0h3m3 0h3m0 0h3m-1 0h3m4 0h3m0 0h3m5 0h3m-1 0h3m2 0h3m2 0h3m0 0h3m-2 0h3m0 0h3m2 0h3m0 0h3m-2 0h3m2 0h3m0 0h3m-116 1h3m13 0h3m2 0h3m9 0h3m9 0h3m4 0h3m1 0h3m-1 0h3m3 0h3m2 0h3m-1 0h3m-2 0h3m0 0h3m12 0h3m4 0h3m15 0h3m-131 1h3m2 0h3m8 0h3m-1 0h3m2 0h3m-1 0h3m9 0h3m2 0h3m1 0h3m3 0h3m0 0h3m-2 0h3m-1 0h3m6 0h3m4 0h3m1 0h3m3 0h3m3 0h3m5 0h3m6 0h3m0 0h3m-2 0h3m0 0h3m0 0h3m1 0h3m1 0h3m0 0h3m-124 1h3m4 0h3m11 0h3m1 0h3m1 0h3m0 0h3m7 0h3m-2 0h3m0 0h3m0 0h3m1 0h3m18 0h3m8 0h3m0 0h3m1 0h3m0 0h3m2 0h3m2 0h3m3 0h3m-143 1h3m14 0h3m-1 0h3m3 0h3m4 0h3m6 0h3m-1 0h3m-1 0h3m9 0h3m1 0h3m-1 0h3m-2 0h3m1 0h3m5 0h3m1 0h3m3 0h3m-1 0h3m1 0h3m6 0h3m4 0h3m3 0h3m0 0h3m0 0h3m10 0h3m0 0h3m13 0h3m3 0h3m-138 1h3m9 0h3m2 0h3m4 0h3m0 0h3m2 0h3m1 0h3m2 0h3m1 0h3m13 0h3m1 0h3m0 0h3m-1 0h3m3 0h3m4 0h3m-2 0h3m1 0h3m2 0h3m4 0h3m1 0h3m7 0h3m-136 1h3m9 0h3m8 0h3m2 0h3m6 0h3m0 0h3m3 0h3m8 0h3m2 0h3m0 0h3m-1 0h3m3 0h3m0 0h3m-2 0h3m-1 0h3m-1 0h3m-2 0h3m9 0h3m0 0h3m2 0h3m-1 0h3m1 0h3m6 0h3m-1 0h3m3 0h3m-2 0h3m0 0h3m1 0h3m7 0h3m-107 1h3m7 0h3m2 0h3m11 0h3m1 0h3m10 0h3m-1 0h3m1 0h3m2 0h3m0 0h3m2 0h3m11 0h3m1 0h3m10 0h3m-2 0h3m-2 0h3m-119 1h3m3 0h3m3 0h3m8 0h3m0 0h3m6 0h3m0 0h3m0 0h3m-2 0h3m8 0h3m-1 0h3m0 0h3m-1 0h3m4 0h3m5 0h3m3 0h3m3 0h3m-2 0h3m0 0h3m1 0h3m11 0h3m5 0h3m0 0h3m6 0h3m-128 1h3m6 0h3m-1 0h3m-1 0h3m5 0h3m8 0h3m2 0h3m0 0h3m2 0h3m9 0h3m-1 0h3m1 0h3m1 0h3m3 0h3m0 0h3m-1 0h3m6 0h3m4 0h3m0 0h3m-2 0h3m-1 0h3m-1 0h3m2 0h3m-1 0h3m1 0h3m1 0h3m-106 1h3m-1 0h3m5 0h3m1 0h3m-1 0h3m3 0h3m2 0h3m5 0h3m2 0h3m-1 0h3m3 0h3m-1 0h3m-2 0h3m5 0h3m6 0h3m6 0h3m3 0h3m4 0h3m2 0h3m1 0h3m4 0h3m-127 1h3m6 0h3m-1 0h3m-1 0h3m15 0h3m-1 0h3m2 0h3m-2 0h3m6 0h3m0 0h3m-2 0h3m-2 0h3m-1 0h3m2 0h3m2 0h3m4 0h3m-2 0h3m-2 0h3m5 0h3m-1 0h3m1 0h3m2 0h3m2 0h3m4 0h3m7 0h3m-130 1h3m23 0h3m-1 0h3m2 0h3m0 0h3m0 0h3m-1 0h3m4 0h3m0 0h3m1 0h3m-2 0h3m1 0h3m-1 0h3m6 0h3m-1 0h3m0 0h3m1 0h3m17 0h3m1 0h3m-1 0h3m-2 0h3m0 0h3m0 0h3m0 0h3m-1 0h3m-2 0h3m9 0h3m4 0h3m-160 1h3m4 0h3m27 0h3m1 0h3m-1 0h3m4 0h3m-1 0h3m5 0h3m19 0h3m2 0h3m4 0h3m4 0h3m-1 0h3m-2 0h3m11 0h3m-1 0h3m8 0h3m-1 0h3m7 0h3m0 0h3m2 0h3m-2 0h3m6 0h3m-143 1h3m0 0h3m0 0h3m20 0h3m1 0h3m-2 0h3m2 0h3m2 0h3m1 0h3m2 0h3m1 0h3m4 0h3m5 0h3m8 0h3m0 0h3m0 0h3m-1 0h3m-1 0h3m-1 0h3m1 0h3m0 0h3m11 0h3m-1 0h3m-1 0h3m-2 0h3m1 0h3m24 0h3m-151 1h3m-1 0h3m-1 0h3m6 0h3m-1 0h3m0 0h3m-1 0h3m-1 0h3m8 0h3m3 0h3m4 0h3m3 0h3m0 0h3m-2 0h3m3 0h3m-2 0h3m-1 0h3m-2 0h3m-1 0h3m4 0h3m-2 0h3m-2 0h3m3 0h3m2 0h3m7 0h3m0 0h3m3 0h3m0 0h3m7 0h3m6 0h3m-1 0h3m3 0h3m3 0h3m-138 1h3m4 0h3m4 0h3m0 0h3m1 0h3m0 0h3m-1 0h3m0 0h3m7 0h3m2 0h3m-1 0h3m2 0h3m8 0h3m6 0h3m5 0h3m1 0h3m-2 0h3m1 0h3m1 0h3m-1 0h3m0 0h3m1 0h3m2 0h3m1 0h3m-2 0h3m1 0h3m1 0h3m-142 1h3m-1 0h3m-1 0h3m9 0h3m0 0h3m-1 0h3m8 0h3m6 0h3m2 0h3m4 0h3m0 0h3m-1 0h3m2 0h3m9 0h3m-1 0h3m-1 0h3m1 0h3m-1 0h3m3 0h3m1 0h3m1 0h3m3 0h3m13 0h3m0 0h3m1 0h3m0 0h3m11 0h3m2 0h3m-143 1h3m0 0h3m6 0h3m-1 0h3m11 0h3m0 0h3m-2 0h3m5 0h3m4 0h3m1 0h3m1 0h3m-1 0h3m5 0h3m5 0h3m-2 0h3m-1 0h3m-2 0h3m2 0h3m-1 0h3m-2 0h3m8 0h3m-1 0h3m1 0h3m0 0h3m1 0h3m0 0h3m-1 0h3m0 0h3m-1 0h3m-134 1h3m7 0h3m5 0h3m-1 0h3m7 0h3m-1 0h3m2 0h3m5 0h3m-1 0h3m-1 0h3m-1 0h3m0 0h3m7 0h3m-2 0h3m5 0h3m1 0h3m1 0h3m9 0h3m6 0h3m-1 0h3m-1 0h3m3 0h3m2 0h3m-1 0h3m-1 0h3m6 0h3m-1 0h3m2 0h3m-145 1h3m0 0h3m4 0h3m5 0h3m2 0h3m1 0h3m6 0h3m7 0h3m3 0h3m4 0h3m0 0h3m2 0h3m-2 0h3m2 0h3m-1 0h3m-1 0h3m0 0h3m7 0h3m0 0h3m4 0h3m1 0h3m1 0h3m0 0h3m2 0h3m-1 0h3m-1 0h3m-2 0h3m2 0h3m3 0h3m-2 0h3m14 0h3m-148 1h3m6 0h3m11 0h3m2 0h3m5 0h3m2 0h3m8 0h3m2 0h3m7 0h3m-2 0h3m7 0h3m-1 0h3m0 0h3m-1 0h3m3 0h3m3 0h3m6 0h3m0 0h3m11 0h3m6 0h3m-2 0h3m4 0h3m-299 1h3m164 0h3m0 0h3m-2 0h3m1 0h3m1 0h3m7 0h3m-2 0h3m0 0h3m3 0h3m2 0h3m2 0h3m3 0h3m3 0h3m3 0h3m-1 0h3m8 0h3m1 0h3m0 0h3m-1 0h3m0 0h3m-1 0h3m11 0h3m5 0h3m-1 0h3m-1 0h3m-1 0h3m1 0h3m0 0h3m-120 1h3m5 0h3m0 0h3m-1 0h3m-2 0h3m-2 0h3m2 0h3m-1 0h3m0 0h3m0 0h3m-1 0h3m2 0h3m0 0h3m0 0h3m2 0h3m-2 0h3m6 0h3m0 0h3m3 0h3m10 0h3m-2 0h3m2 0h3m-2 0h3m-1 0h3m9 0h3m5 0h3m6 0h3m2 0h3m8 0h3m-147 1h3m12 0h3m-1 0h3m2 0h3m-2 0h3m3 0h3m1 0h3m12 0h3m1 0h3m1 0h3m2 0h3m0 0h3m8 0h3m-1 0h3m-2 0h3m1 0h3m1 0h3m12 0h3m-2 0h3m0 0h3m-1 0h3m0 0h3m1 0h3m-2 0h3m0 0h3m3 0h3m-1 0h3m-147 1h3m1 0h3m16 0h3m10 0h3m-1 0h3m1 0h3m-2 0h3m8 0h3m-2 0h3m4 0h3m0 0h3m-2 0h3m3 0h3m-1 0h3m0 0h3m4 0h3m-1 0h3m2 0h3m5 0h3m0 0h3m1 0h3m-1 0h3m0 0h3m5 0h3m2 0h3m-2 0h3m3 0h3m7 0h3m37 0h3m-173 1h3m6 0h3m2 0h3m-2 0h3m2 0h3m2 0h3m-1 0h3m-2 0h3m4 0h3m-1 0h3m-1 0h3m3 0h3m2 0h3m4 0h3m-2 0h3m1 0h3m3 0h3m-2 0h3m6 0h3m4 0h3m0 0h3m-1 0h3m0 0h3m3 0h3m-2 0h3m0 0h3m5 0h3m3 0h3m0 0h3m1 0h3m2 0h3m1 0h3m-1 0h3m2 0h3m-136 1h3m12 0h3m7 0h3m4 0h3m0 0h3m2 0h3m0 0h3m-2 0h3m-2 0h3m1 0h3m1 0h3m10 0h3m1 0h3m-1 0h3m-2 0h3m1 0h3m5 0h3m-1 0h3m10 0h3m1 0h3m8 0h3m-1 0h3m0 0h3m5 0h3m28 0h3m-171 1h3m-1 0h3m6 0h3m2 0h3m1 0h3m3 0h3m1 0h3m2 0h3m6 0h3m3 0h3m4 0h3m1 0h3m2 0h3m-1 0h3m0 0h3m12 0h3m1 0h3m5 0h3m7 0h3m0 0h3m1 0h3m-2 0h3m1 0h3m5 0h3m-2 0h3m-1 0h3m0 0h3m4 0h3m-132 1h3m4 0h3m4 0h3m1 0h3m3 0h3m4 0h3m1 0h3m8 0h3m4 0h3m0 0h3m11 0h3m5 0h3m0 0h3m6 0h3m11 0h3m2 0h3m-1 0h3m2 0h3m9 0h3m1 0h3m-155 1h3m1 0h3m13 0h3m1 0h3m5 0h3m0 0h3m0 0h3m2 0h3m0 0h3m5 0h3m-2 0h3m2 0h3m-2 0h3m2 0h3m2 0h3m2 0h3m0 0h3m0 0h3m-2 0h3m-1 0h3m-1 0h3m1 0h3m-2 0h3m-1 0h3m2 0h3m4 0h3m-2 0h3m-2 0h3m2 0h3m0 0h3m0 0h3m5 0h3m1 0h3m-2 0h3m4 0h3m0 0h3m0 0h3m-1 0h3m-1 0h3m-138 1h3m0 0h3m2 0h3m8 0h3m-1 0h3m-1 0h3m0 0h3m-1 0h3m2 0h3m2 0h3m1 0h3m23 0h3m0 0h3m0 0h3m3 0h3m-1 0h3m-2 0h3m17 0h3m1 0h3m2 0h3m8 0h3m-123 1h3m3 0h3m13 0h3m4 0h3m0 0h3m1 0h3m0 0h3m-2 0h3m0 0h3m0 0h3m3 0h3m3 0h3m-1 0h3m0 0h3m9 0h3m-2 0h3m9 0h3m-1 0h3m2 0h3m3 0h3m-1 0h3m3 0h3m-1 0h3m2 0h3m4 0h3m3 0h3m11 0h3m-137 1h3m0 0h3m-2 0h3m-2 0h3m0 0h3m6 0h3m10 0h3m7 0h3m-2 0h3m0 0h3m-1 0h3m3 0h3m2 0h3m3 0h3m-2 0h3m8 0h3m7 0h3m9 0h3m5 0h3m8 0h3m-2 0h3m1 0h3m-2 0h3m-130 1h3m-1 0h3m0 0h3m-1 0h3m3 0h3m1 0h3m0 0h3m-2 0h3m0 0h3m5 0h3m5 0h3m1 0h3m1 0h3m2 0h3m4 0h3m4 0h3m2 0h3m7 0h3m-2 0h3m-1 0h3m7 0h3m0 0h3m2 0h3m0 0h3m2 0h3m1 0h3m0 0h3m0 0h3m-1 0h3m6 0h3m5 0h3m-156 1h3m6 0h3m0 0h3m12 0h3m-2 0h3m-2 0h3m-1 0h3m0 0h3m2 0h3m-1 0h3m-1 0h3m4 0h3m-2 0h3m2 0h3m1 0h3m0 0h3m1 0h3m-2 0h3m0 0h3m1 0h3m1 0h3m5 0h3m-2 0h3m0 0h3m-1 0h3m4 0h3m2 0h3m2 0h3m-1 0h3m2 0h3m2 0h3m-1 0h3m-1 0h3m0 0h3m4 0h3m2 0h3m-2 0h3m3 0h3m-157 1h3m3 0h3m1 0h3m-1 0h3m5 0h3m-2 0h3m4 0h3m12 0h3m2 0h3m8 0h3m0 0h3m2 0h3m6 0h3m0 0h3m1 0h3m4 0h3m9 0h3m2 0h3m0 0h3m2 0h3m3 0h3m2 0h3m1 0h3m5 0h3m-2 0h3m-139 1h3m6 0h3m0 0h3m8 0h3m4 0h3m4 0h3m2 0h3m1 0h3m-1 0h3m0 0h3m3 0h3m-2 0h3m6 0h3m-2 0h3m-2 0h3m1 0h3m6 0h3m8 0h3m0 0h3m2 0h3m2 0h3m-2 0h3m5 0h3m-1 0h3m5 0h3m0 0h3m11 0h3m1 0h3m-146 1h3m-1 0h3m2 0h3m6 0h3m-1 0h3m0 0h3m1 0h3m2 0h3m2 0h3m-1 0h3m5 0h3m4 0h3m5 0h3m0 0h3m7 0h3m1 0h3m3 0h3m-1 0h3m-1 0h3m4 0h3m0 0h3m-1 0h3m-2 0h3m3 0h3m0 0h3m1 0h3m-1 0h3m2 0h3m5 0h3m-1 0h3m5 0h3m0 0h3m6 0h3m-147 1h3m1 0h3m6 0h3m2 0h3m-1 0h3m0 0h3m1 0h3m-2 0h3m5 0h3m-2 0h3m-1 0h3m0 0h3m1 0h3m3 0h3m2 0h3m6 0h3m-1 0h3m3 0h3m6 0h3m9 0h3m14 0h3m0 0h3m-2 0h3m2 0h3m0 0h3m-2 0h3m3 0h3m0 0h3m12 0h3m2 0h3m-164 1h3m0 0h3m4 0h3m2 0h3m1 0h3m2 0h3m0 0h3m-1 0h3m1 0h3m4 0h3m-1 0h3m8 0h3m1 0h3m1 0h3m-1 0h3m2 0h3m1 0h3m-1 0h3m1 0h3m4 0h3m-1 0h3m1 0h3m1 0h3m15 0h3m1 0h3m-2 0h3m6 0h3m1 0h3m3 0h3m2 0h3m0 0h3m-184 1h3m30 0h3m2 0h3m2 0h3m1 0h3m-2 0h3m1 0h3m-2 0h3m2 0h3m2 0h3m9 0h3m6 0h3m5 0h3m7 0h3m1 0h3m3 0h3m0 0h3m-2 0h3m4 0h3m2 0h3m1 0h3m-1 0h3m-2 0h3m-2 0h3m-2 0h3m2 0h3m-1 0h3m17 0h3m0 0h3m3 0h3m5 0h3m-147 1h3m3 0h3m12 0h3m-2 0h3m3 0h3m1 0h3m2 0h3m-1 0h3m-1 0h3m-1 0h3m-1 0h3m3 0h3m8 0h3m-2 0h3m5 0h3m5 0h3m0 0h3m3 0h3m2 0h3m-1 0h3m4 0h3m-2 0h3m0 0h3m-2 0h3m2 0h3m1 0h3m0 0h3m0 0h3m8 0h3m0 0h3m2 0h3m5 0h3m-151 1h3m4 0h3m-1 0h3m-1 0h3m3 0h3m20 0h3m4 0h3m5 0h3m-2 0h3m-2 0h3m6 0h3m-1 0h3m7 0h3m1 0h3m2 0h3m-2 0h3m6 0h3m6 0h3m-1 0h3m1 0h3m3 0h3m1 0h3m2 0h3m-1 0h3m-1 0h3m4 0h3m-136 1h3m3 0h3m-1 0h3m1 0h3m10 0h3m2 0h3m-1 0h3m-2 0h3m2 0h3m3 0h3m0 0h3m-1 0h3m0 0h3m0 0h3m-1 0h3m1 0h3m1 0h3m-1 0h3m0 0h3m1 0h3m9 0h3m-1 0h3m2 0h3m10 0h3m-1 0h3m7 0h3m-2 0h3m7 0h3m-1 0h3m10 0h3m3 0h3m-184 1h3m12 0h3m4 0h3m-1 0h3m0 0h3m1 0h3m2 0h3m-2 0h3m0 0h3m1 0h3m0 0h3m-2 0h3m2 0h3m-1 0h3m-1 0h3m1 0h3m9 0h3m-2 0h3m0 0h3m9 0h3m1 0h3m2 0h3m5 0h3m2 0h3m0 0h3m7 0h3m-1 0h3m-2 0h3m0 0h3m1 0h3m1 0h3m1 0h3m2 0h3m1 0h3m-2 0h3m0 0h3m1 0h3m2 0h3m-1 0h3m-147 1h3m1 0h3m11 0h3m2 0h3m3 0h3m0 0h3m1 0h3m-1 0h3m1 0h3m2 0h3m1 0h3m4 0h3m-1 0h3m2 0h3m1 0h3m7 0h3m12 0h3m1 0h3m-1 0h3m10 0h3m7 0h3m5 0h3m10 0h3m15 0h3m-195 1h3m0 0h3m2 0h3m20 0h3m2 0h3m-1 0h3m1 0h3m-2 0h3m0 0h3m2 0h3m7 0h3m-2 0h3m-1 0h3m12 0h3m3 0h3m0 0h3m-2 0h3m8 0h3m1 0h3m-2 0h3m-1 0h3m3 0h3m3 0h3m-1 0h3m8 0h3m3 0h3m0 0h3m4 0h3m0 0h3m-2 0h3m-2 0h3m1 0h3m-129 1h3m14 0h3m-1 0h3m2 0h3m12 0h3m-1 0h3m3 0h3m-1 0h3m0 0h3m-2 0h3m0 0h3m9 0h3m4 0h3m1 0h3m2 0h3m5 0h3m2 0h3m0 0h3m9 0h3m2 0h3m-2 0h3m15 0h3m15 0h3m-277 1h3m9 0h3m74 0h3m22 0h3m13 0h3m2 0h3m4 0h3m2 0h3m3 0h3m-2 0h3m-2 0h3m2 0h3m-2 0h3m0 0h3m-2 0h3m7 0h3m-1 0h3m3 0h3m-1 0h3m5 0h3m-1 0h3m3 0h3m0 0h3m-2 0h3m0 0h3m0 0h3m1 0h3m9 0h3m-2 0h3m3 0h3m2 0h3m1 0h3m-2 0h3m-1 0h3m-190 1h3m40 0h3m0 0h3m6 0h3m1 0h3m1 0h3m2 0h3m0 0h3m1 0h3m2 0h3m-1 0h3m0 0h3m2 0h3m11 0h3m-1 0h3m-1 0h3m-1 0h3m8 0h3m6 0h3m-1 0h3m5 0h3m0 0h3m-2 0h3m8 0h3m3 0h3m0 0h3m1 0h3m0 0h3m-1 0h3m2 0h3m0 0h3m6 0h3m0 0h3m-262 1h3m15 0h3m78 0h3m-1 0h3m-2 0h3m8 0h3m3 0h3m4 0h3m2 0h3m-2 0h3m10 0h3m4 0h3m2 0h3m0 0h3m-1 0h3m0 0h3m9 0h3m-1 0h3m8 0h3m1 0h3m-2 0h3m2 0h3m-2 0h3m-1 0h3m8 0h3m-1 0h3m-1 0h3m1 0h3m-1 0h3m0 0h3m5 0h3m-1 0h3m0 0h3m0 0h3m6 0h3m6 0h3m-2 0h3m-244 1h3m91 0h3m-2 0h3m0 0h3m0 0h3m4 0h3m-1 0h3m0 0h3m-2 0h3m0 0h3m6 0h3m-2 0h3m-1 0h3m3 0h3m-2 0h3m4 0h3m5 0h3m-1 0h3m-1 0h3m-2 0h3m1 0h3m0 0h3m2 0h3m0 0h3m3 0h3m6 0h3m0 0h3m4 0h3m8 0h3m6 0h3m3 0h3m1 0h3m9 0h3m2 0h3m-250 1h3m2 0h3m90 0h3m6 0h3m2 0h3m6 0h3m-1 0h3m1 0h3m1 0h3m-1 0h3m0 0h3m5 0h3m2 0h3m1 0h3m9 0h3m1 0h3m-1 0h3m0 0h3m10 0h3m5 0h3m-2 0h3m4 0h3m0 0h3m-2 0h3m-2 0h3m4 0h3m5 0h3m3 0h3m0 0h3m-1 0h3m-144 1h3m13 0h3m1 0h3m-1 0h3m0 0h3m-2 0h3m3 0h3m7 0h3m2 0h3m-2 0h3m1 0h3m3 0h3m0 0h3m4 0h3m-1 0h3m2 0h3m2 0h3m8 0h3m4 0h3m-2 0h3m3 0h3m0 0h3m0 0h3m0 0h3m2 0h3m-1 0h3m1 0h3m6 0h3m2 0h3m0 0h3m-1 0h3m1 0h3m-1 0h3m6 0h3m-1 0h3m-280 1h3m12 0h3m11 0h3m0 0h3m77 0h3m9 0h3m1 0h3m8 0h3m9 0h3m-1 0h3m-1 0h3m2 0h3m1 0h3m-1 0h3m-1 0h3m1 0h3m3 0h3m-1 0h3m-1 0h3m6 0h3m7 0h3m-2 0h3m-1 0h3m-1 0h3m3 0h3m1 0h3m0 0h3m12 0h3m-1 0h3m-2 0h3m15 0h3m11 0h3m-249 1h3m-1 0h3m86 0h3m7 0h3m-1 0h3m-2 0h3m-1 0h3m0 0h3m-2 0h3m2 0h3m0 0h3m4 0h3m-1 0h3m-2 0h3m6 0h3m-1 0h3m1 0h3m1 0h3m0 0h3m-1 0h3m-1 0h3m0 0h3m2 0h3m0 0h3m-2 0h3m-1 0h3m0 0h3m5 0h3m-1 0h3m1 0h3m1 0h3m-1 0h3m2 0h3m3 0h3m0 0h3m-1 0h3m6 0h3m-1 0h3m0 0h3m-1 0h3m-1 0h3m1 0h3m2 0h3m1 0h3m0 0h3m-1 0h3m15 0h3m-295 1h3m102 0h3m14 0h3m2 0h3m-1 0h3m2 0h3m0 0h3m12 0h3m-1 0h3m-1 0h3m2 0h3m1 0h3m-1 0h3m0 0h3m4 0h3m1 0h3m2 0h3m2 0h3m1 0h3m0 0h3m0 0h3m1 0h3m-2 0h3m0 0h3m-2 0h3m10 0h3m-2 0h3m0 0h3m0 0h3m5 0h3m5 0h3m6 0h3m-2 0h3m5 0h3m0 0h3m-265 1h3m17 0h3m16 0h3m73 0h3m0 0h3m6 0h3m3 0h3m6 0h3m-2 0h3m7 0h3m2 0h3m6 0h3m8 0h3m3 0h3m0 0h3m-1 0h3m5 0h3m-1 0h3m1 0h3m4 0h3m1 0h3m-2 0h3m12 0h3m1 0h3m1 0h3m2 0h3m-2 0h3m6 0h3m13 0h3m-232 1h3m1 0h3m4 0h3m71 0h3m1 0h3m6 0h3m-2 0h3m3 0h3m4 0h3m-1 0h3m-2 0h3m2 0h3m-2 0h3m5 0h3m0 0h3m2 0h3m10 0h3m-2 0h3m12 0h3m0 0h3m0 0h3m2 0h3m0 0h3m1 0h3m0 0h3m7 0h3m2 0h3m0 0h3m-1 0h3m3 0h3m3 0h3m-1 0h3m-2 0h3m9 0h3m-255 1h3m3 0h3m3 0h3m60 0h3m27 0h3m0 0h3m0 0h3m7 0h3m2 0h3m-1 0h3m4 0h3m1 0h3m0 0h3m17 0h3m-2 0h3m-1 0h3m-2 0h3m5 0h3m3 0h3m1 0h3m-2 0h3m2 0h3m-1 0h3m2 0h3m-2 0h3m3 0h3m-1 0h3m4 0h3m-1 0h3m0 0h3m9 0h3m0 0h3m0 0h3m-259 1h3m17 0h3m1 0h3m-1 0h3m24 0h3m34 0h3m3 0h3m10 0h3m7 0h3m0 0h3m2 0h3m1 0h3m-2 0h3m2 0h3m0 0h3m4 0h3m2 0h3m3 0h3m3 0h3m-1 0h3m0 0h3m0 0h3m4 0h3m0 0h3m3 0h3m0 0h3m1 0h3m-2 0h3m7 0h3m13 0h3m6 0h3m-1 0h3m10 0h3m4 0h3m2 0h3m8 0h3m-251 1h3m12 0h3m-1 0h3m5 0h3m-1 0h3m54 0h3m2 0h3m21 0h3m-1 0h3m0 0h3m-1 0h3m1 0h3m4 0h3m2 0h3m0 0h3m6 0h3m19 0h3m-2 0h3m1 0h3m6 0h3m6 0h3m3 0h3m0 0h3m9 0h3m11 0h3m3 0h3m-257 1h3m5 0h3m4 0h3m13 0h3m7 0h3m-1 0h3m70 0h3m1 0h3m-1 0h3m4 0h3m7 0h3m7 0h3m0 0h3m-1 0h3m2 0h3m-1 0h3m-1 0h3m-1 0h3m2 0h3m-2 0h3m1 0h3m1 0h3m2 0h3m0 0h3m-2 0h3m4 0h3m0 0h3m-1 0h3m-2 0h3m0 0h3m0 0h3m0 0h3m-2 0h3m11 0h3m-2 0h3m-2 0h3m5 0h3m-1 0h3m1 0h3m-1 0h3m4 0h3m4 0h3m1 0h3m0 0h3m-272 1h3m27 0h3m24 0h3m26 0h3m13 0h3m2 0h3m0 0h3m0 0h3m1 0h3m11 0h3m1 0h3m-2 0h3m0 0h3m4 0h3m-1 0h3m2 0h3m5 0h3m0 0h3m0 0h3m1 0h3m-2 0h3m4 0h3m-1 0h3m1 0h3m-1 0h3m0 0h3m1 0h3m0 0h3m2 0h3m-2 0h3m-2 0h3m4 0h3m-1 0h3m2 0h3m3 0h3m9 0h3m2 0h3m-1 0h3m-1 0h3m23 0h3m-261 1h3m4 0h3m0 0h3m14 0h3m2 0h3m62 0h3m15 0h3m2 0h3m4 0h3m0 0h3m4 0h3m-1 0h3m-1 0h3m-1 0h3m-1 0h3m6 0h3m9 0h3m26 0h3m6 0h3m0 0h3m1 0h3m-2 0h3m-2 0h3m-2 0h3m4 0h3m2 0h3m9 0h3m-2 0h3m0 0h3m22 0h3m-283 1h3m33 0h3m14 0h3m40 0h3m1 0h3m11 0h3m4 0h3m0 0h3m3 0h3m0 0h3m-1 0h3m0 0h3m2 0h3m-1 0h3m-1 0h3m12 0h3m0 0h3m5 0h3m7 0h3m-1 0h3m-1 0h3m-1 0h3m5 0h3m-1 0h3m0 0h3m-1 0h3m0 0h3m1 0h3m16 0h3m0 0h3m6 0h3m-2 0h3m3 0h3m5 0h3m10 0h3m1 0h3m-252 1h3m-2 0h3m8 0h3m5 0h3m51 0h3m2 0h3m1 0h3m-2 0h3m0 0h3m9 0h3m4 0h3m7 0h3m3 0h3m-1 0h3m-2 0h3m6 0h3m-1 0h3m-2 0h3m4 0h3m3 0h3m-1 0h3m8 0h3m-1 0h3m0 0h3m-1 0h3m2 0h3m-2 0h3m5 0h3m0 0h3m3 0h3m0 0h3m-1 0h3m10 0h3m3 0h3m2 0h3m0 0h3m3 0h3m-1 0h3m-256 1h3m5 0h3m2 0h3m-1 0h3m0 0h3m3 0h3m4 0h3m0 0h3m75 0h3m-1 0h3m6 0h3m5 0h3m0 0h3m-1 0h3m-2 0h3m0 0h3m4 0h3m-1 0h3m5 0h3m0 0h3m2 0h3m3 0h3m3 0h3m-1 0h3m3 0h3m-2 0h3m5 0h3m1 0h3m-1 0h3m-2 0h3m5 0h3m1 0h3m1 0h3m6 0h3m4 0h3m2 0h3m0 0h3m9 0h3m2 0h3m3 0h3m-268 1h3m7 0h3m2 0h3m6 0h3m-1 0h3m0 0h3m8 0h3m-2 0h3m3 0h3m49 0h3m-1 0h3m-1 0h3m3 0h3m2 0h3m2 0h3m-2 0h3m-1 0h3m7 0h3m3 0h3m4 0h3m6 0h3m4 0h3m0 0h3m2 0h3m1 0h3m4 0h3m0 0h3m2 0h3m0 0h3m-1 0h3m12 0h3m1 0h3m0 0h3m7 0h3m2 0h3m-2 0h3m8 0h3m-2 0h3m0 0h3m0 0h3m2 0h3m-1 0h3m-1 0h3m-256 1h3m6 0h3m1 0h3m3 0h3m6 0h3m4 0h3m1 0h3m61 0h3m6 0h3m8 0h3m0 0h3m7 0h3m-1 0h3m6 0h3m-1 0h3m13 0h3m3 0h3m-2 0h3m-2 0h3m1 0h3m2 0h3m3 0h3m2 0h3m-1 0h3m-2 0h3m-2 0h3m0 0h3m-1 0h3m3 0h3m1 0h3m-1 0h3m1 0h3m2 0h3m13 0h3m0 0h3m3 0h3m-259 1h3m4 0h3m10 0h3m1 0h3m10 0h3m19 0h3m46 0h3m0 0h3m10 0h3m1 0h3m1 0h3m1 0h3m0 0h3m0 0h3m6 0h3m-1 0h3m4 0h3m-2 0h3m-2 0h3m2 0h3m-2 0h3m-1 0h3m20 0h3m2 0h3m11 0h3m4 0h3m1 0h3m1 0h3m1 0h3m2 0h3m-2 0h3m21 0h3m-263 1h3m19 0h3m1 0h3m-1 0h3m0 0h3m0 0h3m-2 0h3m1 0h3m3 0h3m-1 0h3m1 0h3m57 0h3m0 0h3m4 0h3m8 0h3m2 0h3m9 0h3m1 0h3m-1 0h3m-2 0h3m6 0h3m-1 0h3m-1 0h3m1 0h3m2 0h3m3 0h3m0 0h3m-1 0h3m-1 0h3m11 0h3m0 0h3m12 0h3m5 0h3m1 0h3m8 0h3m0 0h3m11 0h3m-261 1h3m5 0h3m9 0h3m-2 0h3m9 0h3m65 0h3m9 0h3m1 0h3m0 0h3m-2 0h3m1 0h3m2 0h3m7 0h3m-2 0h3m-1 0h3m6 0h3m0 0h3m0 0h3m3 0h3m-1 0h3m2 0h3m0 0h3m-2 0h3m-1 0h3m5 0h3m-1 0h3m0 0h3m2 0h3m-2 0h3m0 0h3m-2 0h3m1 0h3m4 0h3m-2 0h3m1 0h3m-2 0h3m0 0h3m6 0h3m2 0h3m0 0h3m-1 0h3m2 0h3m0 0h3m-268 1h3m28 0h3m-2 0h3m-2 0h3m0 0h3m4 0h3m-2 0h3m1 0h3m-1 0h3m-1 0h3m59 0h3m-1 0h3m1 0h3m2 0h3m0 0h3m0 0h3m3 0h3m0 0h3m3 0h3m-1 0h3m4 0h3m2 0h3m0 0h3m0 0h3m9 0h3m0 0h3m6 0h3m4 0h3m1 0h3m2 0h3m1 0h3m-2 0h3m5 0h3m0 0h3m-1 0h3m-2 0h3m1 0h3m0 0h3m3 0h3m2 0h3m1 0h3m-2 0h3m9 0h3m-262 1h3m16 0h3m0 0h3m-1 0h3m11 0h3m-1 0h3m2 0h3m-2 0h3m1 0h3m2 0h3m14 0h3m37 0h3m7 0h3m0 0h3m15 0h3m4 0h3m-2 0h3m0 0h3m1 0h3m-1 0h3m-1 0h3m2 0h3m0 0h3m-1 0h3m1 0h3m1 0h3m0 0h3m0 0h3m-2 0h3m2 0h3m0 0h3m4 0h3m3 0h3m4 0h3m3 0h3m2 0h3m0 0h3m7 0h3m-1 0h3m6 0h3m-1 0h3m-1 0h3m1 0h3m-256 1h3m2 0h3m5 0h3m10 0h3m-1 0h3m18 0h3m50 0h3m5 0h3m2 0h3m0 0h3m-1 0h3m-1 0h3m-2 0h3m6 0h3m-1 0h3m11 0h3m6 0h3m4 0h3m2 0h3m4 0h3m2 0h3m5 0h3m5 0h3m-1 0h3m0 0h3m3 0h3m0 0h3m-1 0h3m2 0h3m1 0h3m1 0h3m2 0h3m-1 0h3m-1 0h3m1 0h3m-2 0h3m9 0h3m1 0h3m-265 1h3m9 0h3m13 0h3m-1 0h3m2 0h3m6 0h3m-2 0h3m-1 0h3m2 0h3m3 0h3m-2 0h3m-1 0h3m44 0h3m21 0h3m0 0h3m1 0h3m4 0h3m-2 0h3m0 0h3m-2 0h3m3 0h3m3 0h3m-1 0h3m-1 0h3m-1 0h3m-2 0h3m-2 0h3m10 0h3m0 0h3m19 0h3m-2 0h3m-1 0h3m7 0h3m-2 0h3m8 0h3m7 0h3m1 0h3m-1 0h3m1 0h3m7 0h3m4 0h3m-259 1h3m-2 0h3m1 0h3m10 0h3m3 0h3m1 0h3m5 0h3m57 0h3m2 0h3m0 0h3m1 0h3m3 0h3m-2 0h3m1 0h3m2 0h3m4 0h3m2 0h3m1 0h3m-2 0h3m-1 0h3m0 0h3m-1 0h3m7 0h3m1 0h3m-2 0h3m0 0h3m3 0h3m-2 0h3m0 0h3m0 0h3m-1 0h3m14 0h3m-2 0h3m-1 0h3m-1 0h3m6 0h3m4 0h3m-1 0h3m0 0h3m-2 0h3m0 0h3m0 0h3m0 0h3m0 0h3m1 0h3m0 0h3m-260 1h3m15 0h3m1 0h3m2 0h3m-2 0h3m-1 0h3m1 0h3m4 0h3m11 0h3m0 0h3m8 0h3m32 0h3m1 0h3m-1 0h3m11 0h3m13 0h3m-1 0h3m14 0h3m-1 0h3m1 0h3m-1 0h3m2 0h3m2 0h3m5 0h3m8 0h3m-2 0h3m-2 0h3m-1 0h3m-1 0h3m-2 0h3m-2 0h3m2 0h3m6 0h3m-1 0h3m1 0h3m1 0h3m1 0h3m6 0h3m1 0h3m1 0h3m11 0h3m-260 1h3m15 0h3m9 0h3m-2 0h3m22 0h3m5 0h3m35 0h3m1 0h3m0 0h3m-2 0h3m-1 0h3m1 0h3m-1 0h3m3 0h3m2 0h3m-2 0h3m-2 0h3m0 0h3m4 0h3m5 0h3m2 0h3m-1 0h3m0 0h3m-2 0h3m2 0h3m0 0h3m-2 0h3m0 0h3m0 0h3m-2 0h3m3 0h3m3 0h3m7 0h3m8 0h3m0 0h3m2 0h3m0 0h3m2 0h3m1 0h3m-1 0h3m4 0h3m3 0h3m9 0h3m8 0h3m-275 1h3m4 0h3m2 0h3m6 0h3m1 0h3m1 0h3m9 0h3m-2 0h3m2 0h3m-1 0h3m0 0h3m-2 0h3m4 0h3m13 0h3m1 0h3m23 0h3m7 0h3m7 0h3m12 0h3m-1 0h3m-1 0h3m-2 0h3m1 0h3m-1 0h3m-1 0h3m-1 0h3m24 0h3m3 0h3m-2 0h3m-1 0h3m4 0h3m6 0h3m-1 0h3m0 0h3m15 0h3m5 0h3m0 0h3m1 0h3m1 0h3m2 0h3m-251 1h3m9 0h3m2 0h3m10 0h3m6 0h3m5 0h3m0 0h3m1 0h3m3 0h3m22 0h3m28 0h3m-1 0h3m-1 0h3m13 0h3m1 0h3m0 0h3m-2 0h3m2 0h3m1 0h3m2 0h3m4 0h3m-2 0h3m0 0h3m2 0h3m12 0h3m-2 0h3m-1 0h3m0 0h3m-2 0h3m-1 0h3m-1 0h3m2 0h3m3 0h3m1 0h3m-1 0h3m0 0h3m5 0h3m0 0h3m1 0h3m2 0h3m1 0h3m4 0h3m-259 1h3m-1 0h3m2 0h3m4 0h3m-2 0h3m0 0h3m4 0h3m4 0h3m-1 0h3m0 0h3m-1 0h3m5 0h3m-1 0h3m5 0h3m2 0h3m32 0h3m0 0h3m-1 0h3m3 0h3m-2 0h3m0 0h3m-1 0h3m0 0h3m-2 0h3m-2 0h3m6 0h3m-1 0h3m-2 0h3m1 0h3m0 0h3m-2 0h3m10 0h3m2 0h3m-1 0h3m-2 0h3m3 0h3m-2 0h3m0 0h3m3 0h3m-1 0h3m-1 0h3m-1 0h3m-1 0h3m21 0h3m-2 0h3m-1 0h3m-2 0h3m4 0h3m4 0h3m5 0h3m-1 0h3m13 0h3m-2 0h3m1 0h3m-265 1h3m14 0h3m13 0h3m-2 0h3m0 0h3m1 0h3m2 0h3m0 0h3m-2 0h3m-1 0h3m51 0h3m8 0h3m-2 0h3m2 0h3m6 0h3m3 0h3m-2 0h3m0 0h3m1 0h3m2 0h3m-1 0h3m5 0h3m-1 0h3m0 0h3m1 0h3m3 0h3m-1 0h3m2 0h3m4 0h3m-2 0h3m0 0h3m-2 0h3m0 0h3m1 0h3m0 0h3m-2 0h3m-1 0h3m8 0h3m-1 0h3m-1 0h3m-1 0h3m0 0h3m-1 0h3m-1 0h3m-1 0h3m2 0h3m-1 0h3m9 0h3m10 0h3m-270 1h3m16 0h3m3 0h3m-2 0h3m0 0h3m-2 0h3m11 0h3m3 0h3m4 0h3m9 0h3m7 0h3m27 0h3m2 0h3m-1 0h3m6 0h3m-2 0h3m0 0h3m14 0h3m-1 0h3m0 0h3m6 0h3m5 0h3m11 0h3m4 0h3m9 0h3m2 0h3m-1 0h3m0 0h3m-1 0h3m28 0h3m-2 0h3m-1 0h3m6 0h3m3 0h3m-261 1h3m5 0h3m7 0h3m0 0h3m-2 0h3m6 0h3m-1 0h3m-1 0h3m0 0h3m9 0h3m3 0h3m8 0h3m21 0h3m16 0h3m4 0h3m0 0h3m2 0h3m-1 0h3m-1 0h3m-1 0h3m-2 0h3m1 0h3m-1 0h3m1 0h3m-1 0h3m2 0h3m1 0h3m-1 0h3m-1 0h3m0 0h3m-2 0h3m2 0h3m0 0h3m-2 0h3m1 0h3m2 0h3m0 0h3m5 0h3m0 0h3m-2 0h3m15 0h3m1 0h3m-1 0h3m-2 0h3m-2 0h3m1 0h3m-1 0h3m-2 0h3m0 0h3m-2 0h3m0 0h3m-1 0h3m-2 0h3m3 0h3m0 0h3m0 0h3m0 0h3m1 0h3m5 0h3m-270 1h3m7 0h3m0 0h3m4 0h3m5 0h3m0 0h3m-2 0h3m3 0h3m3 0h3m3 0h3m7 0h3m1 0h3m12 0h3m34 0h3m7 0h3m8 0h3m5 0h3m-2 0h3m2 0h3m-1 0h3m-2 0h3m0 0h3m9 0h3m4 0h3m13 0h3m0 0h3m0 0h3m4 0h3m7 0h3m23 0h3m3 0h3m0 0h3m10 0h3m-262 1h3m10 0h3m6 0h3m5 0h3m-1 0h3m1 0h3m-2 0h3m1 0h3m1 0h3m3 0h3m25 0h3m20 0h3m1 0h3m-1 0h3m1 0h3m5 0h3m3 0h3m16 0h3m6 0h3m-1 0h3m-1 0h3m-1 0h3m1 0h3m3 0h3m7 0h3m1 0h3m0 0h3m0 0h3m2 0h3m0 0h3m1 0h3m-1 0h3m16 0h3m-1 0h3m-1 0h3m-2 0h3m2 0h3m-2 0h3m2 0h3m2 0h3m7 0h3m-248 1h3m5 0h3m0 0h3m2 0h3m2 0h3m7 0h3m-1 0h3m0 0h3m-1 0h3m2 0h3m-2 0h3m39 0h3m10 0h3m4 0h3m1 0h3m1 0h3m-2 0h3m0 0h3m-2 0h3m0 0h3m0 0h3m-1 0h3m-1 0h3m-1 0h3m-2 0h3m1 0h3m5 0h3m7 0h3m0 0h3m-2 0h3m0 0h3m-1 0h3m-1 0h3m-2 0h3m4 0h3m2 0h3m4 0h3m4 0h3m1 0h3m-2 0h3m3 0h3m0 0h3m-1 0h3m1 0h3m3 0h3m9 0h3m-1 0h3m2 0h3m1 0h3m-2 0h3m-246 1h3m0 0h3m1 0h3m5 0h3m3 0h3m4 0h3m-2 0h3m6 0h3m1 0h3m6 0h3m24 0h3m5 0h3m7 0h3m0 0h3m1 0h3m5 0h3m9 0h3m1 0h3m5 0h3m2 0h3m-1 0h3m1 0h3m0 0h3m2 0h3m3 0h3m4 0h3m1 0h3m-2 0h3m-1 0h3m0 0h3m-2 0h3m8 0h3m-2 0h3m0 0h3m1 0h3m0 0h3m4 0h3m1 0h3m0 0h3m-1 0h3m-1 0h3m1 0h3m1 0h3m-1 0h3m-1 0h3m-2 0h3m20 0h3m-257 1h3m1 0h3m8 0h3m1 0h3m0 0h3m0 0h3m0 0h3m-2 0h3m0 0h3m1 0h3m8 0h3m2 0h3m29 0h3m1 0h3m2 0h3m-2 0h3m6 0h3m0 0h3m-2 0h3m-2 0h3m0 0h3m1 0h3m0 0h3m2 0h3m-2 0h3m-1 0h3m-2 0h3m-2 0h3m4 0h3m-2 0h3m-1 0h3m5 0h3m-1 0h3m1 0h3m1 0h3m0 0h3m-2 0h3m5 0h3m12 0h3m11 0h3m2 0h3m1 0h3m-1 0h3m4 0h3m2 0h3m14 0h3m1 0h3m1 0h3m1 0h3m-254 1h3m0 0h3m3 0h3m14 0h3m-1 0h3m6 0h3m7 0h3m11 0h3m26 0h3m7 0h3m33 0h3m4 0h3m-1 0h3m3 0h3m1 0h3m6 0h3m0 0h3m-2 0h3m-1 0h3m0 0h3m0 0h3m-2 0h3m2 0h3m1 0h3m-1 0h3m1 0h3m-2 0h3m5 0h3m1 0h3m0 0h3m0 0h3m5 0h3m12 0h3m2 0h3m4 0h3m7 0h3m-247 1h3m-2 0h3m2 0h3m-1 0h3m0 0h3m4 0h3m3 0h3m6 0h3m1 0h3m0 0h3m4 0h3m0 0h3m11 0h3m2 0h3m14 0h3m2 0h3m-2 0h3m0 0h3m4 0h3m-2 0h3m-2 0h3m3 0h3m-2 0h3m8 0h3m2 0h3m3 0h3m3 0h3m6 0h3m4 0h3m2 0h3m5 0h3m0 0h3m4 0h3m2 0h3m0 0h3m0 0h3m0 0h3m8 0h3m-2 0h3m3 0h3m1 0h3m1 0h3m1 0h3m5 0h3m-251 1h3m4 0h3m0 0h3m1 0h3m-1 0h3m1 0h3m7 0h3m0 0h3m-1 0h3m6 0h3m0 0h3m3 0h3m0 0h3m9 0h3m28 0h3m3 0h3m-1 0h3m7 0h3m5 0h3m5 0h3m0 0h3m-1 0h3m2 0h3m2 0h3m1 0h3m-1 0h3m4 0h3m-1 0h3m2 0h3m-2 0h3m3 0h3m3 0h3m0 0h3m4 0h3m4 0h3m-2 0h3m9 0h3m5 0h3m2 0h3m4 0h3m1 0h3m0 0h3m-246 1h3m15 0h3m7 0h3m2 0h3m5 0h3m13 0h3m21 0h3m6 0h3m25 0h3m-2 0h3m0 0h3m-1 0h3m4 0h3m1 0h3m-1 0h3m1 0h3m-1 0h3m-1 0h3m4 0h3m0 0h3m-1 0h3m1 0h3m0 0h3m2 0h3m6 0h3m8 0h3m7 0h3m3 0h3m0 0h3m0 0h3m-2 0h3m5 0h3m4 0h3m1 0h3m1 0h3m13 0h3m-248 1h3m-1 0h3m3 0h3m2 0h3m0 0h3m-1 0h3m0 0h3m6 0h3m10 0h3m0 0h3m6 0h3m-1 0h3m1 0h3m30 0h3m19 0h3m1 0h3m0 0h3m2 0h3m1 0h3m6 0h3m-1 0h3m1 0h3m3 0h3m0 0h3m-2 0h3m6 0h3m1 0h3m5 0h3m-1 0h3m5 0h3m-2 0h3m-1 0h3m0 0h3m1 0h3m2 0h3m0 0h3m9 0h3m-2 0h3m10 0h3m-2 0h3m3 0h3m-2 0h3m-1 0h3m-1 0h3m7 0h3m-264 1h3m12 0h3m3 0h3m-1 0h3m3 0h3m-1 0h3m5 0h3m0 0h3m1 0h3m-1 0h3m4 0h3m3 0h3m3 0h3m14 0h3m15 0h3m-2 0h3m4 0h3m-2 0h3m-2 0h3m0 0h3m-2 0h3m1 0h3m4 0h3m-1 0h3m2 0h3m1 0h3m3 0h3m4 0h3m1 0h3m5 0h3m2 0h3m-2 0h3m1 0h3m1 0h3m0 0h3m-2 0h3m4 0h3m0 0h3m-2 0h3m4 0h3m7 0h3m-1 0h3m3 0h3m-1 0h3m-2 0h3m7 0h3m0 0h3m4 0h3m-1 0h3m-2 0h3m-240 1h3m17 0h3m-2 0h3m4 0h3m-1 0h3m-2 0h3m7 0h3m-1 0h3m0 0h3m-2 0h3m2 0h3m-2 0h3m53 0h3m-1 0h3m4 0h3m1 0h3m1 0h3m-2 0h3m1 0h3m-2 0h3m-1 0h3m3 0h3m-1 0h3m6 0h3m0 0h3m3 0h3m1 0h3m6 0h3m-2 0h3m-1 0h3m2 0h3m-1 0h3m2 0h3m1 0h3m1 0h3m1 0h3m-1 0h3m3 0h3m-1 0h3m5 0h3m1 0h3m3 0h3m2 0h3m1 0h3m2 0h3m-242 1h3m0 0h3m4 0h3m-1 0h3m-1 0h3m27 0h3m0 0h3m-2 0h3m1 0h3m1 0h3m-1 0h3m9 0h3m4 0h3m13 0h3m4 0h3m-2 0h3m4 0h3m-2 0h3m13 0h3m5 0h3m1 0h3m4 0h3m2 0h3m1 0h3m8 0h3m-2 0h3m-1 0h3m7 0h3m0 0h3m-1 0h3m0 0h3m4 0h3m1 0h3m0 0h3m3 0h3m5 0h3m0 0h3m1 0h3m10 0h3m-245 1h3m1 0h3m7 0h3m1 0h3m17 0h3m0 0h3m-2 0h3m-1 0h3m1 0h3m0 0h3m-1 0h3m5 0h3m4 0h3m3 0h3m6 0h3m15 0h3m4 0h3m4 0h3m-1 0h3m1 0h3m-1 0h3m-1 0h3m0 0h3m0 0h3m4 0h3m-1 0h3m6 0h3m-1 0h3m6 0h3m0 0h3m-1 0h3m-1 0h3m-1 0h3m-1 0h3m0 0h3m0 0h3m-1 0h3m1 0h3m1 0h3m8 0h3m0 0h3m0 0h3m16 0h3m5 0h3m12 0h3m4 0h3m-246 1h3m5 0h3m0 0h3m2 0h3m-2 0h3m-2 0h3m1 0h3m-2 0h3m-1 0h3m-2 0h3m5 0h3m4 0h3m-1 0h3m0 0h3m-2 0h3m5 0h3m5 0h3m-2 0h3m-1 0h3m8 0h3m9 0h3m5 0h3m1 0h3m-1 0h3m-2 0h3m7 0h3m0 0h3m-1 0h3m-2 0h3m4 0h3m4 0h3m7 0h3m-1 0h3m-1 0h3m-1 0h3m10 0h3m-1 0h3m2 0h3m1 0h3m3 0h3m8 0h3m-2 0h3m0 0h3m3 0h3m1 0h3m0 0h3m0 0h3m-2 0h3m1 0h3m-1 0h3m-2 0h3m4 0h3m3 0h3m-1 0h3m3 0h3m-1 0h3m15 0h3m-272 1h3m5 0h3m4 0h3m4 0h3m13 0h3m0 0h3m4 0h3m2 0h3m1 0h3m-1 0h3m0 0h3m8 0h3m33 0h3m1 0h3m-2 0h3m1 0h3m16 0h3m-2 0h3m7 0h3m-1 0h3m-2 0h3m0 0h3m3 0h3m2 0h3m-2 0h3m0 0h3m-1 0h3m3 0h3m-1 0h3m4 0h3m1 0h3m0 0h3m-1 0h3m0 0h3m3 0h3m2 0h3m3 0h3m5 0h3m0 0h3m9 0h3m9 0h3m-240 1h3m-1 0h3m9 0h3m1 0h3m-2 0h3m-1 0h3m4 0h3m0 0h3m0 0h3m4 0h3m16 0h3m27 0h3m4 0h3m1 0h3m5 0h3m1 0h3m-2 0h3m-1 0h3m-1 0h3m-1 0h3m4 0h3m0 0h3m11 0h3m2 0h3m3 0h3m5 0h3m3 0h3m0 0h3m0 0h3m1 0h3m4 0h3m4 0h3m-2 0h3m1 0h3m4 0h3m1 0h3m3 0h3m0 0h3m4 0h3m-234 1h3m2 0h3m6 0h3m2 0h3m-2 0h3m4 0h3m1 0h3m7 0h3m0 0h3m3 0h3m-2 0h3m6 0h3m-2 0h3m9 0h3m1 0h3m3 0h3m-1 0h3m1 0h3m3 0h3m-1 0h3m0 0h3m0 0h3m2 0h3m-2 0h3m0 0h3m1 0h3m16 0h3m3 0h3m2 0h3m8 0h3m1 0h3m0 0h3m-1 0h3m3 0h3m9 0h3m2 0h3m-1 0h3m2 0h3m3 0h3m1 0h3m11 0h3m-1 0h3m1 0h3m-1 0h3m-230 1h3m26 0h3m3 0h3m17 0h3m0 0h3m46 0h3m-1 0h3m-2 0h3m5 0h3m6 0h3m0 0h3m-2 0h3m-2 0h3m20 0h3m3 0h3m-2 0h3m1 0h3m4 0h3m-2 0h3m2 0h3m-1 0h3m-2 0h3m0 0h3m3 0h3m-1 0h3m1 0h3m-2 0h3m-1 0h3m0 0h3m2 0h3m-2 0h3m-2 0h3m-2 0h3m0 0h3m-2 0h3m-1 0h3m0 0h3m1 0h3m2 0h3m0 0h3m3 0h3m-245 1h3m0 0h3m3 0h3m-2 0h3m2 0h3m6 0h3m7 0h3m-2 0h3m2 0h3m2 0h3m3 0h3m-1 0h3m0 0h3m6 0h3m-2 0h3m4 0h3m5 0h3m-2 0h3m13 0h3m-1 0h3m-1 0h3m-1 0h3m1 0h3m-1 0h3m6 0h3m11 0h3m-1 0h3m-1 0h3m-1 0h3m-1 0h3m1 0h3m-1 0h3m-1 0h3m1 0h3m-2 0h3m0 0h3m0 0h3m0 0h3m6 0h3m-2 0h3m2 0h3m-1 0h3m16 0h3m-1 0h3m6 0h3m-218 1h3m14 0h3m2 0h3m-2 0h3m-2 0h3m0 0h3m2 0h3m0 0h3m5 0h3m3 0h3m0 0h3m0 0h3m3 0h3m0 0h3m-2 0h3m0 0h3m-1 0h3m-2 0h3m2 0h3m-1 0h3m-1 0h3m7 0h3m9 0h3m-1 0h3m-1 0h3m6 0h3m2 0h3m-1 0h3m0 0h3m5 0h3m-2 0h3m11 0h3m5 0h3m2 0h3m2 0h3m5 0h3m-2 0h3m14 0h3m-1 0h3m-1 0h3m-1 0h3m3 0h3m-1 0h3m1 0h3m1 0h3m6 0h3m-2 0h3m-1 0h3m1 0h3m0 0h3m0 0h3m3 0h3m-226 1h3m0 0h3m2 0h3m-2 0h3m-1 0h3m0 0h3m0 0h3m-1 0h3m0 0h3m8 0h3m1 0h3m4 0h3m-1 0h3m30 0h3m2 0h3m-1 0h3m2 0h3m-1 0h3m-2 0h3m0 0h3m-1 0h3m8 0h3m-2 0h3m-1 0h3m-2 0h3m0 0h3m-1 0h3m0 0h3m2 0h3m2 0h3m5 0h3m-1 0h3m4 0h3m3 0h3m1 0h3m0 0h3m-2 0h3m-2 0h3m2 0h3m-1 0h3m-2 0h3m2 0h3m-1 0h3m-2 0h3m0 0h3m3 0h3m2 0h3m-1 0h3m3 0h3m11 0h3m2 0h3m18 0h3m-258 1h3m-1 0h3m29 0h3m2 0h3m-2 0h3m1 0h3m-2 0h3m0 0h3m0 0h3m7 0h3m0 0h3m-1 0h3m7 0h3m1 0h3m2 0h3m1 0h3m3 0h3m10 0h3m5 0h3m0 0h3m0 0h3m9 0h3m0 0h3m1 0h3m4 0h3m0 0h3m4 0h3m-1 0h3m0 0h3m7 0h3m7 0h3m10 0h3m3 0h3m0 0h3m5 0h3m1 0h3m21 0h3m-239 1h3m-2 0h3m3 0h3m-1 0h3m8 0h3m20 0h3m4 0h3m5 0h3m22 0h3m4 0h3m0 0h3m5 0h3m1 0h3m16 0h3m0 0h3m6 0h3m1 0h3m0 0h3m0 0h3m-2 0h3m1 0h3m2 0h3m5 0h3m5 0h3m-1 0h3m1 0h3m0 0h3m0 0h3m-1 0h3m6 0h3m2 0h3m1 0h3m-2 0h3m3 0h3m6 0h3m0 0h3m-1 0h3m4 0h3m-239 1h3m12 0h3m1 0h3m-1 0h3m1 0h3m4 0h3m0 0h3m-1 0h3m0 0h3m1 0h3m4 0h3m0 0h3m1 0h3m3 0h3m-1 0h3m3 0h3m15 0h3m-1 0h3m-1 0h3m-2 0h3m-1 0h3m3 0h3m4 0h3m0 0h3m2 0h3m-2 0h3m-2 0h3m1 0h3m-2 0h3m9 0h3m-1 0h3m1 0h3m0 0h3m4 0h3m-2 0h3m-1 0h3m1 0h3m3 0h3m-2 0h3m-1 0h3m0 0h3m-1 0h3m-2 0h3m-1 0h3m8 0h3m-1 0h3m-2 0h3m-1 0h3m2 0h3m1 0h3m6 0h3m0 0h3m4 0h3m1 0h3m0 0h3m13 0h3m9 0h3m-265 1h3m4 0h3m0 0h3m-2 0h3m3 0h3m-1 0h3m5 0h3m-1 0h3m0 0h3m5 0h3m-2 0h3m2 0h3m-1 0h3m11 0h3m0 0h3m13 0h3m7 0h3m0 0h3m-2 0h3m9 0h3m4 0h3m0 0h3m-1 0h3m1 0h3m1 0h3m-2 0h3m4 0h3m-1 0h3m-1 0h3m0 0h3m11 0h3m2 0h3m8 0h3m0 0h3m3 0h3m3 0h3m-1 0h3m12 0h3m2 0h3m8 0h3m0 0h3m11 0h3m8 0h3m-248 1h3m6 0h3m0 0h3m5 0h3m-2 0h3m-2 0h3m0 0h3m3 0h3m1 0h3m-1 0h3m-2 0h3m6 0h3m0 0h3m5 0h3m0 0h3m8 0h3m-2 0h3m-2 0h3m10 0h3m3 0h3m0 0h3m3 0h3m2 0h3m5 0h3m1 0h3m3 0h3m1 0h3m-1 0h3m-1 0h3m7 0h3m15 0h3m2 0h3m1 0h3m-2 0h3m9 0h3m5 0h3m2 0h3m4 0h3m0 0h3m-1 0h3m0 0h3m-2 0h3m-1 0h3m-1 0h3m9 0h3m-236 1h3m0 0h3m2 0h3m1 0h3m8 0h3m7 0h3m4 0h3m3 0h3m12 0h3m5 0h3m13 0h3m5 0h3m5 0h3m4 0h3m-2 0h3m-1 0h3m4 0h3m5 0h3m12 0h3m-2 0h3m3 0h3m2 0h3m-2 0h3m0 0h3m0 0h3m-2 0h3m0 0h3m1 0h3m-1 0h3m7 0h3m15 0h3m0 0h3m1 0h3m5 0h3m-1 0h3m6 0h3m0 0h3m4 0h3m11 0h3m-238 1h3m0 0h3m19 0h3m-2 0h3m-1 0h3m-1 0h3m1 0h3m-2 0h3m-2 0h3m-1 0h3m1 0h3m0 0h3m-2 0h3m3 0h3m7 0h3m0 0h3m0 0h3m4 0h3m-2 0h3m4 0h3m-1 0h3m-1 0h3m0 0h3m-1 0h3m3 0h3m-2 0h3m1 0h3m-2 0h3m0 0h3m7 0h3m-2 0h3m0 0h3m0 0h3m0 0h3m1 0h3m0 0h3m1 0h3m11 0h3m0 0h3m1 0h3m3 0h3m-2 0h3m0 0h3m1 0h3m2 0h3m0 0h3m-2 0h3m5 0h3m-2 0h3m2 0h3m4 0h3m9 0h3m-225 1h3m2 0h3m4 0h3m1 0h3m0 0h3m-1 0h3m-1 0h3m1 0h3m2 0h3m4 0h3m3 0h3m7 0h3m-1 0h3m1 0h3m5 0h3m20 0h3m-1 0h3m0 0h3m-2 0h3m0 0h3m9 0h3m1 0h3m1 0h3m2 0h3m-1 0h3m-2 0h3m-1 0h3m-1 0h3m7 0h3m1 0h3m5 0h3m-2 0h3m0 0h3m1 0h3m3 0h3m-1 0h3m4 0h3m-1 0h3m0 0h3m-2 0h3m0 0h3m0 0h3m-1 0h3m1 0h3m-1 0h3m3 0h3m0 0h3m-1 0h3m0 0h3m15 0h3m-239 1h3m16 0h3m5 0h3m2 0h3m-2 0h3m0 0h3m3 0h3m2 0h3m14 0h3m-2 0h3m-2 0h3m16 0h3m7 0h3m4 0h3m5 0h3m2 0h3m0 0h3m4 0h3m-2 0h3m-2 0h3m0 0h3m0 0h3m0 0h3m4 0h3m-2 0h3m4 0h3m0 0h3m-1 0h3m-2 0h3m-1 0h3m-2 0h3m1 0h3m1 0h3m0 0h3m-2 0h3m2 0h3m5 0h3m1 0h3m0 0h3m-2 0h3m3 0h3m6 0h3m0 0h3m9 0h3m1 0h3m5 0h3m-230 1h3m3 0h3m1 0h3m0 0h3m7 0h3m0 0h3m2 0h3m8 0h3m0 0h3m-1 0h3m-1 0h3m4 0h3m7 0h3m-1 0h3m-1 0h3m0 0h3m-2 0h3m15 0h3m8 0h3m-1 0h3m7 0h3m3 0h3m-1 0h3m0 0h3m4 0h3m3 0h3m3 0h3m0 0h3m-1 0h3m3 0h3m2 0h3m-2 0h3m0 0h3m5 0h3m-1 0h3m11 0h3m3 0h3m-2 0h3m5 0h3m2 0h3m0 0h3m0 0h3m4 0h3m1 0h3m-231 1h3m2 0h3m1 0h3m5 0h3m-1 0h3m2 0h3m-1 0h3m11 0h3m-1 0h3m0 0h3m44 0h3m0 0h3m-2 0h3m0 0h3m-2 0h3m0 0h3m7 0h3m-1 0h3m13 0h3m-1 0h3m-2 0h3m0 0h3m-1 0h3m1 0h3m2 0h3m19 0h3m4 0h3m-2 0h3m6 0h3m5 0h3m0 0h3m0 0h3m3 0h3m-2 0h3m-2 0h3m-2 0h3m0 0h3m-2 0h3m-2 0h3m0 0h3m14 0h3m-235 1h3m2 0h3m-2 0h3m-1 0h3m-1 0h3m-1 0h3m1 0h3m0 0h3m-1 0h3m2 0h3m-2 0h3m-1 0h3m0 0h3m-1 0h3m0 0h3m-2 0h3m2 0h3m2 0h3m1 0h3m3 0h3m15 0h3m-1 0h3m13 0h3m3 0h3m0 0h3m2 0h3m-2 0h3m2 0h3m-1 0h3m0 0h3m-2 0h3m2 0h3m10 0h3m5 0h3m1 0h3m-1 0h3m-1 0h3m-1 0h3m-1 0h3m3 0h3m-1 0h3m1 0h3m5 0h3m-1 0h3m3 0h3m1 0h3m8 0h3m13 0h3m2 0h3m-232 1h3m4 0h3m12 0h3m-1 0h3m4 0h3m1 0h3m1 0h3m-1 0h3m2 0h3m-2 0h3m0 0h3m2 0h3m-2 0h3m3 0h3m14 0h3m4 0h3m0 0h3m10 0h3m-1 0h3m-1 0h3m5 0h3m0 0h3m3 0h3m13 0h3m0 0h3m3 0h3m-1 0h3m0 0h3m-1 0h3m1 0h3m17 0h3m5 0h3m8 0h3m5 0h3m6 0h3m1 0h3m8 0h3m4 0h3m0 0h3m-225 1h3m1 0h3m2 0h3m-1 0h3m2 0h3m6 0h3m6 0h3m21 0h3m-2 0h3m27 0h3m2 0h3m1 0h3m1 0h3m-2 0h3m9 0h3m-1 0h3m5 0h3m0 0h3m3 0h3m2 0h3m11 0h3m-1 0h3m-2 0h3m1 0h3m-2 0h3m0 0h3m6 0h3m8 0h3m1 0h3m1 0h3m5 0h3m2 0h3m2 0h3m-1 0h3m1 0h3m-232 1h3m6 0h3m0 0h3m4 0h3m6 0h3m0 0h3m3 0h3m2 0h3m-1 0h3m0 0h3m8 0h3m0 0h3m4 0h3m1 0h3m2 0h3m0 0h3m17 0h3m3 0h3m-2 0h3m6 0h3m-1 0h3m0 0h3m-2 0h3m-1 0h3m1 0h3m-2 0h3m1 0h3m7 0h3m-1 0h3m-1 0h3m7 0h3m0 0h3m1 0h3m9 0h3m-2 0h3m-1 0h3m-1 0h3m-2 0h3m1 0h3m0 0h3m-1 0h3m-2 0h3m0 0h3m2 0h3m13 0h3m10 0h3m-233 1h3m9 0h3m1 0h3m2 0h3m3 0h3m3 0h3m-1 0h3m-1 0h3m1 0h3m2 0h3m4 0h3m6 0h3m0 0h3m6 0h3m16 0h3m7 0h3m0 0h3m6 0h3m5 0h3m-1 0h3m8 0h3m-2 0h3m-2 0h3m-1 0h3m3 0h3m7 0h3m-2 0h3m0 0h3m-1 0h3m0 0h3m-1 0h3m-1 0h3m2 0h3m22 0h3m6 0h3m4 0h3m9 0h3m-225 1h3m-2 0h3m2 0h3m-1 0h3m3 0h3m3 0h3m0 0h3m6 0h3m2 0h3m-2 0h3m1 0h3m3 0h3m0 0h3m2 0h3m0 0h3m15 0h3m7 0h3m-2 0h3m14 0h3m0 0h3m3 0h3m6 0h3m2 0h3m6 0h3m7 0h3m9 0h3m-1 0h3m2 0h3m1 0h3m-2 0h3m5 0h3m3 0h3m4 0h3m3 0h3m-2 0h3m4 0h3m-2 0h3m-2 0h3m11 0h3m-2 0h3m-232 1h3m6 0h3m6 0h3m-2 0h3m1 0h3m-2 0h3m7 0h3m20 0h3m21 0h3m13 0h3m0 0h3m5 0h3m-1 0h3m1 0h3m0 0h3m-2 0h3m1 0h3m6 0h3m0 0h3m-1 0h3m8 0h3m3 0h3m-2 0h3m0 0h3m0 0h3m6 0h3m7 0h3m-1 0h3m1 0h3m5 0h3m1 0h3m2 0h3m3 0h3m0 0h3m3 0h3m-2 0h3m1 0h3m8 0h3m-233 1h3m1 0h3m7 0h3m-1 0h3m-1 0h3m-1 0h3m5 0h3m-1 0h3m-2 0h3m-1 0h3m3 0h3m14 0h3m2 0h3m6 0h3m10 0h3m12 0h3m-1 0h3m-1 0h3m0 0h3m8 0h3m5 0h3m0 0h3m-1 0h3m-2 0h3m2 0h3m4 0h3m0 0h3m-1 0h3m4 0h3m1 0h3m-2 0h3m-2 0h3m-2 0h3m0 0h3m3 0h3m-1 0h3m1 0h3m-1 0h3m-1 0h3m0 0h3m-2 0h3m0 0h3m1 0h3m3 0h3m-1 0h3m-2 0h3m1 0h3m14 0h3m0 0h3m-218 1h3m-1 0h3m-2 0h3m17 0h3m0 0h3m-1 0h3m1 0h3m-2 0h3m1 0h3m3 0h3m1 0h3m-2 0h3m14 0h3m7 0h3m-1 0h3m2 0h3m15 0h3m0 0h3m2 0h3m1 0h3m-1 0h3m-1 0h3m3 0h3m14 0h3m-1 0h3m1 0h3m5 0h3m2 0h3m2 0h3m-1 0h3m-1 0h3m3 0h3m17 0h3m-1 0h3m21 0h3m-226 1h3m6 0h3m1 0h3m-1 0h3m2 0h3m-1 0h3m9 0h3m2 0h3m-1 0h3m0 0h3m11 0h3m5 0h3m7 0h3m8 0h3m1 0h3m1 0h3m1 0h3m1 0h3m4 0h3m1 0h3m11 0h3m-2 0h3m1 0h3m-1 0h3m-1 0h3m0 0h3m13 0h3m-1 0h3m4 0h3m6 0h3m3 0h3m-1 0h3m3 0h3m-1 0h3m10 0h3m-2 0h3m-1 0h3m2 0h3m-2 0h3m0 0h3m22 0h3m-243 1h3m1 0h3m10 0h3m0 0h3m0 0h3m2 0h3m1 0h3m3 0h3m7 0h3m0 0h3m-2 0h3m-1 0h3m5 0h3m9 0h3m10 0h3m1 0h3m2 0h3m-2 0h3m-1 0h3m-1 0h3m3 0h3m2 0h3m0 0h3m3 0h3m0 0h3m3 0h3m8 0h3m0 0h3m-2 0h3m-1 0h3m0 0h3m-2 0h3m1 0h3m5 0h3m-2 0h3m-1 0h3m-2 0h3m2 0h3m0 0h3m1 0h3m2 0h3m-1 0h3m5 0h3m2 0h3m0 0h3m-217 1h3m9 0h3m2 0h3m1 0h3m0 0h3m-2 0h3m-2 0h3m2 0h3m5 0h3m5 0h3m-1 0h3m11 0h3m4 0h3m-1 0h3m4 0h3m-1 0h3m12 0h3m0 0h3m0 0h3m0 0h3m0 0h3m7 0h3m5 0h3m-2 0h3m-2 0h3m1 0h3m3 0h3m3 0h3m1 0h3m0 0h3m-1 0h3m7 0h3m16 0h3m-2 0h3m17 0h3m2 0h3m-1 0h3m0 0h3m0 0h3m0 0h3m4 0h3m4 0h3m-230 1h3m5 0h3m1 0h3m0 0h3m7 0h3m-1 0h3m0 0h3m0 0h3m-1 0h3m8 0h3m-2 0h3m1 0h3m1 0h3m-2 0h3m3 0h3m14 0h3m2 0h3m0 0h3m7 0h3m-1 0h3m2 0h3m10 0h3m-2 0h3m6 0h3m-1 0h3m0 0h3m-2 0h3m1 0h3m1 0h3m-1 0h3m4 0h3m1 0h3m3 0h3m0 0h3m2 0h3m-1 0h3m-1 0h3m-2 0h3m1 0h3m6 0h3m-1 0h3m-1 0h3m-1 0h3m-1 0h3m2 0h3m-2 0h3m0 0h3m0 0h3m11 0h3m-227 1h3m4 0h3m-2 0h3m15 0h3m-2 0h3m-1 0h3m10 0h3m-1 0h3m1 0h3m1 0h3m2 0h3m7 0h3m29 0h3m8 0h3m-1 0h3m-1 0h3m-2 0h3m1 0h3m5 0h3m-2 0h3m-1 0h3m3 0h3m1 0h3m-2 0h3m9 0h3m0 0h3m3 0h3m0 0h3m-2 0h3m11 0h3m0 0h3m2 0h3m9 0h3m9 0h3m-205 1h3m-2 0h3m8 0h3m9 0h3m12 0h3m15 0h3m7 0h3m5 0h3m0 0h3m7 0h3m1 0h3m-2 0h3m-1 0h3m7 0h3m-2 0h3m15 0h3m1 0h3m26 0h3m2 0h3m-1 0h3m1 0h3m8 0h3m2 0h3m-2 0h3m4 0h3m3 0h3m7 0h3m-1 0h3m-218 1h3m-1 0h3m0 0h3m1 0h3m0 0h3m-1 0h3m-2 0h3m7 0h3m1 0h3m7 0h3m-2 0h3m-2 0h3m3 0h3m4 0h3m2 0h3m-1 0h3m1 0h3m6 0h3m12 0h3m3 0h3m1 0h3m2 0h3m-2 0h3m-2 0h3m8 0h3m-1 0h3m1 0h3m0 0h3m1 0h3m3 0h3m2 0h3m2 0h3m3 0h3m0 0h3m-1 0h3m-1 0h3m-1 0h3m-1 0h3m4 0h3m3 0h3m0 0h3m0 0h3m2 0h3m3 0h3m-1 0h3m4 0h3m0 0h3m3 0h3m-220 1h3m0 0h3m4 0h3m-1 0h3m3 0h3m0 0h3m-2 0h3m9 0h3m1 0h3m-2 0h3m6 0h3m7 0h3m8 0h3m5 0h3m-2 0h3m-2 0h3m10 0h3m7 0h3m0 0h3m-1 0h3m0 0h3m3 0h3m6 0h3m0 0h3m0 0h3m-1 0h3m3 0h3m1 0h3m3 0h3m-1 0h3m-1 0h3m-1 0h3m-1 0h3m-1 0h3m3 0h3m6 0h3m-2 0h3m4 0h3m3 0h3m1 0h3m1 0h3m-2 0h3m1 0h3m0 0h3m13 0h3m-1 0h3m-222 1h3m-2 0h3m8 0h3m0 0h3m8 0h3m-2 0h3m-2 0h3m-1 0h3m0 0h3m6 0h3m2 0h3m-1 0h3m-2 0h3m0 0h3m3 0h3m0 0h3m-1 0h3m7 0h3m1 0h3m0 0h3m14 0h3m8 0h3m-2 0h3m-1 0h3m-2 0h3m2 0h3m-2 0h3m2 0h3m-2 0h3m4 0h3m0 0h3m1 0h3m7 0h3m2 0h3m12 0h3m2 0h3m9 0h3m1 0h3m7 0h3m4 0h3m-1 0h3m3 0h3m-222 1h3m5 0h3m3 0h3m-1 0h3m0 0h3m1 0h3m-2 0h3m0 0h3m13 0h3m0 0h3m0 0h3m0 0h3m3 0h3m1 0h3m9 0h3m-1 0h3m15 0h3m3 0h3m2 0h3m-1 0h3m-1 0h3m-2 0h3m10 0h3m9 0h3m10 0h3m-1 0h3m0 0h3m0 0h3m1 0h3m-1 0h3m1 0h3m1 0h3m-1 0h3m0 0h3m2 0h3m0 0h3m-1 0h3m3 0h3m4 0h3m1 0h3m0 0h3m10 0h3m4 0h3m-220 1h3m0 0h3m-1 0h3m4 0h3m16 0h3m-1 0h3m4 0h3m18 0h3m-1 0h3m1 0h3m-2 0h3m1 0h3m0 0h3m3 0h3m-1 0h3m1 0h3m-1 0h3m2 0h3m-2 0h3m4 0h3m-1 0h3m1 0h3m0 0h3m9 0h3m-2 0h3m0 0h3m3 0h3m10 0h3m8 0h3m-1 0h3m-2 0h3m8 0h3m2 0h3m1 0h3m-1 0h3m8 0h3m4 0h3m4 0h3m-213 1h3m19 0h3m0 0h3m-1 0h3m1 0h3m5 0h3m-1 0h3m10 0h3m3 0h3m4 0h3m10 0h3m7 0h3m-2 0h3m3 0h3m-1 0h3m2 0h3m3 0h3m0 0h3m0 0h3m2 0h3m0 0h3m3 0h3m6 0h3m-1 0h3m0 0h3m0 0h3m2 0h3m3 0h3m5 0h3m1 0h3m0 0h3m1 0h3m0 0h3m5 0h3m-1 0h3m6 0h3m-1 0h3m-1 0h3m15 0h3m-232 1h3m21 0h3m-1 0h3m3 0h3m1 0h3m5 0h3m7 0h3m8 0h3m0 0h3m-1 0h3m-1 0h3m2 0h3m1 0h3m-2 0h3m20 0h3m1 0h3m-2 0h3m-2 0h3m0 0h3m5 0h3m1 0h3m0 0h3m0 0h3m1 0h3m1 0h3m-1 0h3m-1 0h3m0 0h3m0 0h3m-1 0h3m0 0h3m-1 0h3m9 0h3m1 0h3m3 0h3m8 0h3m0 0h3m-1 0h3m3 0h3m9 0h3m0 0h3m-1 0h3m-2 0h3m-217 1h3m7 0h3m1 0h3m3 0h3m0 0h3m-1 0h3m4 0h3m2 0h3m0 0h3m-1 0h3m2 0h3m7 0h3m4 0h3m4 0h3m33 0h3m-2 0h3m-2 0h3m-2 0h3m-2 0h3m1 0h3m11 0h3m2 0h3m0 0h3m-2 0h3m3 0h3m1 0h3m3 0h3m2 0h3m5 0h3m0 0h3m5 0h3m-1 0h3m1 0h3m11 0h3m4 0h3m14 0h3m-224 1h3m10 0h3m-2 0h3m3 0h3m0 0h3m1 0h3m0 0h3m-2 0h3m-1 0h3m8 0h3m6 0h3m8 0h3m-1 0h3m15 0h3m7 0h3m2 0h3m0 0h3m4 0h3m2 0h3m-1 0h3m0 0h3m-2 0h3m4 0h3m1 0h3m3 0h3m10 0h3m2 0h3m-2 0h3m12 0h3m0 0h3m-2 0h3m11 0h3m1 0h3m0 0h3m0 0h3m7 0h3m5 0h3m16 0h3m-245 1h3m0 0h3m9 0h3m3 0h3m15 0h3m2 0h3m-2 0h3m0 0h3m3 0h3m2 0h3m2 0h3m-1 0h3m2 0h3m-2 0h3m14 0h3m8 0h3m3 0h3m1 0h3m0 0h3m1 0h3m-1 0h3m1 0h3m1 0h3m-2 0h3m6 0h3m-1 0h3m6 0h3m0 0h3m5 0h3m0 0h3m-1 0h3m3 0h3m-1 0h3m-1 0h3m-1 0h3m4 0h3m1 0h3m2 0h3m6 0h3m5 0h3m-1 0h3m4 0h3m15 0h3m-232 1h3m16 0h3m0 0h3m0 0h3m-2 0h3m6 0h3m6 0h3m-1 0h3m2 0h3m6 0h3m1 0h3m16 0h3m1 0h3m-1 0h3m-1 0h3m-1 0h3m-1 0h3m1 0h3m0 0h3m-1 0h3m-1 0h3m11 0h3m1 0h3m0 0h3m-1 0h3m3 0h3m-2 0h3m-2 0h3m0 0h3m2 0h3m0 0h3m-2 0h3m13 0h3m6 0h3m0 0h3m-2 0h3m0 0h3m7 0h3m-2 0h3m0 0h3m0 0h3m-2 0h3m-1 0h3m1 0h3m3 0h3m4 0h3m-212 1h3m2 0h3m0 0h3m1 0h3m3 0h3m0 0h3m0 0h3m1 0h3m-2 0h3m-1 0h3m-2 0h3m1 0h3m4 0h3m1 0h3m1 0h3m-1 0h3m2 0h3m1 0h3m12 0h3m27 0h3m3 0h3m-2 0h3m0 0h3m4 0h3m1 0h3m-1 0h3m1 0h3m14 0h3m1 0h3m2 0h3m-1 0h3m-2 0h3m4 0h3m8 0h3m-2 0h3m1 0h3m-2 0h3m0 0h3m-201 1h3m4 0h3m1 0h3m4 0h3m1 0h3m2 0h3m1 0h3m7 0h3m6 0h3m-2 0h3m3 0h3m34 0h3m1 0h3m5 0h3m-1 0h3m1 0h3m-2 0h3m2 0h3m9 0h3m4 0h3m2 0h3m0 0h3m2 0h3m0 0h3m-2 0h3m-2 0h3m0 0h3m-1 0h3m-2 0h3m14 0h3m0 0h3m0 0h3m-185 1h3m7 0h3m-1 0h3m3 0h3m-1 0h3m1 0h3m0 0h3m1 0h3m-1 0h3m-1 0h3m3 0h3m0 0h3m8 0h3m1 0h3m5 0h3m3 0h3m-1 0h3m-1 0h3m0 0h3m1 0h3m0 0h3m8 0h3m0 0h3m2 0h3m-1 0h3m2 0h3m1 0h3m-1 0h3m-2 0h3m1 0h3m2 0h3m1 0h3m1 0h3m4 0h3m0 0h3m-1 0h3m3 0h3m0 0h3m1 0h3m-2 0h3m0 0h3m2 0h3m0 0h3m-2 0h3m7 0h3m0 0h3m-2 0h3m0 0h3m1 0h3m-1 0h3m3 0h3m-209 1h3m-2 0h3m1 0h3m-2 0h3m2 0h3m4 0h3m0 0h3m11 0h3m1 0h3m-2 0h3m4 0h3m5 0h3m-2 0h3m9 0h3m26 0h3m1 0h3m0 0h3m0 0h3m-1 0h3m-1 0h3m2 0h3m0 0h3m0 0h3m0 0h3m1 0h3m1 0h3m-2 0h3m3 0h3m4 0h3m4 0h3m-1 0h3m-2 0h3m8 0h3m-1 0h3m-2 0h3m-1 0h3m4 0h3m-1 0h3m-1 0h3m6 0h3m7 0h3m-212 1h3m10 0h3m3 0h3m-2 0h3m0 0h3m-2 0h3m7 0h3m-2 0h3m6 0h3m-1 0h3m15 0h3m0 0h3m11 0h3m6 0h3m-1 0h3m-1 0h3m3 0h3m1 0h3m-1 0h3m1 0h3m6 0h3m6 0h3m11 0h3m-2 0h3m0 0h3m-1 0h3m1 0h3m0 0h3m6 0h3m-1 0h3m19 0h3m2 0h3m-2 0h3m4 0h3m-1 0h3m7 0h3m-210 1h3m3 0h3m5 0h3m5 0h3m-1 0h3m4 0h3m-2 0h3m1 0h3m3 0h3m-1 0h3m0 0h3m-1 0h3m0 0h3m4 0h3m5 0h3m-1 0h3m8 0h3m18 0h3m1 0h3m1 0h3m3 0h3m-1 0h3m0 0h3m5 0h3m0 0h3m11 0h3m3 0h3m6 0h3m2 0h3m1 0h3m-2 0h3m-2 0h3m3 0h3m0 0h3m1 0h3m-2 0h3m2 0h3m-2 0h3m5 0h3m-1 0h3m-1 0h3m-196 1h3m-2 0h3m8 0h3m3 0h3m3 0h3m5 0h3m-1 0h3m0 0h3m2 0h3m6 0h3m0 0h3m8 0h3m3 0h3m2 0h3m-2 0h3m16 0h3m-1 0h3m6 0h3m5 0h3m0 0h3m-2 0h3m0 0h3m0 0h3m1 0h3m-1 0h3m-2 0h3m0 0h3m0 0h3m2 0h3m-1 0h3m3 0h3m4 0h3m2 0h3m0 0h3m-1 0h3m3 0h3m0 0h3m-1 0h3m2 0h3m6 0h3m1 0h3m-203 1h3m-1 0h3m5 0h3m1 0h3m16 0h3m3 0h3m2 0h3m5 0h3m7 0h3m0 0h3m9 0h3m3 0h3m15 0h3m2 0h3m4 0h3m-1 0h3m-2 0h3m31 0h3m2 0h3m-2 0h3m-1 0h3m-2 0h3m1 0h3m4 0h3m0 0h3m12 0h3m-2 0h3m20 0h3m-209 1h3m2 0h3m-1 0h3m1 0h3m2 0h3m0 0h3m2 0h3m-1 0h3m8 0h3m-2 0h3m-1 0h3m-2 0h3m0 0h3m-1 0h3m1 0h3m37 0h3m-2 0h3m-2 0h3m-2 0h3m1 0h3m-2 0h3m-1 0h3m2 0h3m3 0h3m0 0h3m0 0h3m-1 0h3m-1 0h3m0 0h3m-2 0h3m-1 0h3m0 0h3m10 0h3m2 0h3m10 0h3m7 0h3m-2 0h3m2 0h3m1 0h3m0 0h3m-205 1h3m6 0h3m7 0h3m7 0h3m0 0h3m3 0h3m0 0h3m2 0h3m-1 0h3m-1 0h3m4 0h3m5 0h3m17 0h3m1 0h3m5 0h3m3 0h3m0 0h3m7 0h3m0 0h3m-2 0h3m4 0h3m0 0h3m7 0h3m8 0h3m0 0h3m2 0h3m2 0h3m2 0h3m0 0h3m1 0h3m-2 0h3m-2 0h3m0 0h3m0 0h3m5 0h3m-2 0h3m5 0h3m1 0h3m3 0h3m0 0h3m-219 1h3m13 0h3m4 0h3m7 0h3m0 0h3m0 0h3m-2 0h3m9 0h3m3 0h3m21 0h3m8 0h3m6 0h3m-1 0h3m12 0h3m2 0h3m0 0h3m0 0h3m0 0h3m0 0h3m0 0h3m-1 0h3m-2 0h3m-2 0h3m3 0h3m0 0h3m0 0h3m-2 0h3m0 0h3m3 0h3m0 0h3m2 0h3m3 0h3m-1 0h3m3 0h3m3 0h3m0 0h3m-2 0h3m1 0h3m14 0h3m-216 1h3m1 0h3m0 0h3m0 0h3m7 0h3m-1 0h3m-1 0h3m0 0h3m-2 0h3m10 0h3m4 0h3m-2 0h3m-1 0h3m-2 0h3m-1 0h3m0 0h3m0 0h3m-2 0h3m31 0h3m2 0h3m0 0h3m-2 0h3m-2 0h3m0 0h3m-2 0h3m6 0h3m-1 0h3m3 0h3m-2 0h3m0 0h3m3 0h3m0 0h3m0 0h3m12 0h3m11 0h3m9 0h3m-2 0h3m-2 0h3m1 0h3m6 0h3m8 0h3m-215 1h3m3 0h3m2 0h3m4 0h3m0 0h3m-2 0h3m0 0h3m9 0h3m0 0h3m-2 0h3m2 0h3m9 0h3m1 0h3m-1 0h3m0 0h3m0 0h3m8 0h3m19 0h3m2 0h3m-1 0h3m8 0h3m3 0h3m-2 0h3m2 0h3m1 0h3m7 0h3m2 0h3m-1 0h3m-1 0h3m6 0h3m3 0h3m0 0h3m-1 0h3m0 0h3m0 0h3m-2 0h3m23 0h3m2 0h3m-208 1h3m5 0h3m8 0h3m2 0h3m-2 0h3m-2 0h3m6 0h3m5 0h3m1 0h3m8 0h3m14 0h3m0 0h3m4 0h3m1 0h3m3 0h3m2 0h3m1 0h3m3 0h3m-2 0h3m14 0h3m4 0h3m-1 0h3m-2 0h3m0 0h3m5 0h3m2 0h3m0 0h3m-2 0h3m-2 0h3m0 0h3m14 0h3m-1 0h3m-2 0h3m1 0h3m1 0h3m3 0h3m-2 0h3m-1 0h3m-204 1h3m16 0h3m0 0h3m4 0h3m2 0h3m-2 0h3m4 0h3m1 0h3m9 0h3m43 0h3m11 0h3m-1 0h3m0 0h3m-2 0h3m-2 0h3m0 0h3m5 0h3m8 0h3m-1 0h3m0 0h3m2 0h3m0 0h3m11 0h3m15 0h3m-2 0h3m-205 1h3m11 0h3m-1 0h3m4 0h3m1 0h3m-1 0h3m6 0h3m6 0h3m-2 0h3m-2 0h3m9 0h3m0 0h3m22 0h3m5 0h3m2 0h3m-1 0h3m23 0h3m1 0h3m2 0h3m3 0h3m-1 0h3m1 0h3m-2 0h3m-1 0h3m1 0h3m4 0h3m7 0h3m0 0h3m1 0h3m11 0h3m1 0h3m1 0h3m-1 0h3m0 0h3m-199 1h3m5 0h3m-2 0h3m-1 0h3m-1 0h3m1 0h3m1 0h3m-2 0h3m2 0h3m-1 0h3m11 0h3m0 0h3m7 0h3m-2 0h3m10 0h3m3 0h3m21 0h3m1 0h3m-2 0h3m5 0h3m-1 0h3m5 0h3m3 0h3m-1 0h3m1 0h3m0 0h3m0 0h3m3 0h3m-1 0h3m0 0h3m-1 0h3m8 0h3m5 0h3m-2 0h3m1 0h3m-1 0h3m0 0h3m-2 0h3m13 0h3m-203 1h3m11 0h3m1 0h3m-1 0h3m1 0h3m4 0h3m11 0h3m-2 0h3m-1 0h3m-1 0h3m-1 0h3m0 0h3m3 0h3m12 0h3m5 0h3m-1 0h3m2 0h3m1 0h3m3 0h3m1 0h3m-2 0h3m8 0h3m-2 0h3m1 0h3m11 0h3m1 0h3m0 0h3m4 0h3m-1 0h3m2 0h3m-1 0h3m1 0h3m2 0h3m0 0h3m-2 0h3m0 0h3m0 0h3m2 0h3m16 0h3m-208 1h3m-2 0h3m4 0h3m-2 0h3m0 0h3m-1 0h3m16 0h3m-1 0h3m0 0h3m-1 0h3m13 0h3m2 0h3m-1 0h3m1 0h3m6 0h3m17 0h3m0 0h3m3 0h3m3 0h3m2 0h3m-1 0h3m3 0h3m1 0h3m3 0h3m-2 0h3m2 0h3m19 0h3m1 0h3m-2 0h3m-1 0h3m0 0h3m7 0h3m5 0h3m-1 0h3m-1 0h3m-200 1h3m2 0h3m0 0h3m3 0h3m2 0h3m2 0h3m0 0h3m-1 0h3m0 0h3m-1 0h3m8 0h3m-2 0h3m-1 0h3m-1 0h3m2 0h3m7 0h3m1 0h3m0 0h3m7 0h3m4 0h3m14 0h3m7 0h3m16 0h3m7 0h3m0 0h3m-1 0h3m-1 0h3m6 0h3m4 0h3m1 0h3m4 0h3m-2 0h3m3 0h3m-2 0h3m1 0h3m-2 0h3m7 0h3m-198 1h3m-1 0h3m0 0h3m6 0h3m2 0h3m0 0h3m1 0h3m-1 0h3m-1 0h3m-1 0h3m-1 0h3m2 0h3m2 0h3m3 0h3m-1 0h3m1 0h3m21 0h3m3 0h3m1 0h3m0 0h3m0 0h3m4 0h3m3 0h3m5 0h3m3 0h3m-1 0h3m0 0h3m3 0h3m-2 0h3m1 0h3m-2 0h3m3 0h3m0 0h3m-2 0h3m-1 0h3m1 0h3m-1 0h3m2 0h3m3 0h3m-2 0h3m1 0h3m-2 0h3m2 0h3m-1 0h3m4 0h3m-1 0h3m-199 1h3m7 0h3m10 0h3m4 0h3m4 0h3m2 0h3m33 0h3m14 0h3m5 0h3m-2 0h3m0 0h3m1 0h3m-2 0h3m-1 0h3m-1 0h3m-2 0h3m-2 0h3m3 0h3m10 0h3m16 0h3m-1 0h3m17 0h3m0 0h3m7 0h3m6 0h3m4 0h3m6 0h3m-214 1h3m-2 0h3m2 0h3m-1 0h3m4 0h3m-2 0h3m-1 0h3m0 0h3m2 0h3m-1 0h3m2 0h3m6 0h3m1 0h3m-1 0h3m-1 0h3m-2 0h3m0 0h3m16 0h3m12 0h3m4 0h3m2 0h3m-1 0h3m1 0h3m0 0h3m3 0h3m-2 0h3m1 0h3m-2 0h3m0 0h3m-2 0h3m-1 0h3m10 0h3m2 0h3m11 0h3m-1 0h3m8 0h3m6 0h3m-2 0h3m-1 0h3m5 0h3m-1 0h3m1 0h3m-189 1h3m3 0h3m2 0h3m-2 0h3m4 0h3m12 0h3m1 0h3m16 0h3m1 0h3m16 0h3m3 0h3m3 0h3m11 0h3m10 0h3m0 0h3m0 0h3m-2 0h3m1 0h3m-2 0h3m2 0h3m-1 0h3m3 0h3m1 0h3m0 0h3m-1 0h3m0 0h3m-1 0h3m0 0h3m-1 0h3m-1 0h3m5 0h3m2 0h3m-203 1h3m3 0h3m2 0h3m0 0h3m4 0h3m2 0h3m9 0h3m0 0h3m0 0h3m7 0h3m1 0h3m3 0h3m1 0h3m25 0h3m5 0h3m2 0h3m-2 0h3m2 0h3m-1 0h3m-1 0h3m0 0h3m-1 0h3m0 0h3m0 0h3m0 0h3m0 0h3m2 0h3m-2 0h3m1 0h3m-1 0h3m-1 0h3m4 0h3m0 0h3m2 0h3m-2 0h3m-2 0h3m6 0h3m1 0h3m3 0h3m-2 0h3m1 0h3m5 0h3m26 0h3m-230 1h3m10 0h3m1 0h3m-2 0h3m8 0h3m4 0h3m0 0h3m3 0h3m0 0h3m10 0h3m-1 0h3m15 0h3m-2 0h3m9 0h3m-1 0h3m1 0h3m7 0h3m-1 0h3m1 0h3m0 0h3m8 0h3m-2 0h3m-1 0h3m7 0h3m5 0h3m2 0h3m23 0h3m-2 0h3m3 0h3m3 0h3m-2 0h3m1 0h3m3 0h3m13 0h3m-230 1h3m1 0h3m1 0h3m17 0h3m-2 0h3m3 0h3m4 0h3m1 0h3m2 0h3m5 0h3m1 0h3m-1 0h3m3 0h3m35 0h3m3 0h3m1 0h3m0 0h3m4 0h3m3 0h3m7 0h3m2 0h3m0 0h3m0 0h3m-1 0h3m4 0h3m-2 0h3m2 0h3m10 0h3m3 0h3m-1 0h3m-2 0h3m1 0h3m13 0h3m-213 1h3m6 0h3m-2 0h3m-2 0h3m-1 0h3m6 0h3m-1 0h3m1 0h3m-1 0h3m3 0h3m-2 0h3m-1 0h3m-1 0h3m-1 0h3m-2 0h3m-1 0h3m5 0h3m1 0h3m0 0h3m0 0h3m12 0h3m5 0h3m-2 0h3m12 0h3m-2 0h3m2 0h3m-2 0h3m5 0h3m-2 0h3m6 0h3m1 0h3m1 0h3m4 0h3m-2 0h3m-1 0h3m-1 0h3m7 0h3m5 0h3m0 0h3m-1 0h3m-1 0h3m-2 0h3m-2 0h3m-1 0h3m0 0h3m15 0h3m1 0h3m-206 1h3m6 0h3m0 0h3m-1 0h3m0 0h3m10 0h3m1 0h3m15 0h3m6 0h3m8 0h3m14 0h3m10 0h3m4 0h3m1 0h3m8 0h3m1 0h3m2 0h3m0 0h3m13 0h3m0 0h3m2 0h3m2 0h3m0 0h3m1 0h3m4 0h3m3 0h3m-2 0h3m0 0h3m0 0h3m2 0h3m-195 1h3m11 0h3m0 0h3m5 0h3m4 0h3m3 0h3m-2 0h3m-1 0h3m0 0h3m0 0h3m1 0h3m6 0h3m-1 0h3m-1 0h3m-2 0h3m3 0h3m8 0h3m7 0h3m-2 0h3m-1 0h3m3 0h3m2 0h3m-1 0h3m0 0h3m3 0h3m3 0h3m8 0h3m-1 0h3m0 0h3m1 0h3m3 0h3m-2 0h3m5 0h3m2 0h3m1 0h3m-2 0h3m5 0h3m7 0h3m-1 0h3m1 0h3m10 0h3m-211 1h3m4 0h3m0 0h3m9 0h3m-2 0h3m0 0h3m1 0h3m0 0h3m-2 0h3m-2 0h3m0 0h3m3 0h3m-2 0h3m4 0h3m-1 0h3m12 0h3m3 0h3m3 0h3m5 0h3m2 0h3m8 0h3m9 0h3m1 0h3m9 0h3m-2 0h3m1 0h3m-1 0h3m2 0h3m0 0h3m-2 0h3m13 0h3m-1 0h3m6 0h3m-1 0h3m4 0h3m9 0h3m8 0h3m-215 1h3m3 0h3m12 0h3m10 0h3m1 0h3m5 0h3m11 0h3m-1 0h3m-1 0h3m19 0h3m10 0h3m6 0h3m-2 0h3m2 0h3m3 0h3m4 0h3m3 0h3m2 0h3m-2 0h3m7 0h3m1 0h3m1 0h3m-2 0h3m0 0h3m0 0h3m11 0h3m6 0h3m-1 0h3m0 0h3m0 0h3m0 0h3m-193 1h3m2 0h3m-2 0h3m0 0h3m1 0h3m1 0h3m-1 0h3m-2 0h3m-1 0h3m-1 0h3m1 0h3m4 0h3m3 0h3m0 0h3m1 0h3m7 0h3m10 0h3m1 0h3m9 0h3m12 0h3m2 0h3m-1 0h3m0 0h3m-2 0h3m1 0h3m1 0h3m2 0h3m-2 0h3m4 0h3m0 0h3m-1 0h3m7 0h3m2 0h3m-2 0h3m0 0h3m1 0h3m0 0h3m-2 0h3m4 0h3m-1 0h3m0 0h3m0 0h3m1 0h3m3 0h3m0 0h3m-1 0h3m-194 1h3m5 0h3m5 0h3m-1 0h3m5 0h3m-1 0h3m-1 0h3m-1 0h3m0 0h3m-1 0h3m0 0h3m2 0h3m-1 0h3m-1 0h3m0 0h3m15 0h3m1 0h3m4 0h3m-1 0h3m6 0h3m23 0h3m10 0h3m-2 0h3m-2 0h3m4 0h3m2 0h3m6 0h3m-2 0h3m4 0h3m-1 0h3m3 0h3m-1 0h3m0 0h3m2 0h3m1 0h3m2 0h3m-1 0h3m-198 1h3m-1 0h3m5 0h3m2 0h3m3 0h3m3 0h3m5 0h3m-1 0h3m0 0h3m0 0h3m-1 0h3m-1 0h3m4 0h3m10 0h3m23 0h3m6 0h3m-1 0h3m0 0h3m-2 0h3m1 0h3m1 0h3m5 0h3m1 0h3m3 0h3m3 0h3m-1 0h3m1 0h3m-2 0h3m6 0h3m-1 0h3m-1 0h3m0 0h3m-2 0h3m3 0h3m3 0h3m2 0h3m7 0h3m3 0h3m0 0h3m3 0h3m-200 1h3m-1 0h3m-2 0h3m14 0h3m5 0h3m8 0h3m-1 0h3m0 0h3m3 0h3m0 0h3m-1 0h3m10 0h3m0 0h3m4 0h3m4 0h3m11 0h3m1 0h3m0 0h3m4 0h3m4 0h3m12 0h3m-1 0h3m1 0h3m1 0h3m15 0h3m-2 0h3m0 0h3m2 0h3m6 0h3m2 0h3m16 0h3m-226 1h3m5 0h3m5 0h3m3 0h3m-1 0h3m0 0h3m4 0h3m0 0h3m1 0h3m-2 0h3m3 0h3m2 0h3m14 0h3m3 0h3m0 0h3m16 0h3m7 0h3m0 0h3m-2 0h3m-1 0h3m4 0h3m4 0h3m1 0h3m0 0h3m-2 0h3m2 0h3m1 0h3m0 0h3m9 0h3m-2 0h3m2 0h3m-2 0h3m-1 0h3m0 0h3m3 0h3m0 0h3m4 0h3m3 0h3m-1 0h3m3 0h3m-198 1h3m3 0h3m13 0h3m1 0h3m0 0h3m-2 0h3m1 0h3m-1 0h3m14 0h3m0 0h3m8 0h3m24 0h3m3 0h3m5 0h3m1 0h3m5 0h3m1 0h3m2 0h3m-2 0h3m0 0h3m-1 0h3m-1 0h3m0 0h3m0 0h3m3 0h3m-1 0h3m1 0h3m-2 0h3m1 0h3m6 0h3m-2 0h3m6 0h3m1 0h3m0 0h3m13 0h3m-2 0h3m-201 1h3m10 0h3m4 0h3m0 0h3m3 0h3m2 0h3m6 0h3m1 0h3m7 0h3m-1 0h3m12 0h3m15 0h3m13 0h3m2 0h3m2 0h3m5 0h3m4 0h3m4 0h3m-2 0h3m2 0h3m-1 0h3m2 0h3m2 0h3m-1 0h3m-1 0h3m3 0h3m6 0h3m1 0h3m17 0h3m3 0h3m-203 1h3m-2 0h3m-1 0h3m-1 0h3m1 0h3m0 0h3m-1 0h3m-2 0h3m13 0h3m4 0h3m-1 0h3m7 0h3m11 0h3m19 0h3m6 0h3m4 0h3m8 0h3m0 0h3m3 0h3m4 0h3m1 0h3m4 0h3m10 0h3m10 0h3m5 0h3m5 0h3m-1 0h3m1 0h3m16 0h3m-228 1h3m-1 0h3m2 0h3m-1 0h3m-1 0h3m2 0h3m0 0h3m6 0h3m5 0h3m-2 0h3m-1 0h3m-1 0h3m1 0h3m4 0h3m2 0h3m2 0h3m-2 0h3m4 0h3m14 0h3m23 0h3m0 0h3m5 0h3m2 0h3m6 0h3m-1 0h3m0 0h3m3 0h3m1 0h3m1 0h3m2 0h3m0 0h3m-2 0h3m6 0h3m3 0h3m0 0h3m2 0h3m5 0h3m6 0h3m1 0h3m-202 1h3m-1 0h3m-2 0h3m0 0h3m6 0h3m23 0h3m13 0h3m5 0h3m7 0h3m14 0h3m3 0h3m7 0h3m0 0h3m-2 0h3m1 0h3m2 0h3m0 0h3m-2 0h3m-2 0h3m5 0h3m-1 0h3m0 0h3m3 0h3m3 0h3m6 0h3m-1 0h3m-1 0h3m0 0h3m3 0h3m0 0h3m1 0h3m-2 0h3m3 0h3m0 0h3m-1 0h3m-1 0h3m-200 1h3m16 0h3m-1 0h3m1 0h3m-1 0h3m3 0h3m-1 0h3m1 0h3m5 0h3m4 0h3m4 0h3m0 0h3m10 0h3m-2 0h3m5 0h3m-2 0h3m1 0h3m-2 0h3m-1 0h3m1 0h3m2 0h3m-2 0h3m-2 0h3m5 0h3m0 0h3m5 0h3m-1 0h3m1 0h3m0 0h3m-1 0h3m9 0h3m-2 0h3m6 0h3m-1 0h3m3 0h3m1 0h3m1 0h3m5 0h3m7 0h3m6 0h3m-195 1h3m3 0h3m-2 0h3m3 0h3m2 0h3m-1 0h3m6 0h3m1 0h3m-2 0h3m-2 0h3m-1 0h3m-2 0h3m-2 0h3m-2 0h3m0 0h3m10 0h3m-1 0h3m9 0h3m6 0h3m0 0h3m5 0h3m4 0h3m-1 0h3m-2 0h3m2 0h3m2 0h3m-1 0h3m-1 0h3m6 0h3m2 0h3m-1 0h3m4 0h3m3 0h3m-1 0h3m6 0h3m12 0h3m4 0h3m-2 0h3m-2 0h3m-196 1h3m7 0h3m2 0h3m12 0h3m2 0h3m2 0h3m-2 0h3m0 0h3m-1 0h3m11 0h3m4 0h3m7 0h3m21 0h3m5 0h3m-1 0h3m1 0h3m5 0h3m8 0h3m-1 0h3m1 0h3m-2 0h3m0 0h3m10 0h3m1 0h3m1 0h3m-1 0h3m1 0h3m6 0h3m-1 0h3m-1 0h3m0 0h3m-1 0h3m1 0h3m3 0h3m0 0h3m12 0h3m-202 1h3m3 0h3m-1 0h3m3 0h3m8 0h3m7 0h3m-1 0h3m-1 0h3m4 0h3m4 0h3m10 0h3m5 0h3m0 0h3m7 0h3m-1 0h3m3 0h3m-2 0h3m1 0h3m-2 0h3m5 0h3m0 0h3m-2 0h3m-2 0h3m6 0h3m3 0h3m-2 0h3m-1 0h3m1 0h3m-2 0h3m5 0h3m3 0h3m-1 0h3m0 0h3m-1 0h3m0 0h3m7 0h3m-1 0h3m7 0h3m-2 0h3m5 0h3m-2 0h3m-208 1h3m-1 0h3m-2 0h3m3 0h3m6 0h3m19 0h3m32 0h3m32 0h3m-1 0h3m4 0h3m6 0h3m0 0h3m0 0h3m7 0h3m2 0h3m2 0h3m2 0h3m-1 0h3m0 0h3m6 0h3m1 0h3m-2 0h3m5 0h3m7 0h3m1 0h3m-197 1h3m11 0h3m0 0h3m-2 0h3m1 0h3m-1 0h3m-1 0h3m1 0h3m2 0h3m-1 0h3m-1 0h3m3 0h3m5 0h3m4 0h3m21 0h3m-1 0h3m12 0h3m2 0h3m1 0h3m2 0h3m-2 0h3m-2 0h3m-2 0h3m-1 0h3m0 0h3m1 0h3m3 0h3m4 0h3m-2 0h3m-1 0h3m-2 0h3m-1 0h3m2 0h3m2 0h3m5 0h3m-2 0h3m0 0h3m-1 0h3m-1 0h3m5 0h3m-1 0h3m-2 0h3m-192 1h3m0 0h3m15 0h3m-2 0h3m-1 0h3m-2 0h3m10 0h3m1 0h3m9 0h3m4 0h3m16 0h3m2 0h3m12 0h3m6 0h3m-1 0h3m4 0h3m1 0h3m2 0h3m1 0h3m3 0h3m1 0h3m-1 0h3m-2 0h3m14 0h3m0 0h3m-1 0h3m4 0h3m5 0h3m1 0h3m-2 0h3m-1 0h3m3 0h3m-185 1h3m0 0h3m1 0h3m5 0h3m0 0h3m1 0h3m-2 0h3m1 0h3m4 0h3m1 0h3m2 0h3m13 0h3m2 0h3m7 0h3m20 0h3m2 0h3m-2 0h3m2 0h3m3 0h3m-1 0h3m2 0h3m13 0h3m5 0h3m-2 0h3m4 0h3m10 0h3m-1 0h3m17 0h3m17 0h3m-205 1h3m5 0h3m-1 0h3m-2 0h3m6 0h3m0 0h3m1 0h3m0 0h3m-2 0h3m0 0h3m0 0h3m10 0h3m21 0h3m4 0h3m13 0h3m13 0h3m1 0h3m5 0h3m-2 0h3m1 0h3m-1 0h3m-1 0h3m0 0h3m-2 0h3m2 0h3m3 0h3m3 0h3m15 0h3m-198 1h3m5 0h3m9 0h3m5 0h3m14 0h3m13 0h3m2 0h3m-1 0h3m7 0h3m-1 0h3m16 0h3m-2 0h3m0 0h3m1 0h3m11 0h3m-1 0h3m-1 0h3m2 0h3m-1 0h3m-2 0h3m-2 0h3m4 0h3m-1 0h3m4 0h3m21 0h3m-2 0h3m4 0h3m1 0h3m-2 0h3m1 0h3m-193 1h3m3 0h3m1 0h3m0 0h3m1 0h3m15 0h3m9 0h3m1 0h3m0 0h3m-1 0h3m-1 0h3m-1 0h3m8 0h3m0 0h3m12 0h3m1 0h3m12 0h3m1 0h3m0 0h3m2 0h3m-2 0h3m0 0h3m7 0h3m1 0h3m7 0h3m2 0h3m-1 0h3m-1 0h3m6 0h3m0 0h3m-2 0h3m5 0h3m8 0h3m1 0h3m3 0h3m6 0h3m-188 1h3m3 0h3m-2 0h3m0 0h3m-2 0h3m5 0h3m0 0h3m10 0h3m1 0h3m-1 0h3m9 0h3m5 0h3m7 0h3m1 0h3m11 0h3m12 0h3m-2 0h3m4 0h3m7 0h3m2 0h3m-1 0h3m3 0h3m1 0h3m2 0h3m2 0h3m4 0h3m0 0h3m1 0h3m-1 0h3m1 0h3m-198 1h3m6 0h3m17 0h3m-2 0h3m16 0h3m1 0h3m5 0h3m4 0h3m0 0h3m1 0h3m15 0h3m0 0h3m5 0h3m-1 0h3m1 0h3m1 0h3m7 0h3m-1 0h3m2 0h3m1 0h3m15 0h3m2 0h3m1 0h3m0 0h3m1 0h3m13 0h3m-2 0h3m5 0h3m2 0h3m4 0h3m-196 1h3m5 0h3m4 0h3m1 0h3m8 0h3m-2 0h3m3 0h3m4 0h3m3 0h3m0 0h3m-1 0h3m-1 0h3m6 0h3m9 0h3m5 0h3m9 0h3m-2 0h3m1 0h3m1 0h3m-2 0h3m0 0h3m3 0h3m0 0h3m5 0h3m4 0h3m11 0h3m7 0h3m-1 0h3m0 0h3m-2 0h3m-1 0h3m5 0h3m-1 0h3m1 0h3m1 0h3m3 0h3m2 0h3m-188 1h3m3 0h3m3 0h3m5 0h3m0 0h3m-2 0h3m5 0h3m4 0h3m-1 0h3m12 0h3m23 0h3m0 0h3m-2 0h3m2 0h3m-2 0h3m4 0h3m1 0h3m1 0h3m0 0h3m8 0h3m-1 0h3m2 0h3m3 0h3m5 0h3m0 0h3m0 0h3m4 0h3m17 0h3m-2 0h3m2 0h3m-189 1h3m-2 0h3m7 0h3m2 0h3m1 0h3m-1 0h3m6 0h3m-2 0h3m-2 0h3m0 0h3m3 0h3m-2 0h3m12 0h3m14 0h3m17 0h3m8 0h3m-1 0h3m6 0h3m-1 0h3m8 0h3m2 0h3m-1 0h3m0 0h3m-2 0h3m3 0h3m2 0h3m5 0h3m1 0h3m17 0h3m-2 0h3m-201 1h3m15 0h3m1 0h3m7 0h3m-1 0h3m11 0h3m4 0h3m0 0h3m-1 0h3m0 0h3m-2 0h3m12 0h3m8 0h3m7 0h3m9 0h3m4 0h3m9 0h3m1 0h3m2 0h3m0 0h3m-2 0h3m-1 0h3m-2 0h3m1 0h3m1 0h3m0 0h3m7 0h3m2 0h3m1 0h3m1 0h3m3 0h3m-1 0h3m-194 1h3m23 0h3m12 0h3m10 0h3m19 0h3m8 0h3m14 0h3m15 0h3m-2 0h3m3 0h3m-2 0h3m1 0h3m8 0h3m6 0h3m4 0h3m16 0h3m1 0h3m1 0h3m-2 0h3m4 0h3m-1 0h3m-192 1h3m7 0h3m0 0h3m0 0h3m2 0h3m-1 0h3m17 0h3m11 0h3m3 0h3m46 0h3m7 0h3m0 0h3m4 0h3m1 0h3m5 0h3m8 0h3m3 0h3m-1 0h3m0 0h3m-2 0h3m2 0h3m1 0h3m0 0h3m-169 1h3m4 0h3m9 0h3m1 0h3m0 0h3m12 0h3m8 0h3m1 0h3m36 0h3m-2 0h3m-1 0h3m-2 0h3m1 0h3m12 0h3m6 0h3m5 0h3m-2 0h3m-2 0h3m-2 0h3m14 0h3m-2 0h3m3 0h3m30 0h3m-203 1h3m6 0h3m0 0h3m0 0h3m4 0h3m3 0h3m4 0h3m3 0h3m55 0h3m16 0h3m10 0h3m2 0h3m2 0h3m12 0h3m9 0h3m14 0h3m-198 1h3m29 0h3m2 0h3m-2 0h3m13 0h3m5 0h3m0 0h3m15 0h3m3 0h3m1 0h3m5 0h3m4 0h3m8 0h3m0 0h3m11 0h3m9 0h3m1 0h3m-1 0h3m4 0h3m-2 0h3m0 0h3m12 0h3m-193 1h3m23 0h3m5 0h3m0 0h3m-1 0h3m21 0h3m11 0h3m3 0h3m15 0h3m5 0h3m0 0h3m12 0h3m3 0h3m3 0h3m3 0h3m1 0h3m-1 0h3m25 0h3m0 0h3m0 0h3m-176 1h3m-1 0h3m3 0h3m12 0h3m29 0h3m2 0h3m5 0h3m-1 0h3m15 0h3m14 0h3m12 0h3m7 0h3m2 0h3m5 0h3m38 0h3m-176 1h3m11 0h3m26 0h3m-2 0h3m-1 0h3m27 0h3m25 0h3m5 0h3m7 0h3m-1 0h3m8 0h3m3 0h3m0 0h3m1 0h3m2 0h3m5 0h3m-167 1h3m8 0h3m3 0h3m0 0h3m62 0h3m32 0h3m7 0h3m19 0h3m5 0h3m3 0h3m-2 0h3m-1 0h3m-189 1h3m21 0h3m19 0h3m17 0h3m9 0h3m19 0h3m11 0h3m34 0h3m-2 0h3m-1 0h3m17 0h3m18 0h3m26 0h3m-229 1h3m111 0h3m9 0h3m3 0h3m7 0h3m1 0h3m-1 0h3m8 0h3m2 0h3m0 0h3m0 0h3m4 0h3m2 0h3m-145 1h3m6 0h3m-2 0h3m-2 0h3m31 0h3m-2 0h3m40 0h3m3 0h3m18 0h3m14 0h3m7 0h3m-181 1h3m17 0h3m41 0h3m79 0h3m14 0h3m5 0h3m-172 1h3m23 0h3m19 0h3m-1 0h3m0 0h3m21 0h3m19 0h3m2 0h3m41 0h3m15 0h3m8 0h3m-106 1h3m-2 0h3m34 0h3m17 0h3m24 0h3m29 0h3m-160 1h3m4 0h3m9 0h3m1 0h3m30 0h3m21 0h3m18 0h3m25 0h3m2 0h3m5 0h3m-159 1h3m74 0h3m21 0h3m18 0h3m29 0h3m10 0h3m-128 1h3m42 0h3m53 0h3m-131 1h3m3 0h3m53 0h3m17 0h3m11 0h3m24 0h3m-143 1h3m53 0h3m47 0h3m55 0h3m-175 1h3m27 0h3m38 0h3m23 0h3m58 0h3m19 0h3m2 0h3m2 0h3m-187 1h3m117 0h3m31 0h3m3 0h3m-171 1h3m3 0h3m25 0h3m20 0h3m90 0h3m-124 1h3m96 0h3m-128 1h3m27 0h3m47 0h3m-88 1h3m39 0h3m11 0h3m7 0h3m21 0h3m7 0h3m-91 1h3m4 0h3m0 0h3m33 0h3m128 0h3m-186 1h3m69 0h3m25 0h3m51 0h3m-120 1h3m4 0h3m10 0h3m26 0h3m-18 1h3m-77 1h3m45 0h3m67 0h3m-130 1h3m3 1h3m69 0h3m59 0h3m-125 1h3m145 0h3m42 0h3m-122 1h3m-19 1h3m-5 2h3m60 0h3m17 0h3m-73 1h3m70 0h3m-70 1h3m-48 1h3m72 0h3m1 0h3m-76 1h3m90 1h3m43 0h3m-64 4h3m-122 1h3m3 1h3m65 0h3m-72 1h3m191 1h3m-203 1h3m7 0h3m4 0h3m77 4h3m-77 2h3m3 2h3m0 0h3m58 1h3m-24 1h3m-62 3h3m28 1h3m-28 1h3m-28 1h3m46 3h3m54 16h3"/><path stroke="#1c46f0" stroke-width="3.2" d="M743 102h3m-89 16h3m29 4h3m19 0h3m-17 1h3m-18 4h3m41 0h3m205 1h3m-264 3h3m45 1h3m-31 1h3m7 4h3m265 3h3m5 1h3m-12 2h3m-34 2h3m-2 3h3m-52 3h3m41 1h3m36 6h3m-28 6h3m23 1h3m-2 0h3m-34 2h3m-16 5h3m5 3h3m-7 1h3m-7 2h3m5 0h3m8 0h3m-1 2h3m-43 1h3m24 1h3m13 1h3m-9 1h3m31 2h3m-99 2h3m15 2h3m20 1h3m-23 2h3m25 1h3m-69 2h3m33 0h3m11 3h3m-7 2h3m-28 1h3m11 2h3m-10 3h3m40 1h3m-2 0h3m-46 7h3m24 0h3m-26 2h3m11 2h3m30 0h3m-59 1h3m26 1h3m-24 2h3m0 1h3m4 0h3m19 0h3m-30 1h3m6 1h3m15 3h3m27 1h3m-63 2h3m22 0h3m-53 2h3m13 2h3m2 0h3m5 1h3m-15 1h3m7 0h3m-5 1h3m-17 2h3m10 0h3m-20 2h3m12 0h3m4 0h3m-17 3h3m-8 3h3m27 1h3m7 0h3m-40 1h3m12 0h3m-31 11h3m2 5h3m-5 4h3m-15 12h3"/><path stroke="#1c46f0" stroke-width="3.2" d="M875 60h3m-36 9h3m37 3h3m-10 1h3m4 1h3m-28 3h3m19 2h3m-2 0h3m6 0h3m-57 1h3m15 1h3m5 0h3m5 0h3m12 0h3m2 0h3m-26 1h3m13 0h3m10 0h3m-1 0h3m-29 1h3m2 0h3m10 1h3m-16 2h3m-1 0h3m-47 1h3m23 0h3m19 0h3m-31 1h3m7 0h3m3 0h3m2 0h3m11 0h3m-24 1h3m-27 1h3m5 0h3m20 0h3m0 0h3m1 0h3m0 0h3m-58 1h3m40 0h3m10 0h3m-19 1h3m5 0h3m-63 1h3m27 0h3m21 0h3m-1 0h3m8 0h3m-24 1h3m-1 0h3m3 0h3m12 0h3m-56 1h3m12 0h3m8 0h3m11 0h3m0 0h3m-46 1h3m20 0h3m10 0h3m6 0h3m-69 1h3m31 0h3m15 0h3m-1 0h3m-32 1h3m6 0h3m7 0h3m13 0h3m8 0h3m-27 1h3m5 0h3m1 0h3m-1 0h3m6 0h3m3 0h3m-62 1h3m29 0h3m1 0h3m2 0h3m6 0h3m-55 1h3m25 0h3m-2 0h3m0 0h3m2 0h3m1 0h3m19 0h3m30 1h3m-102 1h3m13 0h3m8 0h3m-1 0h3m20 0h3m-59 1h3m20 0h3m19 0h3m12 0h3m1 0h3m3 0h3m-59 1h3m1 0h3m3 0h3m6 0h3m10 0h3m3 0h3m0 0h3m-28 1h3m-2 0h3m4 0h3m0 0h3m-1 0h3m8 0h3m-43 1h3m-1 0h3m16 0h3m-2 0h3m35 0h3m-71 1h3m0 0h3m3 0h3m51 0h3m-54 1h3m3 0h3m1 0h3m3 0h3m-1 0h3m9 0h3m8 0h3m-66 1h3m-2 0h3m11 0h3m12 0h3m-15 1h3m5 0h3m4 0h3m5 0h3m2 0h3m-39 1h3m11 0h3m-24 1h3m18 0h3m1 0h3m4 0h3m13 0h3m-51 1h3m3 0h3m9 0h3m9 0h3m1 0h3m-1 0h3m6 0h3m6 0h3m-69 1h3m11 0h3m3 0h3m21 0h3m1 0h3m8 0h3m0 0h3m-2 0h3m-60 1h3m-2 0h3m16 0h3m1 0h3m0 0h3m-1 0h3m-2 0h3m6 0h3m3 0h3m-68 1h3m9 0h3m24 0h3m-2 0h3m2 0h3m3 0h3m8 0h3m13 0h3m29 0h3m-84 1h3m10 0h3m10 0h3m-40 1h3m34 0h3m-2 0h3m1 0h3m10 0h3m-61 1h3m21 0h3m4 0h3m0 0h3m41 0h3m-100 1h3m26 0h3m1 0h3m1 0h3m4 0h3m7 0h3m16 0h3m-2 0h3m-34 1h3m0 0h3m0 0h3m18 0h3m-53 1h3m3 0h3m-2 0h3m12 0h3m0 0h3m31 0h3m-67 1h3m0 0h3m9 0h3m2 0h3m-36 1h3m19 0h3m0 0h3m-1 0h3m0 0h3m3 0h3m0 0h3m-1 0h3m-1 0h3m-16 1h3m21 0h3m0 0h3m-39 1h3m3 0h3m4 0h3m2 0h3m13 0h3m-44 1h3m6 0h3m4 0h3m10 0h3m13 0h3m-1 0h3m-30 1h3m0 0h3m9 0h3m-52 1h3m1 0h3m12 0h3m16 0h3m1 0h3m6 0h3m3 0h3m-38 1h3m-1 0h3m22 0h3m7 0h3m-64 1h3m28 0h3m7 0h3m-17 1h3m0 0h3m2 0h3m0 0h3m6 0h3m-31 1h3m24 0h3m-52 1h3m20 0h3m5 0h3m13 0h3m3 0h3m-36 1h3m25 0h3m-35 1h3m14 0h3m17 0h3m-58 1h3m1 0h3m11 0h3m6 0h3m-1 0h3m0 0h3m12 0h3m-1 0h3m-44 1h3m22 0h3m-1 0h3m7 0h3m-43 1h3m2 0h3m14 0h3m-1 0h3m2 0h3m13 0h3m0 0h3m-32 1h3m0 0h3m2 0h3m-21 1h3m4 0h3m1 0h3m2 0h3m21 0h3m-38 1h3m-1 0h3m-13 1h3m4 0h3m9 0h3m1 0h3m15 0h3m5 0h3m-49 1h3m15 0h3m3 0h3m6 0h3m-24 1h3m6 0h3m-24 1h3m8 0h3m-2 0h3m-1 0h3m21 0h3m-42 1h3m23 0h3m-9 1h3m0 1h3m-21 1h3m13 0h3m-23 1h3m-2 0h3m-11 1h3m0 0h3m44 0h3m-38 1h3m15 0h3m-53 1h3m33 0h3m4 0h3m-3 1h3m3 0h3m0 0h3m-1 0h3m-25 1h3m16 0h3m-16 1h3m1 0h3m-14 1h3m-2 0h3m4 0h3m15 0h3m-34 3h3m11 0h3m-1 0h3m-22 2h3m-2 0h3m7 0h3m-6 1h3m-5 1h3m-18 2h3m3 1h3"/><path stroke="#f000f0" stroke-width="3.2" d="M942 20h3m2 15h3m-58 6h3m-1 2h3m11 1h3m4 0h3m17 0h3m-52 6h3m54 0h3m-85 1h3m32 0h3m32 1h3m-46 1h3m24 0h3m2 0h3m13 0h3m-2 0h3m-21 1h3m-59 1h3m16 0h3m19 1h3m-65 1h3m62 0h3m19 0h3m-20 1h3m8 0h3m5 0h3m-46 1h3m0 0h3m18 0h3m2 0h3m19 0h3m-92 1h3m29 0h3m1 0h3m7 0h3m2 0h3m31 0h3m-2 0h3m-92 1h3m1 0h3m30 0h3m30 0h3m4 0h3m0 0h3m4 0h3m-68 1h3m20 0h3m2 0h3m14 0h3m-2 0h3m-55 1h3m9 0h3m11 0h3m-1 0h3m1 0h3m3 0h3m-2 0h3m-2 0h3m-60 1h3m57 0h3m-2 0h3m6 0h3m-42 1h3m-1 0h3m7 0h3m-1 0h3m4 0h3m23 0h3m8 0h3m-76 1h3m-2 0h3m11 0h3m7 0h3m5 0h3m9 0h3m15 0h3m-114 1h3m51 0h3m-1 0h3m19 0h3m6 0h3m0 0h3m4 0h3m-67 1h3m2 0h3m7 0h3m26 0h3m1 0h3m4 0h3m9 0h3m14 0h3m-102 1h3m17 0h3m9 0h3m0 0h3m-2 0h3m3 0h3m1 0h3m1 0h3m2 0h3m7 0h3m5 0h3m18 0h3m-99 1h3m11 0h3m29 0h3m0 0h3m-1 0h3m-1 0h3m2 0h3m20 0h3m9 0h3m6 0h3m-2 0h3m-1 0h3m-56 1h3m0 0h3m2 0h3m21 0h3m1 0h3m-2 0h3m58 0h3m-146 1h3m9 0h3m2 0h3m9 0h3m2 0h3m17 0h3m-1 0h3m31 0h3m-118 1h3m9 0h3m33 0h3m2 0h3m30 0h3m27 0h3m0 0h3m-94 1h3m-2 0h3m8 0h3m6 0h3m-2 0h3m-1 0h3m14 0h3m6 0h3m34 0h3m3 0h3m4 0h3m2 0h3m-120 1h3m0 0h3m2 0h3m13 0h3m50 0h3m10 0h3m-76 1h3m8 0h3m3 0h3m4 0h3m7 0h3m4 0h3m4 0h3m1 0h3m8 0h3m0 0h3m5 0h3m20 0h3m3 0h3m-129 1h3m10 0h3m8 0h3m8 0h3m10 0h3m23 0h3m51 0h3m-117 1h3m13 0h3m6 0h3m1 0h3m6 0h3m0 0h3m5 0h3m-1 0h3m32 0h3m2 0h3m8 0h3m-97 1h3m0 0h3m7 0h3m7 0h3m19 0h3m-1 0h3m26 0h3m-99 1h3m23 0h3m0 0h3m14 0h3m14 0h3m7 0h3m2 0h3m9 0h3m12 0h3m19 0h3m-124 1h3m14 0h3m1 0h3m4 0h3m10 0h3m-1 0h3m1 0h3m0 0h3m3 0h3m4 0h3m5 0h3m14 0h3m17 0h3m-90 1h3m8 0h3m3 0h3m36 0h3m0 0h3m7 0h3m17 0h3m-2 0h3m-97 1h3m19 0h3m0 0h3m27 0h3m7 0h3m26 0h3m-126 1h3m32 0h3m14 0h3m8 0h3m32 0h3m-1 0h3m7 0h3m2 0h3m2 0h3m3 0h3m-1 0h3m-124 1h3m5 0h3m-1 0h3m0 0h3m5 0h3m1 0h3m9 0h3m2 0h3m23 0h3m22 0h3m25 0h3m1 0h3m-138 1h3m0 0h3m17 0h3m2 0h3m1 0h3m13 0h3m2 0h3m12 0h3m42 0h3m0 0h3m-2 0h3m26 0h3m-151 1h3m7 0h3m-1 0h3m2 0h3m5 0h3m11 0h3m7 0h3m-1 0h3m2 0h3m74 0h3m-128 1h3m16 0h3m6 0h3m5 0h3m10 0h3m8 0h3m-1 0h3m27 0h3m21 0h3m-1 0h3m-113 1h3m12 0h3m32 0h3m17 0h3m1 0h3m8 0h3m24 0h3m-123 1h3m0 0h3m8 0h3m0 0h3m-2 0h3m3 0h3m3 0h3m47 0h3m5 0h3m13 0h3m-124 1h3m26 0h3m4 0h3m0 0h3m0 0h3m39 0h3m-1 0h3m39 0h3m-128 1h3m-1 0h3m11 0h3m4 0h3m8 0h3m31 0h3m13 0h3m0 0h3m26 0h3m14 0h3m-125 1h3m9 0h3m2 0h3m6 0h3m26 0h3m22 0h3m16 0h3m-109 1h3m1 0h3m18 0h3m0 0h3m5 0h3m3 0h3m48 0h3m-1 0h3m0 0h3m2 0h3m1 0h3m2 0h3m17 0h3m-111 1h3m21 0h3m17 0h3m35 0h3m4 0h3m1 0h3m7 0h3m-134 1h3m0 0h3m6 0h3m-2 0h3m8 0h3m2 0h3m-1 0h3m34 0h3m13 0h3m29 0h3m-104 1h3m-2 0h3m-1 0h3m0 0h3m5 0h3m11 0h3m2 0h3m10 0h3m19 0h3m22 0h3m1 0h3m0 0h3m-129 1h3m5 0h3m27 0h3m5 0h3m16 0h3m29 0h3m-1 0h3m10 0h3m2 0h3m14 0h3m-114 1h3m19 0h3m9 0h3m4 0h3m16 0h3m0 0h3m11 0h3m9 0h3m2 0h3m6 0h3m3 0h3m5 0h3m-130 1h3m0 0h3m9 0h3m-2 0h3m-2 0h3m25 0h3m5 0h3m19 0h3m-58 1h3m7 0h3m3 0h3m41 0h3m7 0h3m7 0h3m4 0h3m-1 0h3m14 0h3m2 0h3m-133 1h3m18 0h3m0 0h3m4 0h3m45 0h3m2 0h3m37 0h3m-141 1h3m-2 0h3m11 0h3m6 0h3m31 0h3m13 0h3m13 0h3m9 0h3m20 0h3m3 0h3m-1 0h3m-127 1h3m12 0h3m24 0h3m15 0h3m41 0h3m7 0h3m8 0h3m7 0h3m1 0h3m-145 1h3m22 0h3m4 0h3m21 0h3m13 0h3m26 0h3m1 0h3m10 0h3m-125 1h3m51 0h3m15 0h3m8 0h3m3 0h3m15 0h3m2 0h3m2 0h3m13 0h3m6 0h3m-131 1h3m16 0h3m2 0h3m10 0h3m46 0h3m2 0h3m27 0h3m1 0h3m-156 1h3m18 0h3m21 0h3m1 0h3m5 0h3m4 0h3m21 0h3m9 0h3m-1 0h3m2 0h3m28 0h3m-109 1h3m-1 0h3m5 0h3m18 0h3m50 0h3m6 0h3m6 0h3m-124 1h3m-2 0h3m20 0h3m16 0h3m28 0h3m12 0h3m32 0h3m1 0h3m-42 1h3m0 0h3m1 0h3m9 0h3m19 0h3m-123 1h3m18 0h3m0 0h3m6 0h3m37 0h3m19 0h3m4 0h3m-1 0h3m-1 0h3m15 0h3m-125 1h3m49 0h3m0 0h3m5 0h3m1 0h3m13 0h3m11 0h3m9 0h3m17 0h3m-141 1h3m6 0h3m0 0h3m0 0h3m-1 0h3m13 0h3m53 0h3m16 0h3m0 0h3m-122 1h3m73 0h3m0 0h3m20 0h3m19 0h3m-122 1h3m1 0h3m-2 0h3m1 0h3m78 0h3m7 0h3m0 0h3m-75 1h3m8 0h3m31 0h3m7 0h3m2 0h3m2 0h3m0 0h3m9 0h3m-118 1h3m11 0h3m13 0h3m0 0h3m62 0h3m12 0h3m2 0h3m4 0h3m3 0h3m5 0h3m9 0h3m-142 1h3m8 0h3m21 0h3m20 0h3m4 0h3m7 0h3m6 0h3m2 0h3m-1 0h3m9 0h3m2 0h3m1 0h3m-114 1h3m13 0h3m42 0h3m9 0h3m17 0h3m17 0h3m-127 1h3m24 0h3m54 0h3m0 0h3m0 0h3m-2 0h3m3 0h3m7 0h3m9 0h3m0 0h3m4 0h3m-116 1h3m-2 0h3m3 0h3m30 0h3m17 0h3m17 0h3m9 0h3m1 0h3m6 0h3m2 0h3m10 0h3m-129 1h3m49 0h3m34 0h3m-2 0h3m2 0h3m2 0h3m-2 0h3m-2 0h3m9 0h3m-136 1h3m15 0h3m42 0h3m1 0h3m-1 0h3m0 0h3m-1 0h3m36 0h3m1 0h3m2 0h3m8 0h3m-124 1h3m16 0h3m13 0h3m10 0h3m4 0h3m1 0h3m26 0h3m11 0h3m19 0h3m-132 1h3m26 0h3m10 0h3m46 0h3m34 0h3m-139 1h3m9 0h3m2 0h3m-2 0h3m42 0h3m26 0h3m4 0h3m4 0h3m13 0h3m-115 1h3m57 0h3m3 0h3m16 0h3m6 0h3m9 0h3m-27 1h3m4 0h3m2 0h3m11 0h3m20 0h3m2 0h3m-131 1h3m33 0h3m30 0h3m-1 0h3m12 0h3m2 0h3m-107 1h3m23 0h3m18 0h3m10 0h3m11 0h3m14 0h3m2 0h3m1 0h3m3 0h3m14 0h3m-133 1h3m6 0h3m13 0h3m35 0h3m12 0h3m3 0h3m9 0h3m-113 1h3m82 0h3m3 0h3m18 0h3m6 0h3m-22 1h3m5 0h3m3 0h3m-35 1h3m5 0h3m1 0h3m-1 0h3m1 0h3m-48 1h3m13 0h3m-1 0h3m26 0h3m-1 0h3m14 0h3m14 0h3m9 0h3m-103 1h3m18 0h3m2 0h3m12 0h3m20 0h3m-2 0h3m1 0h3m8 0h3m-109 1h3m25 0h3m12 0h3m-2 0h3m2 0h3m-1 0h3m9 0h3m-1 0h3m4 0h3m-1 0h3m10 0h3m6 0h3m11 0h3m0 0h3m-101 1h3m15 0h3m21 0h3m1 0h3m5 0h3m5 0h3m0 0h3m-1 0h3m7 0h3m7 0h3m-51 1h3m29 0h3m10 0h3m4 0h3m-87 1h3m13 0h3m-2 0h3m4 0h3m24 0h3m0 0h3m-1 0h3m5 0h3m20 0h3m-101 1h3m28 0h3m6 0h3m17 0h3m15 0h3m0 0h3m-2 0h3m-1 0h3m6 0h3m-65 1h3m9 0h3m17 0h3m5 0h3m-1 0h3m13 0h3m-48 1h3m-1 0h3m4 0h3m18 0h3m1 0h3m8 0h3m-69 1h3m0 0h3m8 0h3m16 0h3m-24 1h3m-1 0h3m5 0h3m4 0h3m4 0h3m8 0h3m4 0h3m0 0h3m0 0h3m-89 1h3m3 0h3m26 0h3m22 0h3m4 0h3m-2 0h3m4 0h3m-36 1h3m-36 1h3m12 0h3m10 0h3m-1 0h3m3 0h3m13 0h3m4 0h3m6 0h3m0 0h3m-35 1h3m0 0h3m0 0h3m2 0h3m4 0h3m1 0h3m7 0h3m2 0h3m-55 1h3m9 0h3m47 0h3m4 0h3m-84 1h3m15 0h3m9 0h3m23 0h3m15 0h3m-82 1h3m4 0h3m-2 0h3m6 0h3m22 0h3m4 0h3m12 0h3m-46 1h3m3 0h3m-2 0h3m4 0h3m10 0h3m14 0h3m-80 1h3m8 0h3m0 0h3m1 0h3m2 0h3m26 0h3m12 0h3m32 0h3m-77 1h3m4 0h3m4 0h3m-2 0h3m31 0h3m-73 1h3m16 0h3m8 0h3m5 0h3m-1 0h3m9 0h3m-1 0h3m19 0h3m-84 1h3m23 0h3m-1 0h3m3 0h3m3 0h3m7 0h3m16 0h3m-1 0h3m10 0h3m21 0h3m-96 1h3m1 0h3m3 0h3m2 0h3m3 0h3m-1 0h3m11 0h3m3 0h3m-56 1h3m13 0h3m-1 0h3m-2 0h3m12 0h3m6 0h3m0 0h3m-2 0h3m1 0h3m2 0h3m3 0h3m26 0h3m2 0h3m-106 1h3m9 0h3m7 0h3m3 0h3m11 0h3m28 0h3m-75 1h3m5 0h3m3 0h3m-2 0h3m3 0h3m9 0h3m-2 0h3m9 0h3m-1 0h3m1 0h3m22 0h3m4 0h3m-66 1h3m-1 0h3m4 0h3m3 0h3m23 0h3m2 0h3m-44 1h3m11 0h3m0 0h3m0 0h3m8 0h3m1 0h3m-52 1h3m22 0h3m-1 0h3m10 0h3m9 0h3m6 0h3m-83 1h3m6 0h3m3 0h3m8 0h3m6 0h3m2 0h3m1 0h3m5 0h3m0 0h3m-1 0h3m-44 1h3m4 0h3m5 0h3m8 0h3m2 0h3m3 0h3m12 0h3m2 0h3m-70 1h3m-2 0h3m9 0h3m0 0h3m-1 0h3m31 0h3m-44 1h3m4 0h3m5 0h3m1 0h3m3 0h3m2 0h3m1 0h3m-40 1h3m6 0h3m-1 0h3m19 0h3m14 0h3m-72 1h3m0 0h3m25 0h3m6 0h3m3 0h3m0 0h3m-73 1h3m32 0h3m7 0h3m10 0h3m-1 0h3m13 0h3m-1 0h3m11 0h3m2 0h3m-73 1h3m10 0h3m-1 0h3m24 0h3m14 0h3m17 0h3m-89 1h3m19 0h3m2 0h3m13 0h3m7 0h3m30 0h3m-79 1h3m22 0h3m3 0h3m4 0h3m7 0h3m0 0h3m9 0h3m-82 1h3m6 0h3m32 0h3m0 0h3m3 0h3m4 0h3m18 0h3m-60 1h3m3 0h3m-2 0h3m-1 0h3m0 0h3m-1 0h3m-1 0h3m12 0h3m-23 1h3m26 0h3m15 0h3m-71 1h3m4 0h3m26 0h3m3 0h3m-45 1h3m8 0h3m-2 0h3m9 0h3m0 0h3m3 0h3m2 0h3m-23 1h3m1 0h3m23 0h3m14 0h3m-53 1h3m0 0h3m12 0h3m22 0h3m-52 1h3m11 0h3m16 0h3m0 0h3m1 0h3m14 0h3m-76 1h3m9 0h3m19 0h3m-36 1h3m13 0h3m19 0h3m37 0h3m-67 1h3m-1 0h3m39 0h3m-63 1h3m21 0h3m0 0h3m14 0h3m4 0h3m-22 1h3m-16 1h3m13 0h3m1 0h3m-56 1h3m12 0h3m25 0h3m-2 0h3m16 0h3m-43 1h3m-1 0h3m24 0h3m4 0h3m4 0h3m5 0h3m-68 1h3m11 0h3m3 0h3m-2 0h3m10 0h3m1 0h3m-15 1h3m9 0h3m-14 1h3m-33 1h3m34 0h3m-29 1h3m22 0h3m-26 2h3m39 0h3m-58 1h3m37 1h3m-40 1h3m21 0h3m4 1h3m-2 0h3m-26 1h3m0 0h3m9 2h3m15 4h3m-24 1h3m14 1h3"/><path stroke="#1c46f0" stroke-width="3.2" d="M979 26h3m-9 2h3m-19 2h3m-4 2h3m17 0h3m10 0h3m8 0h3m-51 1h3m4 0h3m-15 2h3m-2 2h3m1 0h3m-12 1h3m19 0h3m-10 1h3m10 0h3m4 0h3m-32 1h3m9 0h3m10 0h3m1 0h3m-23 1h3m1 0h3m20 0h3m-36 1h3m0 0h3m10 0h3m1 0h3m-29 1h3m12 0h3m-1 0h3m2 0h3m8 0h3m-31 1h3m7 0h3m4 0h3m-1 0h3m8 0h3m-26 1h3m1 0h3m-23 1h3m-1 0h3m7 0h3m10 0h3m7 0h3m8 0h3m-33 1h3m-2 0h3m3 0h3m5 0h3m-21 1h3m0 0h3m2 0h3m6 0h3m-1 0h3m-26 1h3m14 0h3m-2 0h3m-2 0h3m6 0h3m5 0h3m-38 1h3m5 0h3m1 0h3m-1 0h3m5 0h3m-1 0h3m0 0h3m5 0h3m4 0h3m-60 1h3m10 0h3m5 0h3m5 0h3m-2 0h3m0 0h3m4 0h3m5 0h3m-62 1h3m25 0h3m0 0h3m-1 0h3m6 0h3m6 0h3m-1 0h3m7 0h3m-41 1h3m2 0h3m3 0h3m1 0h3m-1 0h3m0 0h3m-1 0h3m4 0h3m8 0h3m-51 1h3m8 0h3m1 0h3m3 0h3m1 0h3m2 0h3m-2 0h3m7 0h3m-1 0h3m-42 1h3m-1 0h3m0 0h3m4 0h3m5 0h3m0 0h3m2 0h3m0 0h3m-33 1h3m-1 0h3m3 0h3m-2 0h3m-1 0h3m-1 0h3m-2 0h3m31 0h3m-51 1h3m2 0h3m0 0h3m-2 0h3m3 0h3m-1 0h3m5 0h3m1 0h3m18 0h3m-66 1h3m7 0h3m7 0h3m1 0h3m6 0h3m0 0h3m-1 0h3m0 0h3m0 0h3m-1 0h3m-41 1h3m-1 0h3m4 0h3m-2 0h3m1 0h3m3 0h3m5 0h3m0 0h3m0 0h3m1 0h3m1 0h3m2 0h3m-57 1h3m11 0h3m1 0h3m4 0h3m7 0h3m4 0h3m-2 0h3m1 0h3m-39 1h3m4 0h3m2 0h3m-1 0h3m-1 0h3m0 0h3m-2 0h3m15 0h3m0 0h3m-53 1h3m1 0h3m-1 0h3m2 0h3m2 0h3m1 0h3m0 0h3m4 0h3m-2 0h3m-2 0h3m1 0h3m-1 0h3m4 0h3m2 0h3m-2 0h3m1 0h3m6 0h3m0 0h3m-71 1h3m6 0h3m2 0h3m9 0h3m11 0h3m-1 0h3m-46 1h3m2 0h3m14 0h3m2 0h3m11 0h3m0 0h3m-2 0h3m1 0h3m-1 0h3m0 0h3m-2 0h3m-46 1h3m-1 0h3m2 0h3m3 0h3m1 0h3m2 0h3m3 0h3m3 0h3m3 0h3m3 0h3m3 0h3m-74 1h3m13 0h3m5 0h3m0 0h3m-2 0h3m3 0h3m-1 0h3m-1 0h3m2 0h3m-1 0h3m8 0h3m3 0h3m-54 1h3m-1 0h3m3 0h3m-2 0h3m4 0h3m0 0h3m-2 0h3m4 0h3m2 0h3m2 0h3m2 0h3m-46 1h3m12 0h3m1 0h3m8 0h3m12 0h3m8 0h3m-51 1h3m14 0h3m2 0h3m2 0h3m-1 0h3m-2 0h3m-1 0h3m0 0h3m14 0h3m1 0h3m8 0h3m-79 1h3m2 0h3m-1 0h3m3 0h3m2 0h3m2 0h3m2 0h3m-1 0h3m14 0h3m-39 1h3m8 0h3m1 0h3m-2 0h3m1 0h3m-1 0h3m-1 0h3m1 0h3m-1 0h3m-49 1h3m5 0h3m0 0h3m1 0h3m6 0h3m-1 0h3m3 0h3m0 0h3m8 0h3m-2 0h3m-2 0h3m4 0h3m0 0h3m-88 1h3m38 0h3m6 0h3m3 0h3m8 0h3m-1 0h3m-2 0h3m4 0h3m1 0h3m-39 1h3m-1 0h3m1 0h3m2 0h3m2 0h3m0 0h3m9 0h3m-59 1h3m4 0h3m6 0h3m3 0h3m1 0h3m0 0h3m0 0h3m-1 0h3m0 0h3m2 0h3m2 0h3m0 0h3m-1 0h3m7 0h3m2 0h3m-60 1h3m0 0h3m10 0h3m2 0h3m4 0h3m-1 0h3m1 0h3m2 0h3m2 0h3m2 0h3m-54 1h3m13 0h3m3 0h3m0 0h3m0 0h3m0 0h3m10 0h3m-1 0h3m-2 0h3m-2 0h3m8 0h3m-58 1h3m15 0h3m7 0h3m-1 0h3m2 0h3m0 0h3m5 0h3m1 0h3m3 0h3m1 0h3m-56 1h3m3 0h3m-1 0h3m-1 0h3m3 0h3m0 0h3m0 0h3m4 0h3m0 0h3m0 0h3m3 0h3m-54 1h3m4 0h3m7 0h3m-1 0h3m3 0h3m-2 0h3m0 0h3m2 0h3m-1 0h3m3 0h3m9 0h3m14 0h3m-75 1h3m6 0h3m1 0h3m-1 0h3m3 0h3m-1 0h3m7 0h3m4 0h3m5 0h3m15 0h3m-66 1h3m20 0h3m-1 0h3m6 0h3m7 0h3m2 0h3m-1 0h3m10 0h3m-71 1h3m1 0h3m10 0h3m11 0h3m-2 0h3m-1 0h3m4 0h3m3 0h3m1 0h3m2 0h3m4 0h3m-55 1h3m-2 0h3m6 0h3m-2 0h3m-1 0h3m0 0h3m6 0h3m6 0h3m-48 1h3m8 0h3m1 0h3m1 0h3m-2 0h3m10 0h3m2 0h3m0 0h3m7 0h3m-58 1h3m6 0h3m9 0h3m4 0h3m-1 0h3m-2 0h3m4 0h3m4 0h3m0 0h3m0 0h3m0 0h3m0 0h3m-56 1h3m6 0h3m4 0h3m0 0h3m1 0h3m0 0h3m-1 0h3m0 0h3m0 0h3m-2 0h3m0 0h3m-1 0h3m0 0h3m0 0h3m-45 1h3m-2 0h3m7 0h3m0 0h3m4 0h3m2 0h3m-1 0h3m-2 0h3m5 0h3m9 0h3m-45 1h3m-2 0h3m1 0h3m6 0h3m6 0h3m-1 0h3m0 0h3m2 0h3m3 0h3m0 0h3m5 0h3m19 0h3m-83 1h3m-2 0h3m1 0h3m-2 0h3m3 0h3m1 0h3m0 0h3m-1 0h3m0 0h3m-1 0h3m0 0h3m8 0h3m-35 1h3m-1 0h3m0 0h3m2 0h3m2 0h3m1 0h3m2 0h3m0 0h3m6 0h3m0 0h3m1 0h3m-59 1h3m-1 0h3m-1 0h3m7 0h3m3 0h3m15 0h3m-2 0h3m-1 0h3m2 0h3m-40 1h3m4 0h3m-1 0h3m7 0h3m0 0h3m2 0h3m4 0h3m4 0h3m6 0h3m-66 1h3m2 0h3m4 0h3m12 0h3m-1 0h3m-2 0h3m-1 0h3m2 0h3m1 0h3m-1 0h3m2 0h3m-2 0h3m-1 0h3m5 0h3m-60 1h3m12 0h3m-2 0h3m-2 0h3m13 0h3m-1 0h3m6 0h3m13 0h3m-65 1h3m-1 0h3m1 0h3m0 0h3m-2 0h3m0 0h3m7 0h3m3 0h3m-1 0h3m-2 0h3m2 0h3m19 0h3m-70 1h3m9 0h3m-1 0h3m4 0h3m0 0h3m8 0h3m10 0h3m-1 0h3m1 0h3m-1 0h3m14 0h3m-68 1h3m4 0h3m3 0h3m0 0h3m0 0h3m-2 0h3m-1 0h3m-1 0h3m-2 0h3m0 0h3m10 0h3m3 0h3m-1 0h3m3 0h3m-64 1h3m14 0h3m-1 0h3m3 0h3m1 0h3m6 0h3m-2 0h3m8 0h3m-2 0h3m-52 1h3m11 0h3m1 0h3m-1 0h3m-1 0h3m3 0h3m3 0h3m-2 0h3m3 0h3m0 0h3m1 0h3m5 0h3m0 0h3m17 0h3m-72 1h3m0 0h3m8 0h3m0 0h3m1 0h3m-1 0h3m0 0h3m-1 0h3m-1 0h3m-1 0h3m8 0h3m-55 1h3m4 0h3m5 0h3m12 0h3m8 0h3m9 0h3m-43 1h3m-1 0h3m0 0h3m-2 0h3m-1 0h3m0 0h3m0 0h3m-1 0h3m1 0h3m-1 0h3m6 0h3m-1 0h3m0 0h3m13 0h3m-68 1h3m8 0h3m12 0h3m1 0h3m6 0h3m3 0h3m-47 1h3m0 0h3m-1 0h3m4 0h3m0 0h3m9 0h3m-1 0h3m2 0h3m-2 0h3m4 0h3m-38 1h3m6 0h3m-2 0h3m3 0h3m21 0h3m-1 0h3m1 0h3m-82 1h3m20 0h3m2 0h3m1 0h3m-1 0h3m0 0h3m-1 0h3m3 0h3m2 0h3m1 0h3m0 0h3m-2 0h3m-1 0h3m-2 0h3m3 0h3m0 0h3m-1 0h3m-50 1h3m14 0h3m1 0h3m-1 0h3m-2 0h3m0 0h3m0 0h3m5 0h3m-2 0h3m-2 0h3m24 0h3m-64 1h3m6 0h3m1 0h3m3 0h3m3 0h3m-2 0h3m6 0h3m3 0h3m0 0h3m12 0h3m-55 1h3m2 0h3m12 0h3m0 0h3m-2 0h3m0 0h3m0 0h3m2 0h3m-68 1h3m18 0h3m0 0h3m0 0h3m1 0h3m3 0h3m-1 0h3m-2 0h3m1 0h3m-1 0h3m0 0h3m1 0h3m-19 1h3m1 0h3m10 0h3m5 0h3m5 0h3m-63 1h3m6 0h3m3 0h3m4 0h3m1 0h3m4 0h3m0 0h3m0 0h3m4 0h3m-1 0h3m-48 1h3m1 0h3m-1 0h3m1 0h3m3 0h3m11 0h3m13 0h3m4 0h3m-62 1h3m8 0h3m5 0h3m1 0h3m5 0h3m-1 0h3m0 0h3m0 0h3m-2 0h3m2 0h3m8 0h3m-58 1h3m14 0h3m0 0h3m1 0h3m7 0h3m-2 0h3m3 0h3m3 0h3m-2 0h3m1 0h3m13 0h3m-69 1h3m18 0h3m0 0h3m-1 0h3m-1 0h3m-1 0h3m2 0h3m12 0h3m0 0h3m2 0h3m-52 1h3m30 0h3m-2 0h3m2 0h3m-54 1h3m4 0h3m1 0h3m12 0h3m0 0h3m0 0h3m-2 0h3m-2 0h3m0 0h3m3 0h3m9 0h3m-1 0h3m-50 1h3m-1 0h3m3 0h3m6 0h3m-2 0h3m10 0h3m1 0h3m1 0h3m-44 1h3m0 0h3m1 0h3m0 0h3m1 0h3m-2 0h3m-2 0h3m8 0h3m0 0h3m11 0h3m-43 1h3m3 0h3m6 0h3m3 0h3m-2 0h3m1 0h3m1 0h3m1 0h3m-2 0h3m8 0h3m-75 1h3m24 0h3m4 0h3m-2 0h3m-1 0h3m1 0h3m-1 0h3m-2 0h3m3 0h3m4 0h3m17 0h3m-52 1h3m-1 0h3m5 0h3m3 0h3m0 0h3m3 0h3m4 0h3m2 0h3m6 0h3m-72 1h3m1 0h3m5 0h3m-1 0h3m9 0h3m4 0h3m2 0h3m3 0h3m3 0h3m1 0h3m-46 1h3m5 0h3m1 0h3m1 0h3m0 0h3m2 0h3m-2 0h3m3 0h3m0 0h3m8 0h3m-60 1h3m5 0h3m8 0h3m6 0h3m0 0h3m8 0h3m1 0h3m0 0h3m-1 0h3m1 0h3m8 0h3m-62 1h3m10 0h3m-2 0h3m1 0h3m2 0h3m-2 0h3m-2 0h3m-1 0h3m1 0h3m14 0h3m-48 1h3m8 0h3m-1 0h3m9 0h3m-2 0h3m0 0h3m-2 0h3m0 0h3m-1 0h3m28 0h3m-95 1h3m12 0h3m6 0h3m3 0h3m2 0h3m3 0h3m0 0h3m0 0h3m9 0h3m3 0h3m-55 1h3m9 0h3m10 0h3m-1 0h3m1 0h3m4 0h3m1 0h3m3 0h3m-1 0h3m0 0h3m1 0h3m-2 0h3m-68 1h3m3 0h3m9 0h3m3 0h3m1 0h3m0 0h3m1 0h3m8 0h3m4 0h3m2 0h3m-2 0h3m-1 0h3m17 0h3m-74 1h3m2 0h3m5 0h3m-1 0h3m9 0h3m-2 0h3m0 0h3m0 0h3m1 0h3m0 0h3m8 0h3m22 0h3m-67 1h3m7 0h3m3 0h3m4 0h3m-2 0h3m1 0h3m0 0h3m1 0h3m0 0h3m2 0h3m-50 1h3m2 0h3m0 0h3m0 0h3m-2 0h3m3 0h3m1 0h3m-1 0h3m1 0h3m6 0h3m10 0h3m-38 1h3m-2 0h3m3 0h3m4 0h3m4 0h3m1 0h3m0 0h3m6 0h3m-87 1h3m12 0h3m14 0h3m0 0h3m1 0h3m10 0h3m2 0h3m6 0h3m6 0h3m27 0h3m-76 1h3m-1 0h3m3 0h3m-2 0h3m3 0h3m6 0h3m0 0h3m-2 0h3m1 0h3m3 0h3m7 0h3m7 0h3m-55 1h3m7 0h3m-1 0h3m1 0h3m5 0h3m8 0h3m-51 1h3m8 0h3m0 0h3m1 0h3m7 0h3m1 0h3m15 0h3m-64 1h3m-1 0h3m9 0h3m4 0h3m-1 0h3m1 0h3m0 0h3m2 0h3m-1 0h3m3 0h3m-2 0h3m-2 0h3m-1 0h3m1 0h3m-1 0h3m0 0h3m3 0h3m6 0h3m-62 1h3m0 0h3m-1 0h3m-2 0h3m2 0h3m3 0h3m6 0h3m0 0h3m6 0h3m8 0h3m-57 1h3m-1 0h3m3 0h3m4 0h3m-1 0h3m-1 0h3m3 0h3m-2 0h3m1 0h3m2 0h3m-1 0h3m-2 0h3m-1 0h3m1 0h3m3 0h3m3 0h3m-70 1h3m11 0h3m16 0h3m-1 0h3m8 0h3m4 0h3m3 0h3m1 0h3m-1 0h3m-60 1h3m5 0h3m5 0h3m5 0h3m0 0h3m1 0h3m1 0h3m2 0h3m8 0h3m21 0h3m-76 1h3m-1 0h3m7 0h3m-1 0h3m1 0h3m-1 0h3m10 0h3m-2 0h3m-31 1h3m1 0h3m3 0h3m4 0h3m9 0h3m1 0h3m0 0h3m2 0h3m5 0h3m-2 0h3m-64 1h3m5 0h3m3 0h3m3 0h3m4 0h3m3 0h3m2 0h3m2 0h3m2 0h3m-1 0h3m-64 1h3m0 0h3m6 0h3m11 0h3m0 0h3m2 0h3m7 0h3m-1 0h3m1 0h3m-2 0h3m-1 0h3m5 0h3m1 0h3m6 0h3m-81 1h3m11 0h3m5 0h3m10 0h3m-2 0h3m2 0h3m-1 0h3m1 0h3m0 0h3m9 0h3m-1 0h3m8 0h3m-70 1h3m-2 0h3m1 0h3m2 0h3m8 0h3m5 0h3m5 0h3m11 0h3m5 0h3m9 0h3m-92 1h3m24 0h3m3 0h3m0 0h3m-1 0h3m2 0h3m-2 0h3m-1 0h3m1 0h3m1 0h3m4 0h3m1 0h3m3 0h3m-2 0h3m-1 0h3m-1 0h3m6 0h3m-98 1h3m10 0h3m18 0h3m8 0h3m2 0h3m9 0h3m6 0h3m1 0h3m-50 1h3m5 0h3m0 0h3m-2 0h3m3 0h3m4 0h3m1 0h3m1 0h3m1 0h3m-1 0h3m-1 0h3m8 0h3m24 0h3m-83 1h3m15 0h3m2 0h3m3 0h3m5 0h3m0 0h3m3 0h3m1 0h3m5 0h3m3 0h3m0 0h3m-50 1h3m-2 0h3m0 0h3m-1 0h3m1 0h3m1 0h3m2 0h3m-1 0h3m7 0h3m-1 0h3m-2 0h3m1 0h3m2 0h3m-66 1h3m2 0h3m-1 0h3m0 0h3m-1 0h3m6 0h3m9 0h3m-1 0h3m6 0h3m-44 1h3m13 0h3m0 0h3m1 0h3m0 0h3m6 0h3m6 0h3m-1 0h3m1 0h3m2 0h3m-66 1h3m6 0h3m-1 0h3m1 0h3m1 0h3m-1 0h3m1 0h3m1 0h3m-2 0h3m2 0h3m0 0h3m1 0h3m3 0h3m15 0h3m-71 1h3m4 0h3m4 0h3m-1 0h3m6 0h3m-1 0h3m5 0h3m5 0h3m1 0h3m-1 0h3m-1 0h3m-2 0h3m6 0h3m8 0h3m-71 1h3m-2 0h3m-1 0h3m2 0h3m1 0h3m-1 0h3m8 0h3m5 0h3m1 0h3m17 0h3m-80 1h3m19 0h3m1 0h3m2 0h3m2 0h3m-2 0h3m8 0h3m-1 0h3m0 0h3m0 0h3m1 0h3m9 0h3m-82 1h3m17 0h3m8 0h3m0 0h3m6 0h3m2 0h3m-1 0h3m-1 0h3m-1 0h3m-2 0h3m-1 0h3m1 0h3m6 0h3m2 0h3m-78 1h3m22 0h3m14 0h3m0 0h3m7 0h3m2 0h3m3 0h3m-2 0h3m9 0h3m15 0h3m-78 1h3m4 0h3m0 0h3m9 0h3m0 0h3m3 0h3m1 0h3m5 0h3m0 0h3m1 0h3m11 0h3m-78 1h3m9 0h3m-1 0h3m-1 0h3m3 0h3m1 0h3m-2 0h3m0 0h3m5 0h3m-1 0h3m-2 0h3m7 0h3m-74 1h3m25 0h3m-1 0h3m4 0h3m0 0h3m-1 0h3m-2 0h3m0 0h3m3 0h3m-1 0h3m-1 0h3m-1 0h3m5 0h3m-2 0h3m2 0h3m5 0h3m0 0h3m-1 0h3m23 0h3m-95 1h3m4 0h3m7 0h3m2 0h3m7 0h3m3 0h3m0 0h3m1 0h3m3 0h3m3 0h3m2 0h3m-74 1h3m6 0h3m6 0h3m-1 0h3m1 0h3m5 0h3m2 0h3m8 0h3m0 0h3m2 0h3m-1 0h3m5 0h3m4 0h3m-60 1h3m0 0h3m13 0h3m0 0h3m-2 0h3m2 0h3m-1 0h3m6 0h3m2 0h3m13 0h3m16 0h3m-85 1h3m8 0h3m-1 0h3m-1 0h3m-2 0h3m5 0h3m11 0h3m-2 0h3m6 0h3m-2 0h3m-49 1h3m3 0h3m-1 0h3m2 0h3m-1 0h3m-1 0h3m-1 0h3m-1 0h3m0 0h3m0 0h3m-2 0h3m1 0h3m-1 0h3m17 0h3m1 0h3m-57 1h3m-1 0h3m1 0h3m3 0h3m0 0h3m1 0h3m0 0h3m2 0h3m2 0h3m0 0h3m-2 0h3m-1 0h3m-1 0h3m-1 0h3m-54 1h3m14 0h3m-1 0h3m2 0h3m-2 0h3m-1 0h3m2 0h3m-1 0h3m23 0h3m3 0h3m-102 1h3m14 0h3m18 0h3m3 0h3m5 0h3m10 0h3m2 0h3m3 0h3m12 0h3m-77 1h3m4 0h3m-1 0h3m13 0h3m-1 0h3m-1 0h3m-1 0h3m3 0h3m7 0h3m-1 0h3m5 0h3m4 0h3m-51 1h3m0 0h3m-1 0h3m-1 0h3m0 0h3m10 0h3m-1 0h3m-2 0h3m1 0h3m5 0h3m3 0h3m8 0h3m1 0h3m0 0h3m1 0h3m-93 1h3m21 0h3m9 0h3m-1 0h3m5 0h3m8 0h3m-1 0h3m-1 0h3m27 0h3m-83 1h3m0 0h3m7 0h3m0 0h3m2 0h3m3 0h3m-2 0h3m7 0h3m2 0h3m6 0h3m-2 0h3m6 0h3m0 0h3m3 0h3m2 0h3m-80 1h3m8 0h3m1 0h3m-1 0h3m-1 0h3m-2 0h3m7 0h3m-1 0h3m2 0h3m0 0h3m-1 0h3m-1 0h3m-2 0h3m11 0h3m-50 1h3m5 0h3m1 0h3m6 0h3m0 0h3m1 0h3m0 0h3m2 0h3m-2 0h3m3 0h3m2 0h3m-66 1h3m5 0h3m1 0h3m20 0h3m-2 0h3m-2 0h3m-1 0h3m4 0h3m5 0h3m3 0h3m-1 0h3m1 0h3m-84 1h3m5 0h3m6 0h3m-1 0h3m4 0h3m-2 0h3m-2 0h3m1 0h3m-1 0h3m1 0h3m1 0h3m0 0h3m2 0h3m4 0h3m7 0h3m4 0h3m0 0h3m-78 1h3m13 0h3m4 0h3m6 0h3m1 0h3m1 0h3m-2 0h3m2 0h3m9 0h3m-2 0h3m-2 0h3m1 0h3m3 0h3m28 0h3m-131 1h3m28 0h3m19 0h3m2 0h3m0 0h3m6 0h3m4 0h3m0 0h3m1 0h3m7 0h3m4 0h3m-79 1h3m15 0h3m9 0h3m-2 0h3m1 0h3m4 0h3m4 0h3m2 0h3m0 0h3m6 0h3m-2 0h3m16 0h3m-90 1h3m12 0h3m0 0h3m4 0h3m-1 0h3m0 0h3m-1 0h3m0 0h3m0 0h3m0 0h3m3 0h3m1 0h3m3 0h3m-2 0h3m1 0h3m-61 1h3m9 0h3m2 0h3m-1 0h3m7 0h3m4 0h3m-2 0h3m2 0h3m2 0h3m9 0h3m2 0h3m-2 0h3m-80 1h3m17 0h3m6 0h3m3 0h3m6 0h3m4 0h3m1 0h3m2 0h3m1 0h3m-1 0h3m2 0h3m0 0h3m8 0h3m-81 1h3m3 0h3m10 0h3m8 0h3m3 0h3m1 0h3m1 0h3m3 0h3m3 0h3m4 0h3m22 0h3m5 0h3m-103 1h3m14 0h3m1 0h3m1 0h3m2 0h3m-2 0h3m0 0h3m0 0h3m-1 0h3m1 0h3m-1 0h3m-1 0h3m-2 0h3m0 0h3m5 0h3m1 0h3m-2 0h3m0 0h3m-71 1h3m6 0h3m-1 0h3m3 0h3m13 0h3m-1 0h3m4 0h3m-2 0h3m12 0h3m5 0h3m4 0h3m3 0h3m1 0h3m-89 1h3m8 0h3m3 0h3m4 0h3m-2 0h3m3 0h3m-2 0h3m4 0h3m-1 0h3m7 0h3m2 0h3m-1 0h3m2 0h3m1 0h3m5 0h3m1 0h3m-53 1h3m1 0h3m9 0h3m-1 0h3m0 0h3m-1 0h3m-2 0h3m6 0h3m3 0h3m0 0h3m-63 1h3m6 0h3m2 0h3m8 0h3m3 0h3m10 0h3m0 0h3m7 0h3m41 0h3m-106 1h3m6 0h3m3 0h3m1 0h3m3 0h3m-1 0h3m-2 0h3m18 0h3m1 0h3m0 0h3m-79 1h3m30 0h3m-2 0h3m9 0h3m2 0h3m0 0h3m0 0h3m1 0h3m8 0h3m-1 0h3m7 0h3m2 0h3m4 0h3m-91 1h3m12 0h3m3 0h3m7 0h3m-1 0h3m-2 0h3m-2 0h3m6 0h3m2 0h3m4 0h3m-2 0h3m-2 0h3m-1 0h3m0 0h3m7 0h3m-70 1h3m19 0h3m2 0h3m2 0h3m3 0h3m4 0h3m-2 0h3m8 0h3m1 0h3m-64 1h3m1 0h3m2 0h3m1 0h3m0 0h3m0 0h3m-2 0h3m8 0h3m1 0h3m1 0h3m-1 0h3m-2 0h3m3 0h3m-1 0h3m2 0h3m-1 0h3m-2 0h3m7 0h3m0 0h3m-66 1h3m-1 0h3m0 0h3m5 0h3m-2 0h3m0 0h3m-2 0h3m-1 0h3m-1 0h3m3 0h3m2 0h3m2 0h3m2 0h3m-2 0h3m1 0h3m14 0h3m-69 1h3m3 0h3m-1 0h3m10 0h3m2 0h3m6 0h3m-1 0h3m1 0h3m-1 0h3m4 0h3m2 0h3m-62 1h3m3 0h3m2 0h3m3 0h3m-1 0h3m5 0h3m0 0h3m0 0h3m6 0h3m-2 0h3m0 0h3m1 0h3m1 0h3m3 0h3m10 0h3m-70 1h3m1 0h3m1 0h3m-2 0h3m0 0h3m1 0h3m-2 0h3m-2 0h3m3 0h3m3 0h3m4 0h3m3 0h3m-54 1h3m0 0h3m3 0h3m11 0h3m1 0h3m-2 0h3m-1 0h3m1 0h3m1 0h3m1 0h3m5 0h3m0 0h3m-2 0h3m13 0h3m-66 1h3m1 0h3m1 0h3m0 0h3m1 0h3m3 0h3m5 0h3m-1 0h3m10 0h3m-2 0h3m3 0h3m1 0h3m-67 1h3m9 0h3m-1 0h3m5 0h3m-2 0h3m1 0h3m3 0h3m-1 0h3m1 0h3m0 0h3m0 0h3m0 0h3m-1 0h3m5 0h3m29 0h3m-101 1h3m-2 0h3m6 0h3m0 0h3m-1 0h3m10 0h3m0 0h3m5 0h3m-1 0h3m5 0h3m-2 0h3m7 0h3m5 0h3m-73 1h3m13 0h3m0 0h3m-1 0h3m2 0h3m0 0h3m-2 0h3m3 0h3m0 0h3m-2 0h3m2 0h3m-1 0h3m4 0h3m-2 0h3m-1 0h3m-60 1h3m10 0h3m-1 0h3m1 0h3m-2 0h3m0 0h3m1 0h3m3 0h3m-2 0h3m12 0h3m5 0h3m5 0h3m36 0h3m-110 1h3m8 0h3m0 0h3m-1 0h3m0 0h3m8 0h3m6 0h3m2 0h3m1 0h3m2 0h3m0 0h3m-1 0h3m11 0h3m15 0h3m-85 1h3m1 0h3m2 0h3m-1 0h3m-2 0h3m-2 0h3m-1 0h3m1 0h3m0 0h3m1 0h3m5 0h3m1 0h3m4 0h3m-49 1h3m16 0h3m-1 0h3m3 0h3m-2 0h3m-1 0h3m22 0h3m10 0h3m-95 1h3m22 0h3m17 0h3m0 0h3m6 0h3m0 0h3m6 0h3m16 0h3m6 0h3m-2 0h3m-87 1h3m0 0h3m7 0h3m-2 0h3m0 0h3m2 0h3m0 0h3m4 0h3m0 0h3m-1 0h3m3 0h3m0 0h3m12 0h3m2 0h3m5 0h3m-69 1h3m-2 0h3m-2 0h3m1 0h3m14 0h3m1 0h3m-2 0h3m-1 0h3m0 0h3m0 0h3m2 0h3m0 0h3m2 0h3m-1 0h3m-55 1h3m6 0h3m0 0h3m0 0h3m0 0h3m-1 0h3m-1 0h3m8 0h3m-1 0h3m0 0h3m3 0h3m-1 0h3m2 0h3m3 0h3m-86 1h3m16 0h3m8 0h3m0 0h3m4 0h3m9 0h3m-2 0h3m0 0h3m-1 0h3m4 0h3m-1 0h3m4 0h3m8 0h3m0 0h3m-72 1h3m4 0h3m-1 0h3m1 0h3m-2 0h3m1 0h3m2 0h3m0 0h3m-1 0h3m-1 0h3m0 0h3m6 0h3m0 0h3m-1 0h3m20 0h3m-80 1h3m9 0h3m2 0h3m2 0h3m2 0h3m2 0h3m12 0h3m9 0h3m2 0h3m11 0h3m-78 1h3m5 0h3m0 0h3m10 0h3m5 0h3m-1 0h3m4 0h3m5 0h3m-50 1h3m7 0h3m2 0h3m-1 0h3m-1 0h3m-2 0h3m1 0h3m-1 0h3m8 0h3m5 0h3m4 0h3m-79 1h3m19 0h3m4 0h3m-1 0h3m5 0h3m4 0h3m-1 0h3m4 0h3m2 0h3m2 0h3m2 0h3m2 0h3m-2 0h3m5 0h3m5 0h3m-60 1h3m6 0h3m1 0h3m0 0h3m0 0h3m1 0h3m-2 0h3m-2 0h3m0 0h3m1 0h3m8 0h3m-2 0h3m-55 1h3m-2 0h3m10 0h3m0 0h3m0 0h3m3 0h3m-2 0h3m1 0h3m8 0h3m-1 0h3m-1 0h3m2 0h3m2 0h3m-68 1h3m10 0h3m4 0h3m-2 0h3m-2 0h3m3 0h3m-1 0h3m-1 0h3m0 0h3m3 0h3m0 0h3m-2 0h3m-1 0h3m-1 0h3m9 0h3m15 0h3m-77 1h3m-2 0h3m7 0h3m0 0h3m15 0h3m-1 0h3m0 0h3m6 0h3m2 0h3m-55 1h3m16 0h3m-1 0h3m-2 0h3m-1 0h3m8 0h3m7 0h3m1 0h3m-1 0h3m5 0h3m7 0h3m-72 1h3m7 0h3m1 0h3m0 0h3m3 0h3m1 0h3m1 0h3m-1 0h3m1 0h3m-1 0h3m12 0h3m-38 1h3m3 0h3m0 0h3m-1 0h3m4 0h3m1 0h3m2 0h3m1 0h3m-39 1h3m8 0h3m-1 0h3m9 0h3m-25 1h3m-2 0h3m3 0h3m1 0h3m-1 0h3m-1 0h3m10 0h3m-2 0h3m11 0h3m1 0h3m-57 1h3m7 0h3m3 0h3m0 0h3m4 0h3m0 0h3m-2 0h3m6 0h3m-39 1h3m-1 0h3m0 0h3m5 0h3m1 0h3m0 0h3m-2 0h3m14 0h3m-62 1h3m20 0h3m11 0h3m2 0h3m-1 0h3m0 0h3m4 0h3m6 0h3m-55 1h3m10 0h3m2 0h3m0 0h3m-2 0h3m-1 0h3m-1 0h3m0 0h3m6 0h3m-2 0h3m3 0h3m2 0h3m-33 1h3m9 0h3m1 0h3m-13 1h3m1 0h3m0 0h3m-51 1h3m49 0h3m9 0h3m-51 1h3m28 0h3m-16 1h3m0 0h3m0 0h3m10 0h3m2 0h3m-32 1h3m-2 0h3m23 0h3m16 0h3m-64 1h3m14 0h3m2 0h3m5 0h3m3 0h3m7 0h3m-30 1h3m0 0h3m2 0h3m7 0h3m-35 1h3m13 0h3m23 0h3m-14 1h3m2 0h3m-45 1h3m19 0h3m3 0h3m-23 1h3m7 0h3m7 0h3m-1 0h3m35 0h3m-55 1h3m12 0h3m11 0h3m-22 2h3m7 2h3m-22 1h3m23 0h3m-31 1h3m7 1h3m12 0h3m-25 7h3m12 6h3"/></g>
<ellipse cx="91" cy="57.5" rx="2.9" ry="1.95" fill="#f000f0" stroke="#fff" stroke-width="0.9"/><ellipse cx="91" cy="57.5" rx="3.75" ry="2.75" fill="none" stroke="#181020" stroke-width="0.75"/><ellipse cx="70" cy="75" rx="2.9" ry="1.95" fill="#f000f0" stroke="#fff" stroke-width="0.9"/><ellipse cx="70" cy="75" rx="3.75" ry="2.75" fill="none" stroke="#181020" stroke-width="0.75"/><ellipse cx="85" cy="83.5" rx="2.9" ry="1.95" fill="#f000f0" stroke="#fff" stroke-width="0.9"/><ellipse cx="85" cy="83.5" rx="3.75" ry="2.75" fill="none" stroke="#181020" stroke-width="0.75"/><ellipse cx="121.5" cy="59" rx="2.9" ry="1.95" fill="#f000f0" stroke="#fff" stroke-width="0.9"/><ellipse cx="121.5" cy="59" rx="3.75" ry="2.75" fill="none" stroke="#181020" stroke-width="0.75"/><ellipse cx="131" cy="65.5" rx="2.9" ry="1.95" fill="#1c46f0" stroke="#fff" stroke-width="0.9"/><ellipse cx="131" cy="65.5" rx="3.75" ry="2.75" fill="none" stroke="#181020" stroke-width="0.75"/><ellipse cx="138" cy="60" rx="2.9" ry="1.95" fill="#1c46f0" stroke="#fff" stroke-width="0.9"/><ellipse cx="138" cy="60" rx="3.75" ry="2.75" fill="none" stroke="#181020" stroke-width="0.75"/><ellipse cx="154.5" cy="49.6" rx="2.9" ry="1.95" fill="#1c46f0" stroke="#fff" stroke-width="0.9"/><ellipse cx="154.5" cy="49.6" rx="3.75" ry="2.75" fill="none" stroke="#181020" stroke-width="0.75"/><ellipse cx="153" cy="66.5" rx="2.9" ry="1.95" fill="#1c46f0" stroke="#fff" stroke-width="0.9"/><ellipse cx="153" cy="66.5" rx="3.75" ry="2.75" fill="none" stroke="#181020" stroke-width="0.75"/><ellipse cx="160" cy="72.7" rx="2.9" ry="1.95" fill="#1c46f0" stroke="#fff" stroke-width="0.9"/><ellipse cx="160" cy="72.7" rx="3.75" ry="2.75" fill="none" stroke="#181020" stroke-width="0.75"/><ellipse cx="168.5" cy="60" rx="2.9" ry="1.95" fill="#f000f0" stroke="#fff" stroke-width="0.9"/><ellipse cx="168.5" cy="60" rx="3.75" ry="2.75" fill="none" stroke="#181020" stroke-width="0.75"/><ellipse cx="181" cy="57.5" rx="2.9" ry="1.95" fill="#1c46f0" stroke="#fff" stroke-width="0.9"/><ellipse cx="181" cy="57.5" rx="3.75" ry="2.75" fill="none" stroke="#181020" stroke-width="0.75"/><ellipse cx="213" cy="53.5" rx="2.9" ry="1.95" fill="#1c46f0" stroke="#fff" stroke-width="0.9"/><ellipse cx="213" cy="53.5" rx="3.75" ry="2.75" fill="none" stroke="#181020" stroke-width="0.75"/><ellipse cx="142.5" cy="99.3" rx="2.9" ry="1.95" fill="#f000f0" stroke="#fff" stroke-width="0.9"/><ellipse cx="142.5" cy="99.3" rx="3.75" ry="2.75" fill="none" stroke="#181020" stroke-width="0.75"/><circle cx="475" cy="38.2" r="3.55" fill="#1c46f0" stroke="#fff" stroke-width="1.3"/><circle cx="475" cy="38.2" r="4.6" fill="none" stroke="#200828" stroke-width="1.1"/><circle cx="436.3" cy="42.7" r="3.55" fill="#f000f0" stroke="#fff" stroke-width="1.3"/><circle cx="436.3" cy="42.7" r="4.6" fill="none" stroke="#200828" stroke-width="1.1"/><circle cx="465.5" cy="47.6" r="3.55" fill="#1c46f0" stroke="#fff" stroke-width="1.3"/><circle cx="465.5" cy="47.6" r="4.6" fill="none" stroke="#200828" stroke-width="1.1"/><circle cx="456.4" cy="56.6" r="3.55" fill="#1c46f0" stroke="#fff" stroke-width="1.3"/><circle cx="456.4" cy="56.6" r="4.6" fill="none" stroke="#200828" stroke-width="1.1"/><circle cx="442.5" cy="56.8" r="3.55" fill="#f000f0" stroke="#fff" stroke-width="1.3"/><circle cx="442.5" cy="56.8" r="4.6" fill="none" stroke="#200828" stroke-width="1.1"/><circle cx="445" cy="60.2" r="3.55" fill="#f000f0" stroke="#fff" stroke-width="1.3"/><circle cx="445" cy="60.2" r="4.6" fill="none" stroke="#200828" stroke-width="1.1"/><circle cx="432.6" cy="62.6" r="3.55" fill="#1c46f0" stroke="#fff" stroke-width="1.3"/><circle cx="432.6" cy="62.6" r="4.6" fill="none" stroke="#200828" stroke-width="1.1"/><circle cx="449.4" cy="63.8" r="3.55" fill="#1c46f0" stroke="#fff" stroke-width="1.3"/><circle cx="449.4" cy="63.8" r="4.6" fill="none" stroke="#200828" stroke-width="1.1"/><circle cx="434.2" cy="70" r="3.55" fill="#1c46f0" stroke="#fff" stroke-width="1.3"/><circle cx="434.2" cy="70" r="4.6" fill="none" stroke="#200828" stroke-width="1.1"/><circle cx="405.5" cy="72.4" r="3.55" fill="#f000f0" stroke="#fff" stroke-width="1.3"/><circle cx="405.5" cy="72.4" r="4.6" fill="none" stroke="#200828" stroke-width="1.1"/><circle cx="418.4" cy="80" r="3.55" fill="#f000f0" stroke="#fff" stroke-width="1.3"/><circle cx="418.4" cy="80" r="4.6" fill="none" stroke="#200828" stroke-width="1.1"/><circle cx="410.5" cy="108" r="3.55" fill="#f000f0" stroke="#fff" stroke-width="1.3"/><circle cx="410.5" cy="108" r="4.6" fill="none" stroke="#200828" stroke-width="1.1"/><circle cx="342" cy="103" r="3.55" fill="#f000f0" stroke="#fff" stroke-width="1.3"/><circle cx="342" cy="103" r="4.6" fill="none" stroke="#200828" stroke-width="1.1"/>
<path d="M320.4 10.6V206.6H517.2" fill="none" stroke="#1a1a1a" stroke-width="1.2"/>
<path d="M318.3 15.2H320.4M318.3 30.2H320.4M318.3 32.3H320.4M318.3 35.1H320.4M318.3 38.0H320.4M318.3 41.6H320.4M318.3 45.9H320.4M318.3 51.1H320.4M318.3 57.7H320.4M318.3 74.2H320.4M318.3 76.3H320.4M318.3 78.8H320.4M318.3 81.6H320.4M318.3 85.3H320.4M318.3 90.2H320.4M318.3 96.5H320.4M318.3 105.5H320.4M318.3 126.9H320.4M318.3 130.3H320.4M318.3 133.4H320.4M318.3 137.1H320.4M318.3 141.4H320.4M318.3 146.5H320.4M318.3 151.9H320.4M318.3 157.3H320.4M318.3 183.0H320.4M318.3 188.5H320.4M318.3 193.8H320.4M318.3 198.3H320.4M318.3 202.5H320.4M315.8 27.9H320.4M315.8 71.4H320.4M315.8 123.2H320.4M315.4 164.4H320.4M315.4 170.3H320.4M315.4 176.2H320.4M324.2 206.6V208.7M353.8 206.6V208.7M360.6 206.6V208.7M366.8 206.6V208.7M372.6 206.6V208.7M377.9 206.6V208.7M382.7 206.6V208.7M386.5 206.6V208.7M389.9 206.6V208.7M411.1 206.6V208.7M421.5 206.6V208.7M428.4 206.6V208.7M433.6 206.6V208.7M438.3 206.6V208.7M441.7 206.6V208.7M444.6 206.6V208.7M463.8 206.6V208.7M473.9 206.6V208.7M480.4 206.6V208.7M485.4 206.6V208.7M489.0 206.6V208.7M491.9 206.6V208.7M494.8 206.6V208.7M511.4 206.6V208.7M392.8 206.6V210.3M447.9 206.6V210.3M497.0 206.6V210.3M331.5 206.6V211.2M338.4 206.6V211.2M346.8 206.6V211.2" stroke="#1a1a1a" stroke-width="0.9" fill="none"/>
<path d="M331.5 208H346.8" stroke="#111" stroke-width="2.2"/>
<path d="M319 164.4V176.2" stroke="#111" stroke-width="2.2"/>
<g opacity="0.995"><text x="338.4" y="218.5" font-weight="bold" font-size="7.4" text-anchor="middle" fill="#111" stroke="#111" stroke-width="0.6" letter-spacing="0.2">0</text>
<text x="392.7" y="218.5" font-weight="bold" font-size="7.4" text-anchor="middle" fill="#111" stroke="#111" stroke-width="0.6" letter-spacing="0.2">1E3</text>
<text x="448.8" y="218.5" font-weight="bold" font-size="7.4" text-anchor="middle" fill="#111" stroke="#111" stroke-width="0.6" letter-spacing="0.2">1E4</text>
<text x="497.6" y="218.5" font-weight="bold" font-size="7.4" text-anchor="middle" fill="#111" stroke="#111" stroke-width="0.6" letter-spacing="0.2">1E5</text>
<text transform="translate(312.4,27.4) rotate(-90)" font-weight="bold" font-size="7.4" text-anchor="middle" fill="#111" stroke="#111" stroke-width="0.6" letter-spacing="0.2">1E5</text>
<text transform="translate(312.4,70.8) rotate(-90)" font-weight="bold" font-size="7.4" text-anchor="middle" fill="#111" stroke="#111" stroke-width="0.6" letter-spacing="0.2">1E4</text>
<text transform="translate(312.4,122.4) rotate(-90)" font-weight="bold" font-size="7.4" text-anchor="middle" fill="#111" stroke="#111" stroke-width="0.6" letter-spacing="0.2">1E3</text>
<text transform="translate(312.4,169.8) rotate(-90)" font-weight="bold" font-size="7.4" text-anchor="middle" fill="#111" stroke="#111" stroke-width="0.6" letter-spacing="0.2">0</text>
<text x="321.4" y="231.6" font-weight="bold" font-size="10.5" fill="#a806b8" stroke="#a806b8" stroke-width="0.75" textLength="137" lengthAdjust="spacing">smIgM:APC-A LOGICAL</text>
<text transform="translate(302.7,209.8) rotate(-90)" font-weight="bold" font-size="11" fill="#1ed81e" stroke="#1ed81e" stroke-width="0.75" textLength="184" lengthAdjust="spacing">CD79b:PerCP Cy5-5-A LOGICAL</text>
<text x="0.9" y="14.8" font-weight="bold" font-size="17.8" fill="#000" stroke="#000" stroke-width="0.3">A</text>
<text x="293.5" y="14.7" font-weight="bold" font-size="17.4" fill="#000" stroke="#000" stroke-width="0.3">B</text>
<text x="20.2" y="158.9" font-weight="bold" font-size="7" fill="#111" stroke="#111" stroke-width="0.45" letter-spacing="0.8" word-spacing="1" textLength="31.4" lengthAdjust="spacingAndGlyphs">APS 1</text></g>
<path d="M8 151H275" stroke="#777" stroke-width="1.6"/>
<g opacity="0.995"><rect x="1.5" y="172.2" width="272" height="70" fill="none" stroke="#666" stroke-width="1.2"/>
<path d="M1.5 172.3H273.5" stroke="#888" stroke-width="1.6"/>
<path d="M1.5 189.6H273.5M1.5 207.2H273.5M1.5 224.7H273.5M144.7 172.2V242.2M75.5 189.6V242.2M209.5 189.6V242.2" stroke="#555" stroke-width="1"/>
<text x="73.1" y="181.6" font-size="10" fill="#1e1e1e" stroke="#1e1e1e" stroke-width="0.15" text-anchor="middle">PC1 (x-axis)</text>
<text x="209.1" y="181.6" font-size="10" fill="#1e1e1e" stroke="#1e1e1e" stroke-width="0.15" text-anchor="middle">PC2 (y-axis)</text>
<text x="38.5" y="198.9" font-size="10" fill="#1e1e1e" stroke="#1e1e1e" stroke-width="0.15" text-anchor="middle">SmIgM</text>
<text x="110.1" y="198.9" font-size="10" fill="#1e1e1e" stroke="#1e1e1e" stroke-width="0.15" text-anchor="middle">18%</text>
<text x="177.1" y="198.9" font-size="10" fill="#1e1e1e" stroke="#1e1e1e" stroke-width="0.15" text-anchor="middle">CD27</text>
<text x="241.5" y="198.9" font-size="10" fill="#1e1e1e" stroke="#1e1e1e" stroke-width="0.15" text-anchor="middle">11%</text>
<text x="38.5" y="216.4" font-size="10" fill="#1e1e1e" stroke="#1e1e1e" stroke-width="0.15" text-anchor="middle">CD79b</text>
<text x="110.1" y="216.4" font-size="10" fill="#1e1e1e" stroke="#1e1e1e" stroke-width="0.15" text-anchor="middle">10%</text>
<text x="177.1" y="216.4" font-size="10" fill="#1e1e1e" stroke="#1e1e1e" stroke-width="0.15" text-anchor="middle">CD39</text>
<text x="241.5" y="216.4" font-size="10" fill="#1e1e1e" stroke="#1e1e1e" stroke-width="0.15" text-anchor="middle">10%</text>
<text x="38.5" y="233.5" font-size="10" fill="#1e1e1e" stroke="#1e1e1e" stroke-width="0.15" text-anchor="middle">CD43</text>
<text x="110.1" y="233.5" font-size="10" fill="#1e1e1e" stroke="#1e1e1e" stroke-width="0.15" text-anchor="middle">9%</text>
<text x="177.1" y="233.5" font-size="10" fill="#1e1e1e" stroke="#1e1e1e" stroke-width="0.15" text-anchor="middle">CD5</text>
<text x="241.5" y="233.5" font-size="10" fill="#1e1e1e" stroke="#1e1e1e" stroke-width="0.15" text-anchor="middle">8%</text></g>
</svg>
</body></html>
